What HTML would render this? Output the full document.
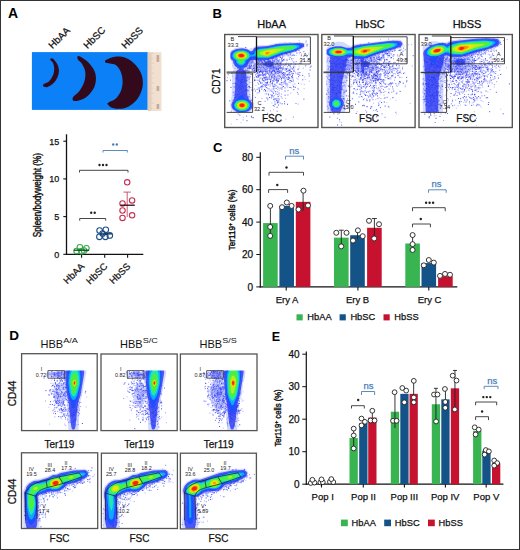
<!DOCTYPE html>
<html><head><meta charset="utf-8"><style>
html,body{margin:0;padding:0;background:#fff;}
svg{display:block;}
text{font-family:"Liberation Sans",sans-serif;}
</style></head><body>
<svg width="520" height="550" viewBox="0 0 520 550">
<defs><clipPath id="c0"><rect x="226" y="36" width="92" height="90"/></clipPath><clipPath id="c1"><rect x="230.3" y="36" width="87.69999999999999" height="76.3"/></clipPath><clipPath id="c2"><rect x="326.3" y="36" width="88.69999999999999" height="90"/></clipPath><clipPath id="c3"><rect x="326.3" y="36" width="88.69999999999999" height="76.3"/></clipPath><clipPath id="c4"><rect x="422.5" y="36" width="89.5" height="90"/></clipPath><clipPath id="c5"><rect x="422.5" y="36" width="89.5" height="76.3"/></clipPath><clipPath id="c6"><rect x="21.6" y="370.4" width="76.0" height="60.200000000000045"/></clipPath><clipPath id="c7"><rect x="101.0" y="370.4" width="76.0" height="60.200000000000045"/></clipPath><clipPath id="c8"><rect x="180.4" y="370.4" width="75.99999999999997" height="60.200000000000045"/></clipPath><filter id="fb" x="-5%" y="-5%" width="110%" height="110%"><feGaussianBlur stdDeviation="0.45"/></filter></defs>
<rect x="0" y="0" width="520" height="550" fill="#fff"/>
<text x="8" y="18" font-size="14" text-anchor="start" fill="#000" font-weight="bold" >A</text>
<text transform="translate(52.6,49.3) rotate(-45) scale(1.0,1)" font-size="9.8" text-anchor="start" fill="#111" stroke="#111" stroke-width="0.25">HbAA</text>
<text transform="translate(87.6,49.3) rotate(-45) scale(1.0,1)" font-size="9.8" text-anchor="start" fill="#111" stroke="#111" stroke-width="0.25">HbSC</text>
<text transform="translate(125.6,49.3) rotate(-45) scale(1.0,1)" font-size="9.8" text-anchor="start" fill="#111" stroke="#111" stroke-width="0.25">HbSS</text>
<rect x="31.9" y="52.1" width="115.9" height="57.8" fill="#0c80f7" />
<rect x="147.8" y="52.2" width="13.6" height="58.8" fill="#f1dfd0" />
<rect x="147.8" y="52.2" width="1.4" height="58.8" fill="#e6c9b6" />
<path d="M149.3,53.2h4.6M149.3,54.2h2.2M149.3,55.2h2.2M149.3,56.2h2.2M149.3,57.2h2.2M149.3,58.2h3.6M149.3,59.2h2.2M149.3,60.2h2.2M149.3,61.2h2.2M149.3,62.2h2.2M149.3,63.2h4.6M149.3,64.2h2.2M149.3,65.2h2.2M149.3,66.2h2.2M149.3,67.2h2.2M149.3,68.2h3.6M149.3,69.2h2.2M149.3,70.2h2.2M149.3,71.2h2.2M149.3,72.2h2.2M149.3,73.2h4.6M149.3,74.2h2.2M149.3,75.2h2.2M149.3,76.2h2.2M149.3,77.2h2.2M149.3,78.2h3.6M149.3,79.2h2.2M149.3,80.2h2.2M149.3,81.2h2.2M149.3,82.2h2.2M149.3,83.2h4.6M149.3,84.2h2.2M149.3,85.2h2.2M149.3,86.2h2.2M149.3,87.2h2.2M149.3,88.2h3.6M149.3,89.2h2.2M149.3,90.2h2.2M149.3,91.2h2.2M149.3,92.2h2.2M149.3,93.2h4.6M149.3,94.2h2.2M149.3,95.2h2.2M149.3,96.2h2.2M149.3,97.2h2.2M149.3,98.2h3.6M149.3,99.2h2.2M149.3,100.2h2.2M149.3,101.2h2.2M149.3,102.2h2.2M149.3,103.2h4.6M149.3,104.2h2.2M149.3,105.2h2.2M149.3,106.2h2.2M149.3,107.2h2.2M149.3,108.2h3.6M149.3,109.2h2.2M149.3,110.2h2.2" stroke="#c9a898" stroke-width="0.35"/>
<rect x="156.6" y="55" width="2.6" height="7" fill="#a08070" opacity="0.55" />
<rect x="156.6" y="86" width="2.6" height="5" fill="#a08070" opacity="0.55" />
<rect x="156.6" y="104" width="2.6" height="5" fill="#a08070" opacity="0.55" />
<path d="M52.2,58.3 C53.3,58.9 55.8,61.5 56.9,63.5 C58.0,65.5 58.8,68.0 58.9,70.2 C59.0,72.4 58.5,74.8 57.6,76.9 C56.7,79.0 55.3,81.3 53.6,83.0 C51.9,84.7 49.2,86.4 47.5,87.0 C45.8,87.6 44.2,87.0 43.5,86.6 C42.8,86.1 42.6,85.1 43.5,84.3 C44.4,83.5 47.2,83.0 48.8,81.6 C50.4,80.1 52.0,77.7 52.9,75.6 C53.8,73.5 54.2,70.9 54.2,68.8 C54.2,66.7 53.6,64.3 52.9,62.8 C52.2,61.3 50.3,60.5 50.2,59.7 C50.1,59.0 51.1,57.7 52.2,58.3Z" fill="#330a1c"/>
<path d="M78.5,56.0 C80.0,56.2 84.0,58.7 86.5,60.8 C89.0,62.9 91.7,66.1 93.3,68.8 C94.9,71.5 95.7,74.0 95.9,76.9 C96.1,79.8 95.7,83.4 94.6,86.3 C93.5,89.2 91.5,92.2 89.2,94.4 C87.0,96.7 83.7,98.7 81.1,99.8 C78.5,100.9 75.0,101.4 73.7,100.9 C72.4,100.5 72.1,98.8 73.1,97.1 C74.1,95.3 77.9,93.1 79.8,90.4 C81.7,87.7 83.6,84.2 84.5,81.0 C85.4,77.8 85.7,74.4 85.2,71.5 C84.8,68.6 83.0,65.5 81.8,63.5 C80.6,61.5 78.3,60.6 77.8,59.4 C77.2,58.1 77.0,55.8 78.5,56.0Z" fill="#330a1c"/>
<path d="M105.8,60.1 C107.4,59.1 111.8,57.0 115.2,56.7 C118.6,56.4 122.6,56.8 126.0,58.1 C129.4,59.5 132.8,62.1 135.4,64.8 C138.0,67.5 140.2,70.8 141.4,74.2 C142.6,77.6 143.1,81.4 142.8,85.0 C142.5,88.6 141.1,92.7 139.4,95.8 C137.7,98.9 135.4,101.7 132.7,103.8 C130.0,105.9 126.7,107.8 123.3,108.5 C119.9,109.2 115.1,108.6 112.5,107.9 C109.9,107.2 108.5,105.4 107.8,104.5 C107.1,103.6 107.3,103.4 108.5,102.5 C109.7,101.6 113.2,100.9 115.2,99.1 C117.2,97.3 119.4,94.5 120.6,91.7 C121.8,88.9 122.5,85.4 122.6,82.3 C122.7,79.2 122.2,75.7 121.2,72.9 C120.2,70.1 118.4,67.1 116.5,65.5 C114.6,63.9 111.6,64.0 109.8,63.5 C108.0,63.0 106.5,63.4 105.8,62.8 C105.1,62.2 104.2,61.1 105.8,60.1Z" fill="#330a1c"/>
<line x1="66.5" y1="134.3" x2="66.5" y2="254.9" stroke="#111" stroke-width="1.3"/>
<line x1="65.9" y1="254.3" x2="143.3" y2="254.3" stroke="#111" stroke-width="1.3"/>
<line x1="63.3" y1="254.3" x2="66.5" y2="254.3" stroke="#111" stroke-width="1.1"/>
<text x="59.2" y="257.6" font-size="9" text-anchor="end" fill="#111" font-weight="normal" stroke="#111" stroke-width="0.25" >0</text>
<line x1="63.3" y1="216.60000000000002" x2="66.5" y2="216.60000000000002" stroke="#111" stroke-width="1.1"/>
<text x="59.2" y="219.90000000000003" font-size="9" text-anchor="end" fill="#111" font-weight="normal" stroke="#111" stroke-width="0.25" >5</text>
<line x1="63.3" y1="178.9" x2="66.5" y2="178.9" stroke="#111" stroke-width="1.1"/>
<text x="59.2" y="182.20000000000002" font-size="9" text-anchor="end" fill="#111" font-weight="normal" stroke="#111" stroke-width="0.25" >10</text>
<line x1="63.3" y1="141.20000000000002" x2="66.5" y2="141.20000000000002" stroke="#111" stroke-width="1.1"/>
<text x="59.2" y="144.50000000000003" font-size="9" text-anchor="end" fill="#111" font-weight="normal" stroke="#111" stroke-width="0.25" >15</text>
<line x1="81.6" y1="254.3" x2="81.6" y2="257.7" stroke="#111" stroke-width="1.1"/>
<line x1="104.7" y1="254.3" x2="104.7" y2="257.7" stroke="#111" stroke-width="1.1"/>
<line x1="127.6" y1="254.3" x2="127.6" y2="257.7" stroke="#111" stroke-width="1.1"/>
<text transform="translate(84.89999999999999,267) rotate(-45) scale(1.0,1)" font-size="9.5" text-anchor="end" fill="#111" stroke="#111" stroke-width="0.25">HbAA</text>
<text transform="translate(108.0,267) rotate(-45) scale(1.0,1)" font-size="9.5" text-anchor="end" fill="#111" stroke="#111" stroke-width="0.25">HbSC</text>
<text transform="translate(130.9,267) rotate(-45) scale(1.0,1)" font-size="9.5" text-anchor="end" fill="#111" stroke="#111" stroke-width="0.25">HbSS</text>
<text transform="translate(41.2,195.1) rotate(-90) scale(0.82,1)" font-size="10" text-anchor="middle" fill="#111" stroke="#111" stroke-width="0.42">Spleen/bodyweight (%)</text>
<circle cx="79.9" cy="247.3" r="2.8" fill="none" stroke="#3aa84e" stroke-width="1.1"/>
<circle cx="86.4" cy="248.3" r="2.8" fill="none" stroke="#3aa84e" stroke-width="1.1"/>
<circle cx="76.6" cy="251" r="2.8" fill="none" stroke="#3aa84e" stroke-width="1.1"/>
<circle cx="81.6" cy="251.2" r="2.8" fill="none" stroke="#3aa84e" stroke-width="1.1"/>
<circle cx="84" cy="250.5" r="2.8" fill="none" stroke="#3aa84e" stroke-width="1.1"/>
<line x1="73.9" y1="250.2" x2="88.9" y2="250.2" stroke="#0a4a1a" stroke-width="1.3"/>
<circle cx="99.6" cy="230.5" r="2.8" fill="none" stroke="#1d4f86" stroke-width="1.1"/>
<circle cx="105.8" cy="229.8" r="2.8" fill="none" stroke="#1d4f86" stroke-width="1.1"/>
<circle cx="99.4" cy="236.8" r="2.8" fill="none" stroke="#1d4f86" stroke-width="1.1"/>
<circle cx="105.4" cy="236.8" r="2.8" fill="none" stroke="#1d4f86" stroke-width="1.1"/>
<circle cx="109.8" cy="235.4" r="2.8" fill="none" stroke="#1d4f86" stroke-width="1.1"/>
<circle cx="102.6" cy="233.5" r="2.8" fill="none" stroke="#1d4f86" stroke-width="1.1"/>
<line x1="100.3" y1="233.9" x2="111.8" y2="233.9" stroke="#0a2a50" stroke-width="1.3"/>
<line x1="127.2" y1="192.1" x2="127.2" y2="217" stroke="#c03050" stroke-width="0.8"/>
<line x1="123.4" y1="192.1" x2="130.8" y2="192.1" stroke="#c03050" stroke-width="0.8"/>
<circle cx="127.2" cy="182.3" r="2.7" fill="none" stroke="#c83050" stroke-width="1.1"/>
<circle cx="132.1" cy="200.4" r="2.7" fill="none" stroke="#c83050" stroke-width="1.1"/>
<circle cx="122.5" cy="203.5" r="2.7" fill="none" stroke="#c83050" stroke-width="1.1"/>
<circle cx="122.5" cy="210.5" r="2.7" fill="none" stroke="#c83050" stroke-width="1.1"/>
<circle cx="122.5" cy="217.9" r="2.7" fill="none" stroke="#c83050" stroke-width="1.1"/>
<circle cx="132.1" cy="215.3" r="2.7" fill="none" stroke="#c83050" stroke-width="1.1"/>
<line x1="120.4" y1="205.2" x2="134.8" y2="205.2" stroke="#2a0a10" stroke-width="1.3"/>
<path d="M79.7,220.7 V218.5 H105.7 V220.7" fill="none" stroke="#333" stroke-width="0.9"/>
<circle cx="91.2" cy="212.8" r="1.2" fill="#222"/>
<circle cx="94.7" cy="212.8" r="1.2" fill="#222"/>
<path d="M79.5,172.5 V170.3 H128 V172.5" fill="none" stroke="#333" stroke-width="0.9"/>
<circle cx="99.5" cy="165" r="1.2" fill="#222"/>
<circle cx="103.0" cy="165" r="1.2" fill="#222"/>
<circle cx="106.5" cy="165" r="1.2" fill="#222"/>
<path d="M103,152.5 V150.5 H127.4 V152.5" fill="none" stroke="#4a7fb8" stroke-width="0.9"/>
<circle cx="113.2" cy="144.5" r="1.2" fill="#4a7fb8"/>
<circle cx="116.8" cy="144.5" r="1.2" fill="#4a7fb8"/>
<text x="212.5" y="18.3" font-size="13" text-anchor="start" fill="#000" font-weight="bold" >B</text>
<text x="271.7" y="28" font-size="11" text-anchor="middle" fill="#111" font-weight="normal" stroke="#111" stroke-width="0.25" >HbAA</text>
<text x="370" y="28" font-size="11" text-anchor="middle" fill="#111" font-weight="normal" stroke="#111" stroke-width="0.25" >HbSC</text>
<text x="467" y="28" font-size="11" text-anchor="middle" fill="#111" font-weight="normal" stroke="#111" stroke-width="0.25" >HbSS</text>
<g clip-path="url(#c0)">
<path d="M246.0 56.7h1M289.8 70.1h1M290.5 68.0h1M244.3 60.5h1M254.7 69.9h1M266.7 73.1h1M260.6 72.1h1M235.0 65.5h1M244.5 103.9h1M242.6 82.7h1M274.8 51.9h1M277.7 73.3h1M291.6 47.4h1M306.5 45.9h1M309.6 70.0h1M265.3 74.0h1M266.2 87.6h1M249.0 86.6h1M238.3 62.7h1M292.4 73.3h1M258.6 80.4h1M249.2 68.1h1M248.4 96.4h1M275.6 80.3h1M242.2 54.1h1M243.5 73.6h1M279.9 63.5h1M240.4 83.8h1M248.3 59.6h1M247.0 55.3h1M249.1 67.1h1M241.0 77.1h1M276.6 107.2h1M264.5 69.1h1M278.4 72.1h1M310.7 66.1h1M248.6 65.8h1M251.8 62.1h1M277.3 70.0h1M270.7 71.4h1M286.8 75.2h1M240.2 88.2h1M265.4 77.6h1M258.1 62.1h1M269.5 68.3h1M269.4 65.7h1M302.4 45.5h1M246.0 85.2h1M253.3 65.6h1M243.3 101.1h1M238.3 91.6h1M246.8 70.2h1M249.3 61.8h1M279.5 76.0h1M246.2 66.0h1M272.3 76.9h1M259.2 69.5h1M282.4 69.4h1M265.7 85.6h1M281.8 73.4h1M272.3 75.5h1M252.2 90.3h1M279.0 76.1h1M243.2 86.9h1M280.8 82.8h1M277.3 78.2h1M285.4 64.3h1M234.7 83.5h1M280.3 71.1h1M265.6 73.8h1M273.8 68.0h1M256.4 64.2h1M244.6 70.3h1M276.5 80.4h1M277.6 72.1h1M268.8 66.5h1M265.4 73.0h1M286.5 83.9h1M278.8 84.2h1M273.1 65.2h1M248.8 64.1h1M239.4 88.7h1M281.2 60.0h1M269.0 97.5h1M261.1 63.2h1M289.6 57.3h1M264.8 71.7h1M282.4 55.0h1M273.6 86.4h1M246.8 99.5h1M283.7 81.4h1M276.8 102.9h1M287.0 104.3h1M261.9 61.8h1M293.3 62.1h1M286.0 68.9h1M278.3 101.0h1M241.0 107.0h1M274.7 73.6h1M268.9 79.0h1M244.7 76.9h1M239.6 64.2h1M251.4 117.4h1M253.4 64.9h1M261.3 89.1h1M260.2 87.1h1M272.2 71.9h1M281.5 58.4h1M233.5 95.4h1M253.4 58.7h1M279.6 88.1h1M263.0 71.8h1M292.0 69.0h1M278.0 69.4h1M289.6 52.7h1M245.8 64.1h1M236.9 76.1h1M273.7 79.6h1M281.3 85.1h1M273.1 89.0h1M281.1 58.9h1M278.1 53.8h1M278.5 71.0h1M274.8 65.2h1M267.6 67.4h1M253.3 59.3h1M235.2 96.3h1M269.8 63.0h1M243.8 61.6h1M246.8 63.1h1M264.1 74.3h1M275.7 70.0h1M307.0 55.7h1M267.0 82.6h1M271.3 58.8h1M273.0 93.2h1M267.1 73.4h1M262.7 65.6h1M264.5 85.5h1M250.6 100.3h1M279.6 63.0h1M259.0 75.0h1M284.6 91.0h1M256.7 62.0h1M248.4 77.4h1M261.7 82.9h1M272.3 86.0h1M277.0 102.0h1M267.2 68.2h1M252.7 68.3h1M255.7 64.8h1M240.3 81.3h1M262.8 54.3h1M251.2 65.1h1M266.7 79.8h1M271.3 91.2h1M269.7 74.4h1M283.6 75.7h1M288.9 59.1h1M272.5 66.4h1M241.1 88.8h1M258.9 89.1h1M244.6 66.6h1M241.0 74.3h1M254.8 69.3h1M253.2 62.9h1M274.4 76.9h1M291.7 55.4h1M297.6 89.0h1M257.9 65.1h1M245.2 55.8h1M247.6 67.7h1M270.5 66.3h1M247.3 65.1h1M268.1 63.6h1M259.5 75.6h1M253.4 66.9h1M238.1 87.3h1M278.0 105.0h1M297.5 73.0h1M288.7 74.5h1M259.2 49.7h1M287.7 49.4h1M271.8 77.5h1M264.8 86.8h1M266.4 97.9h1M239.8 82.8h1M296.5 49.8h1M276.4 67.1h1M294.9 49.6h1M242.9 76.2h1M241.2 81.1h1M272.8 67.9h1M241.0 86.4h1M230.0 80.2h1M258.0 69.9h1M249.7 59.6h1M257.6 68.0h1M251.9 69.6h1M261.0 54.2h1M254.3 63.8h1M274.3 75.2h1M272.7 70.7h1M260.0 58.7h1M280.4 64.0h1M278.0 69.3h1M282.4 60.4h1M279.6 76.7h1M242.7 60.2h1M239.9 98.2h1M256.5 62.0h1M229.3 100.9h1M259.1 62.5h1M258.9 58.5h1M260.8 60.1h1M275.9 80.2h1M280.1 68.8h1M239.9 56.2h1M258.0 62.8h1M306.6 44.4h1M261.5 72.0h1M274.6 98.9h1M240.3 59.0h1M277.2 68.5h1M248.1 72.4h1M270.0 79.8h1M268.0 94.8h1M246.6 87.3h1M272.1 83.8h1M290.8 71.5h1M293.4 71.1h1M286.2 53.1h1M261.0 56.0h1M274.5 99.0h1M262.2 62.3h1M266.1 67.6h1M258.1 63.5h1M239.7 87.3h1M286.7 71.1h1M302.2 75.4h1M278.1 51.6h1M278.2 72.2h1M299.4 72.5h1M271.7 95.1h1M266.4 79.0h1M248.3 55.0h1M283.9 75.4h1M241.2 74.4h1M250.2 63.8h1M250.7 59.0h1M281.4 88.0h1M303.4 99.1h1M268.6 58.3h1M289.7 74.8h1M294.5 49.8h1M286.1 69.5h1M240.7 90.1h1M254.3 80.7h1M273.9 68.1h1M278.4 75.0h1M251.2 58.4h1M251.8 70.8h1M270.1 72.2h1M290.6 63.8h1M278.5 70.9h1M270.8 73.6h1M267.8 61.6h1M242.8 52.9h1M261.8 64.5h1M280.5 62.7h1M251.5 60.1h1M247.0 60.6h1M273.5 68.4h1M259.7 55.0h1M238.6 63.1h1M237.1 88.9h1M257.6 58.2h1M279.7 71.4h1M282.0 55.4h1M286.5 75.2h1M256.4 76.9h1M281.4 61.3h1M263.6 60.7h1M275.8 78.3h1M258.1 71.1h1M244.2 81.0h1M254.2 65.1h1M282.7 72.5h1M284.9 53.1h1M277.6 66.6h1M308.3 59.1h1M297.5 69.6h1M259.2 81.6h1M267.3 66.7h1M243.5 71.7h1M248.3 61.9h1M270.8 97.9h1M244.4 64.0h1M261.8 62.5h1M251.6 59.4h1M293.3 89.7h1M289.6 65.8h1M271.9 64.6h1M282.1 56.6h1M282.1 52.1h1M257.5 67.2h1M245.8 65.0h1M267.3 81.9h1M275.2 57.2h1M256.5 73.8h1M233.7 86.9h1M240.8 64.0h1M270.7 63.8h1M277.7 96.6h1M266.4 56.4h1M266.8 68.8h1M271.5 83.7h1M245.8 66.5h1M264.2 63.9h1M275.7 56.9h1M287.6 55.8h1M278.7 78.7h1M249.5 58.8h1M265.1 67.0h1M276.0 71.4h1M275.5 93.9h1M273.6 67.2h1M270.8 77.9h1M260.1 82.3h1M297.6 74.4h1M269.1 60.7h1M284.6 95.2h1M256.6 89.3h1M274.6 58.7h1M271.9 82.3h1M245.3 47.5h1M241.9 59.4h1M295.2 64.2h1M265.0 75.0h1M234.4 97.5h1M274.7 66.2h1M268.9 77.3h1M284.5 87.9h1M247.0 84.8h1M276.3 72.8h1M250.3 101.0h1M290.4 71.4h1M242.5 79.5h1M276.9 63.1h1M277.1 54.8h1M263.0 70.7h1M248.3 56.9h1" stroke="#3040ff" stroke-width="0.9"/><path d="M277.5 53.6h1M245.4 75.1h1M239.9 80.6h1M242.9 63.8h1M239.4 93.5h1M265.3 69.5h1M295.7 61.6h1M263.6 74.8h1M282.3 68.3h1M246.1 116.1h1M279.4 70.6h1M249.2 61.1h1M258.4 75.8h1M292.5 81.7h1M284.0 77.8h1M271.2 63.1h1M299.4 75.7h1M293.3 55.0h1M261.8 78.5h1M273.2 86.9h1M263.0 60.6h1M292.8 117.1h1M268.1 52.0h1M269.3 70.3h1M258.0 74.0h1M256.9 58.1h1M249.4 61.3h1M268.6 79.3h1M270.2 81.5h1M275.5 85.6h1M274.2 73.7h1M257.4 60.6h1M265.5 73.3h1M282.3 56.8h1M271.6 58.2h1M303.3 51.7h1M271.0 77.4h1M243.7 66.4h1M238.3 83.8h1M259.7 68.0h1M270.6 72.2h1M255.7 69.4h1M257.0 58.4h1M245.7 66.7h1M237.2 77.3h1M281.1 71.9h1M250.6 54.1h1M284.9 76.5h1M263.1 63.9h1M259.6 78.2h1M240.3 99.4h1M274.6 104.6h1M274.4 101.8h1M255.6 65.5h1M254.6 67.2h1M255.6 54.8h1M281.0 72.6h1M252.5 66.5h1M261.2 67.4h1M244.3 95.6h1M270.3 64.4h1M251.1 68.7h1M282.8 66.7h1M275.2 59.8h1M271.9 60.3h1M295.3 51.4h1M243.0 65.2h1M233.7 92.0h1M298.9 63.4h1M264.8 76.0h1M238.6 100.5h1M260.9 65.1h1M247.0 89.7h1M247.5 97.5h1M272.7 62.4h1M265.3 84.5h1M281.0 78.0h1M277.9 66.1h1M253.6 56.8h1M274.4 63.0h1M287.8 46.4h1M243.8 60.4h1M248.2 60.4h1M260.2 64.3h1M267.8 60.2h1M243.1 102.7h1M257.9 69.4h1M262.3 57.4h1M280.7 96.8h1M275.8 67.6h1M279.6 57.2h1M280.7 54.2h1M269.6 65.8h1M267.2 78.6h1M284.7 47.6h1M254.4 69.2h1M271.6 71.5h1M262.1 70.2h1M271.1 78.2h1M266.6 52.0h1M271.4 95.1h1M264.5 48.8h1M248.8 79.2h1M288.5 48.4h1M255.7 59.2h1M277.1 87.1h1M280.0 66.5h1M268.1 62.3h1M297.7 94.1h1M270.8 69.2h1M256.3 65.6h1M261.7 75.4h1M263.3 77.9h1M265.5 53.6h1M248.6 68.1h1M249.6 60.5h1M275.0 66.1h1M258.4 65.4h1M263.8 60.1h1M265.9 51.6h1M250.0 55.0h1M272.0 59.7h1M262.1 63.9h1M268.2 61.3h1M298.0 76.6h1M270.0 63.1h1M280.1 48.3h1M232.4 100.5h1M270.0 61.4h1M271.0 64.1h1M279.4 72.7h1M277.7 73.2h1M283.7 82.9h1M236.4 119.6h1M269.2 115.6h1M270.3 52.4h1M256.7 73.3h1M255.0 91.0h1M257.3 75.5h1M247.5 68.2h1M274.2 54.4h1M243.4 90.9h1M273.1 63.2h1M261.2 58.5h1M262.6 64.4h1M237.6 55.4h1M260.0 67.9h1M232.6 83.4h1M276.7 111.2h1M264.9 71.5h1M239.0 59.6h1M240.4 108.5h1M237.2 85.5h1M242.0 82.6h1M258.0 67.0h1M274.0 84.3h1M245.2 51.1h1M262.4 78.1h1M281.7 69.2h1M270.1 65.0h1M296.9 92.4h1M304.9 65.8h1M265.6 48.0h1M272.8 65.7h1M259.4 75.6h1M277.5 79.3h1M276.9 73.1h1M266.4 71.5h1M251.3 74.5h1M293.6 70.0h1M251.5 108.4h1M237.4 78.5h1M264.2 60.5h1M247.7 90.3h1M273.2 86.6h1M274.7 72.8h1M267.1 79.6h1M237.0 95.2h1M260.2 74.5h1M269.4 69.1h1M284.0 101.7h1M274.6 103.9h1M276.1 56.8h1M235.5 86.4h1M260.0 69.2h1M260.5 71.1h1M257.4 68.8h1M278.6 56.0h1M252.1 62.1h1M298.2 50.3h1M295.5 103.4h1M274.8 91.7h1M242.7 93.4h1M292.4 73.5h1M250.0 58.5h1M281.0 80.1h1M241.8 94.6h1M256.4 63.4h1M267.0 59.8h1M248.6 55.8h1M237.6 61.2h1M281.7 57.6h1M276.4 98.4h1M243.9 86.3h1M245.1 90.2h1M283.0 68.1h1M262.3 73.4h1M265.6 79.5h1M274.7 72.4h1M279.4 68.4h1M227.7 74.7h1M261.9 78.8h1M238.8 80.0h1M254.9 97.4h1M270.5 68.1h1M276.6 82.8h1M263.2 63.0h1M243.4 77.5h1M267.9 94.1h1M252.6 68.2h1M266.2 93.9h1M275.3 91.7h1M264.0 60.5h1M289.4 80.4h1M254.6 58.9h1M269.6 90.0h1M268.2 74.5h1M243.3 95.1h1M276.5 82.5h1M293.7 55.5h1M252.4 62.2h1M244.5 66.1h1M243.1 61.2h1M273.4 77.5h1M268.6 61.4h1M279.7 103.1h1M267.2 99.8h1M308.8 76.0h1M267.1 79.5h1M264.2 64.3h1M298.2 45.1h1M286.5 68.3h1M272.2 64.9h1M279.0 52.7h1M244.0 63.8h1M278.1 61.8h1M242.6 88.8h1M266.5 84.7h1M239.8 85.6h1M273.2 58.1h1M269.2 68.2h1M285.5 64.7h1M275.3 65.1h1M274.9 53.6h1M271.8 74.3h1M263.9 65.4h1M238.9 59.9h1M287.9 70.3h1M245.9 70.5h1M260.7 71.0h1M233.1 108.0h1M244.3 80.1h1M267.2 113.3h1M255.8 61.0h1M282.4 75.7h1M276.4 61.4h1M290.2 53.6h1M270.4 51.8h1M269.8 67.6h1M238.1 80.3h1M261.5 56.9h1M262.0 66.5h1M294.3 45.3h1M288.5 75.1h1M271.8 65.9h1M279.4 56.1h1M270.5 58.5h1M268.9 67.6h1M255.1 74.8h1M266.2 83.3h1M305.7 41.1h1M287.4 95.0h1M243.9 61.8h1M265.7 69.2h1M264.6 101.3h1M271.5 68.1h1M288.3 64.5h1M275.6 73.1h1M289.7 55.0h1M287.5 90.6h1M275.3 67.5h1M239.0 86.2h1M292.6 79.1h1M261.4 71.0h1M256.7 80.2h1M278.5 68.2h1M289.9 54.2h1M288.1 79.0h1M242.2 76.8h1M292.6 73.7h1M277.6 69.1h1M269.0 57.2h1M289.9 52.7h1M266.3 66.7h1M245.0 69.2h1M251.5 63.7h1M285.5 48.1h1M285.2 83.3h1M247.4 65.9h1M246.7 58.2h1M259.6 65.4h1M235.3 61.6h1M267.3 60.2h1M278.2 56.1h1M270.4 67.8h1M272.4 92.1h1M271.7 67.5h1M277.5 76.1h1M242.1 79.7h1M280.8 72.0h1M287.2 85.1h1M262.9 84.5h1M293.7 48.8h1M244.6 64.3h1M277.4 60.5h1M291.4 73.8h1M277.9 65.7h1M230.8 111.1h1M279.8 77.6h1M286.5 60.1h1M246.4 79.2h1M278.3 68.3h1M260.2 57.4h1" stroke="#5a68ff" stroke-width="0.9"/><path d="M247.6 70.9h1M290.4 87.5h1M259.0 58.0h1M297.7 44.6h1M277.2 68.2h1M257.7 87.8h1M273.2 67.9h1M284.3 65.4h1M253.9 66.1h1M249.5 59.2h1M250.8 64.6h1M268.2 73.9h1M284.2 80.0h1M262.6 67.4h1M246.1 53.5h1M258.7 74.5h1M273.2 96.1h1M259.5 64.9h1M246.2 70.7h1M272.6 77.4h1M301.0 54.1h1M246.3 56.6h1M267.6 67.8h1M267.7 66.9h1M289.4 52.6h1M241.9 86.8h1M272.4 67.7h1M275.6 69.5h1M257.3 69.7h1M279.7 84.2h1M239.3 65.0h1M292.6 85.0h1M293.2 71.1h1M267.5 67.0h1M278.6 90.1h1M247.8 72.5h1M240.5 79.9h1M266.0 62.2h1M248.5 72.0h1M254.3 68.9h1M239.8 68.4h1M240.2 63.3h1M279.9 72.7h1M259.0 62.2h1M244.6 75.1h1M258.4 64.8h1M257.1 73.2h1M291.8 60.9h1M245.9 90.6h1M273.0 57.7h1M259.8 59.5h1M269.1 72.7h1M254.1 77.8h1M285.4 48.5h1M275.8 57.9h1M252.6 67.3h1M292.5 58.7h1M242.2 84.1h1M268.3 84.8h1M278.5 52.3h1M237.6 107.3h1M255.9 63.7h1M268.0 67.5h1M266.6 69.1h1M248.9 58.1h1M274.5 86.2h1M271.3 67.8h1M245.0 65.1h1M233.4 99.4h1M243.4 56.9h1M271.4 65.4h1M268.0 60.2h1M250.2 56.8h1M245.5 83.7h1M295.6 48.5h1M280.1 84.6h1M281.9 68.8h1M294.4 66.8h1M294.6 45.8h1M298.3 68.5h1M260.2 56.8h1M287.0 66.6h1M263.9 67.8h1M249.7 66.1h1M274.1 70.8h1M271.8 77.5h1M244.9 101.5h1M265.4 51.1h1M285.7 85.1h1M287.2 52.2h1M264.9 74.3h1M285.5 74.4h1M263.4 75.3h1M281.9 87.1h1M267.4 67.4h1M239.2 89.7h1M281.6 55.0h1M293.5 65.0h1M272.5 50.9h1M264.6 74.0h1M274.2 59.9h1M258.5 92.7h1M253.6 59.0h1M267.3 98.7h1M270.8 62.1h1M284.3 55.2h1M288.6 82.4h1M286.5 60.4h1M278.6 63.7h1M242.8 95.2h1M250.0 59.8h1M239.2 66.5h1M251.6 60.2h1M280.6 64.7h1M281.1 94.1h1M280.6 74.7h1M272.4 84.8h1M255.4 60.8h1M262.6 68.0h1M278.3 54.8h1M261.3 68.0h1M264.4 66.9h1M267.6 85.0h1M264.9 79.5h1M293.0 86.8h1M273.4 67.0h1M241.5 58.6h1M258.2 84.5h1M264.7 65.0h1M284.0 59.2h1M267.3 77.4h1M284.3 75.2h1M279.0 66.0h1M276.2 77.7h1M237.0 95.7h1M250.3 54.3h1M275.6 64.1h1M245.0 73.1h1M250.8 61.4h1M266.1 73.5h1M271.5 89.0h1M262.9 56.1h1M247.5 55.5h1M274.6 76.2h1M276.4 70.6h1M248.9 63.9h1M248.1 61.2h1M275.4 80.4h1M248.3 52.6h1M290.0 66.4h1M244.5 94.0h1M238.7 57.9h1M258.7 61.9h1M244.8 80.3h1M266.7 56.2h1M253.2 71.0h1M257.8 83.3h1M276.0 67.2h1M246.0 94.0h1M292.8 66.4h1M290.0 53.0h1M248.4 62.5h1M265.3 62.9h1M250.8 61.8h1M261.3 59.2h1M242.8 81.4h1M250.4 66.6h1M273.3 80.9h1M297.7 104.1h1M258.4 88.4h1M305.4 42.8h1M240.6 78.5h1M278.4 78.5h1M250.7 66.8h1M274.9 77.6h1M288.0 65.1h1M258.9 71.3h1M249.9 74.6h1M273.0 78.9h1M252.6 70.1h1M256.8 56.3h1M279.2 95.1h1M285.2 82.4h1M273.6 71.2h1M262.2 64.2h1M250.9 103.3h1M232.7 92.8h1M265.8 62.3h1M276.8 72.5h1M282.0 76.3h1M277.2 81.5h1M270.7 67.5h1M242.5 92.7h1M275.0 68.3h1M274.5 67.7h1M240.4 81.0h1M265.3 66.5h1M268.5 73.0h1M256.3 61.7h1M281.1 68.5h1M262.9 56.2h1M276.0 67.2h1M272.5 96.8h1M294.4 83.9h1M272.0 62.6h1M240.4 69.2h1M261.4 98.4h1M256.0 55.8h1M268.0 56.5h1M233.9 57.4h1M237.4 67.0h1M263.6 63.6h1M284.9 84.3h1M265.2 91.5h1M264.2 57.0h1M287.9 71.0h1M243.3 90.0h1M284.8 78.1h1M237.3 106.5h1M242.1 81.0h1M261.9 85.4h1M245.9 94.6h1M280.8 89.2h1M275.9 62.8h1M238.1 81.5h1M282.2 52.7h1M277.6 63.4h1M276.0 59.3h1M248.0 61.1h1M251.3 52.9h1M271.9 77.2h1M261.7 79.8h1M289.6 72.3h1M287.6 63.3h1M270.0 56.6h1M239.5 87.7h1M283.7 76.8h1M255.1 64.2h1M245.0 56.7h1M279.1 59.7h1M266.2 63.5h1M267.7 88.9h1M300.4 62.6h1M258.8 62.2h1M261.0 51.4h1M291.6 47.3h1M248.7 70.2h1M249.3 62.0h1M270.0 73.6h1M251.1 89.8h1M276.2 56.6h1M264.4 55.5h1M245.3 63.7h1M260.9 61.2h1M254.6 56.7h1M280.9 70.7h1M278.4 69.1h1M276.9 55.9h1M266.1 54.2h1M288.2 54.9h1M242.7 119.9h1M239.5 69.9h1M268.8 69.8h1M250.5 48.8h1M244.3 78.4h1M291.8 68.9h1M290.0 49.0h1M253.2 70.1h1M308.3 54.1h1M268.9 75.0h1M275.2 67.9h1M268.0 73.3h1M273.4 60.4h1M283.3 64.5h1M231.8 76.2h1M281.7 98.3h1M249.4 94.6h1M249.2 62.3h1M283.5 74.4h1M298.6 50.1h1M262.1 70.3h1M299.3 42.4h1M298.2 45.4h1M237.0 85.0h1M261.3 61.5h1M271.6 67.0h1M291.3 77.3h1M244.6 109.1h1M244.6 60.6h1M288.1 76.7h1M267.6 73.5h1M246.6 68.0h1M265.3 73.1h1M266.3 67.6h1M267.1 72.6h1M260.3 63.8h1M261.8 74.8h1M297.5 79.1h1M250.2 63.4h1M272.2 70.1h1M265.4 82.9h1M282.5 84.2h1M271.5 75.6h1M273.9 106.3h1M278.5 46.2h1M283.4 82.9h1M302.7 68.2h1M233.1 92.3h1M253.8 53.8h1M276.8 75.7h1M252.7 61.5h1M270.0 110.9h1M266.3 70.9h1" stroke="#8890ff" stroke-width="0.9"/><path d="M248.6 57.7h1M271.4 102.9h1M242.0 103.3h1M289.7 42.8h1M266.7 50.2h1M290.3 53.8h1M264.9 69.2h1M274.5 51.3h1M285.6 54.9h1M240.4 65.8h1M254.4 56.3h1M271.3 113.5h1M245.6 64.8h1M251.4 60.2h1M250.5 87.5h1M259.2 62.2h1M242.3 96.6h1M267.1 88.4h1M295.9 46.8h1M272.6 69.2h1M292.7 49.3h1M260.5 77.5h1M251.1 65.5h1M255.9 60.3h1M274.0 72.0h1M256.2 56.7h1M283.3 48.3h1M256.7 93.7h1M277.4 74.9h1M278.0 71.3h1M254.1 67.4h1M268.3 66.6h1M246.8 78.5h1M266.3 83.4h1M260.9 69.5h1M271.7 70.8h1M272.1 65.0h1M264.6 70.6h1M247.3 76.9h1M255.7 63.0h1M267.4 67.0h1M288.6 74.5h1M233.8 87.6h1M271.0 79.2h1M270.9 73.6h1M251.5 55.6h1M274.8 71.9h1M260.7 86.6h1M255.0 66.8h1M263.1 90.9h1M250.4 68.7h1M236.7 97.7h1M275.7 59.4h1M277.7 76.5h1M273.9 88.2h1M276.8 89.5h1M271.5 95.6h1M243.9 81.8h1M256.0 58.2h1M277.2 91.9h1M281.8 75.6h1M266.8 91.1h1M255.4 63.7h1M253.7 70.4h1M258.0 67.0h1M258.5 69.6h1M263.6 81.6h1M305.5 65.9h1M276.3 99.7h1M285.2 63.7h1M308.8 81.1h1M280.1 68.1h1M303.8 84.4h1M290.3 64.5h1M293.0 80.6h1M262.0 69.8h1M249.8 64.1h1M278.1 55.9h1M278.1 67.7h1M242.1 92.9h1M267.1 67.2h1M294.0 71.5h1M270.4 67.2h1M262.4 75.6h1M285.7 47.5h1M251.1 56.3h1M273.5 100.2h1M274.6 75.3h1M239.0 87.2h1M268.7 70.7h1M290.3 78.8h1M241.6 77.0h1M255.0 66.6h1M300.7 84.1h1M236.0 85.0h1M288.5 70.8h1M266.0 77.2h1M290.0 44.6h1M264.7 73.8h1M297.0 43.1h1M275.9 83.1h1M287.0 68.5h1M241.4 91.4h1M261.0 72.2h1M241.5 74.6h1M240.9 69.6h1M257.8 59.3h1M299.1 74.5h1M295.4 73.6h1M273.0 66.2h1M242.2 87.5h1M234.1 97.8h1M272.4 74.8h1M258.4 64.9h1M255.1 63.7h1M277.5 72.2h1M266.5 77.4h1M237.8 113.7h1M271.8 76.8h1M274.9 84.7h1M272.0 69.3h1M265.3 55.9h1M265.9 76.4h1M278.4 60.9h1M286.7 53.6h1M272.7 58.4h1M265.8 55.1h1M265.6 73.0h1M258.9 67.2h1M276.2 71.1h1M261.6 64.2h1M246.0 85.9h1M286.9 75.0h1M272.4 70.2h1M245.0 93.9h1M253.3 54.9h1M273.0 70.3h1M265.4 66.9h1M246.5 57.7h1M283.9 74.7h1M273.3 71.0h1M260.7 85.9h1M242.0 70.7h1M270.2 71.8h1M261.9 79.1h1M277.9 87.0h1M275.9 76.6h1M274.8 51.9h1M240.9 83.7h1M275.0 65.2h1M281.0 65.5h1M238.6 63.9h1M251.7 57.5h1M262.7 64.9h1M263.0 66.0h1M247.8 102.8h1M243.0 100.5h1M254.3 89.7h1M264.3 68.1h1M277.8 61.7h1M276.4 62.8h1M260.6 59.9h1M287.3 87.2h1M244.6 96.0h1M284.1 56.0h1M277.0 91.7h1M299.5 48.5h1M260.2 87.2h1M278.6 57.9h1M259.0 65.5h1M254.6 72.7h1M292.0 76.5h1M242.6 91.7h1M261.6 71.7h1M247.4 69.4h1M253.8 55.7h1M296.3 78.2h1M269.6 71.0h1M245.6 64.6h1M243.1 69.1h1M265.9 71.4h1M259.0 87.6h1M279.4 56.1h1M240.5 88.0h1M260.7 53.6h1M281.5 70.8h1M236.4 70.6h1M266.6 65.4h1M239.2 70.0h1M270.3 59.1h1M262.3 67.0h1M269.4 62.9h1M266.2 56.2h1M260.8 58.0h1M283.9 49.3h1M263.8 67.3h1M267.8 57.9h1M278.0 71.1h1M257.2 49.4h1M261.1 74.8h1M242.8 87.5h1M275.1 64.7h1M272.4 78.1h1M251.5 63.1h1M281.5 61.1h1M242.8 117.4h1M277.9 101.3h1M263.2 61.2h1M289.3 55.0h1M255.3 76.1h1M247.6 66.6h1M293.2 49.2h1M277.7 55.7h1M265.3 53.3h1M264.6 93.9h1M290.3 67.9h1M274.0 73.4h1M273.8 90.4h1M263.3 76.6h1M257.6 62.0h1M247.0 100.0h1M234.6 68.5h1M281.6 89.5h1M266.8 72.4h1M269.5 62.3h1M280.6 79.3h1M272.9 47.7h1M263.5 53.1h1M250.1 67.5h1M288.6 71.0h1M262.0 73.3h1M280.4 54.0h1M264.5 70.2h1M245.8 61.1h1M246.4 55.1h1M264.6 67.3h1M269.8 64.1h1M273.0 74.7h1M263.4 67.8h1M266.4 63.3h1M272.7 72.0h1M262.2 87.3h1M248.4 79.1h1M251.5 90.2h1M298.5 66.2h1M281.0 78.7h1M242.7 61.5h1M277.3 72.8h1M250.7 62.6h1M240.1 102.2h1M253.0 60.8h1M281.5 59.0h1M262.9 70.6h1M277.6 64.0h1M259.1 73.9h1M303.6 88.6h1M288.7 77.5h1M258.0 71.8h1M277.9 98.3h1M295.0 72.2h1M270.2 73.0h1M259.4 60.9h1M269.3 74.8h1M256.1 62.2h1M277.9 67.3h1M268.8 75.3h1M260.9 87.1h1M270.3 75.8h1M250.3 82.4h1M270.3 75.3h1M274.0 71.6h1M242.8 54.8h1M272.1 74.9h1M255.5 58.4h1M285.4 65.9h1M276.3 72.8h1M263.9 85.1h1M253.2 63.2h1M284.1 53.2h1M265.3 56.5h1M239.0 105.7h1M255.2 70.5h1M250.5 64.7h1M285.1 74.3h1M244.7 58.2h1M245.9 58.8h1M267.9 61.8h1M264.8 65.6h1M295.5 50.7h1M298.8 72.7h1M280.3 72.7h1M243.3 68.2h1M277.7 75.8h1M268.6 61.2h1M274.8 69.0h1M259.4 62.3h1M241.0 90.3h1M240.8 59.6h1M265.5 53.2h1M279.6 64.4h1M289.1 73.2h1M273.1 109.8h1M263.9 84.2h1M253.7 88.9h1M247.8 65.4h1M270.3 90.8h1M247.4 101.9h1M281.9 72.2h1M257.3 92.5h1M264.1 78.4h1M272.2 65.5h1M274.6 57.0h1M274.1 71.4h1M290.1 93.1h1" stroke="#aaa8f8" stroke-width="0.9"/><path d="M269.6 86.3h1M239.8 102.0h1M290.8 72.7h1M254.9 68.4h1M259.9 60.1h1M292.5 81.1h1M288.4 68.5h1M268.1 88.7h1M249.3 64.7h1M237.0 90.5h1M286.6 59.3h1M245.1 69.5h1M258.6 58.7h1M292.9 50.4h1M282.1 56.6h1M285.0 98.5h1M291.7 48.4h1M249.1 82.0h1M242.4 92.3h1M274.5 76.3h1M286.1 62.2h1M269.6 84.0h1M245.4 90.4h1M242.0 71.6h1M303.3 43.9h1M293.6 68.2h1M242.2 61.9h1M248.0 57.4h1M274.3 69.1h1M268.7 71.4h1M261.6 64.9h1M280.5 71.3h1M258.5 63.2h1M236.7 96.1h1M288.2 73.5h1M287.9 52.8h1M270.2 84.9h1M241.3 60.7h1M263.8 63.1h1M254.5 58.8h1M261.6 71.7h1M246.1 84.0h1M270.1 76.0h1M236.7 95.9h1M262.5 67.8h1M274.5 66.5h1M238.5 72.1h1M270.3 72.6h1M259.6 78.7h1M278.5 88.5h1M242.0 91.9h1M258.4 47.2h1M291.5 51.8h1M267.0 60.7h1M273.4 56.0h1M288.3 48.3h1M274.6 85.1h1M270.4 48.0h1M243.5 60.8h1M243.9 105.5h1M287.0 48.9h1M268.8 75.3h1M260.2 67.5h1M286.4 86.7h1M281.4 82.0h1M273.4 97.2h1M293.1 54.4h1M275.9 74.5h1M286.1 60.0h1M266.9 70.4h1M295.7 55.5h1M242.6 96.8h1M274.0 61.4h1M276.1 71.3h1M261.7 69.1h1M269.1 74.6h1M260.9 68.6h1M281.5 76.6h1M268.7 91.1h1M265.2 60.8h1M262.8 69.0h1M273.7 63.8h1M267.7 67.3h1M238.4 57.5h1M250.3 62.2h1M260.7 72.1h1M274.0 95.5h1M294.4 63.4h1M288.7 82.1h1M304.7 79.5h1M265.6 79.4h1M253.1 67.2h1M239.8 67.2h1M265.3 61.8h1M248.9 78.7h1M273.6 76.6h1M273.4 74.6h1M269.7 85.1h1M244.2 61.4h1M260.3 61.8h1M271.5 74.4h1M279.4 73.0h1M291.7 73.8h1M249.9 65.2h1M279.0 60.8h1M238.6 86.8h1M243.4 58.9h1M273.1 75.2h1M264.4 64.2h1M264.7 54.1h1M291.1 88.0h1M240.5 122.6h1M244.3 77.3h1M254.7 69.5h1M243.2 61.9h1M239.0 88.4h1M302.8 45.3h1M253.4 62.3h1M284.8 73.1h1M246.5 97.8h1M282.9 76.8h1M249.9 57.3h1M258.1 68.3h1M251.0 65.1h1M264.5 82.5h1M257.8 64.3h1M282.6 65.2h1M247.6 66.5h1M248.3 90.8h1M279.3 76.3h1M282.5 74.6h1M292.8 68.0h1M287.3 79.7h1M250.9 67.2h1M276.9 68.7h1M269.7 63.0h1M256.8 59.5h1M271.9 51.8h1M281.3 73.7h1M284.8 49.0h1M278.5 78.1h1M285.3 49.3h1M298.7 40.4h1M271.9 56.8h1M259.0 72.7h1M285.4 63.8h1M278.2 102.7h1M254.3 54.1h1M284.6 42.6h1M265.4 57.1h1M290.0 82.8h1M237.7 114.5h1M234.8 77.5h1M281.6 55.4h1M235.2 72.5h1M285.5 119.2h1M280.8 73.8h1M304.2 77.0h1M245.5 64.8h1M256.7 63.7h1M258.5 67.2h1M271.7 54.7h1M276.4 66.7h1M258.0 54.2h1M266.9 72.7h1M276.7 56.7h1M267.2 70.6h1M270.2 94.7h1M249.1 96.8h1M269.4 78.8h1M271.6 56.6h1M246.3 67.1h1M272.5 80.2h1M245.1 56.9h1M278.5 68.9h1M274.5 58.1h1M267.1 67.2h1M262.9 78.2h1M260.1 69.6h1M249.0 68.7h1M266.7 60.5h1M252.2 95.7h1M255.1 69.5h1M258.9 79.5h1M245.0 67.9h1M255.4 85.5h1M270.0 69.8h1M261.4 57.1h1M254.1 58.8h1M282.9 67.9h1M263.3 60.0h1M265.8 73.8h1M245.3 66.8h1M266.4 76.8h1M244.1 53.6h1M269.6 72.0h1M269.2 64.8h1M300.9 45.4h1M264.0 67.8h1M268.9 53.0h1M278.2 51.6h1M265.2 89.8h1M278.7 79.1h1M253.9 62.8h1M251.1 99.4h1M290.3 70.0h1M284.4 64.1h1M255.2 69.2h1M256.4 64.0h1M265.3 79.6h1M254.0 57.2h1M249.9 68.2h1M274.8 61.3h1M235.2 105.8h1M261.1 74.3h1M248.7 53.0h1M255.1 65.6h1M254.2 55.6h1M282.1 58.4h1M272.4 71.8h1M296.7 74.1h1M230.8 124.0h1M262.4 69.9h1M244.4 63.7h1M269.4 78.8h1M285.1 79.7h1M268.1 73.0h1M271.0 66.6h1M276.6 77.1h1M295.1 48.6h1M279.7 70.8h1M261.9 58.3h1M262.3 70.2h1M291.4 55.9h1M281.5 64.9h1M298.8 53.9h1M279.4 65.3h1M249.3 65.5h1M255.7 65.0h1M227.0 77.6h1M266.7 78.3h1M277.7 72.3h1M252.5 73.5h1M269.6 64.5h1M235.5 97.3h1M266.0 97.5h1M256.7 60.5h1M260.6 62.0h1M246.1 102.5h1M242.8 101.5h1M282.2 64.9h1M273.5 50.5h1M276.4 79.6h1M268.8 65.3h1M281.5 70.5h1M263.8 66.3h1M266.7 77.8h1M242.8 70.6h1M282.1 86.9h1M242.1 82.3h1M296.7 46.8h1M292.3 54.6h1M245.4 61.2h1M244.9 62.5h1M268.9 88.8h1M257.0 82.6h1M284.6 44.4h1M284.3 60.6h1M255.2 49.9h1M248.4 65.9h1M248.8 71.0h1M277.1 63.2h1M267.9 78.1h1M281.8 55.9h1M254.2 56.3h1M306.2 46.2h1M303.5 51.2h1M270.1 75.2h1M259.7 104.9h1M250.4 59.5h1M299.0 50.7h1M283.9 65.1h1M241.9 102.5h1M308.6 76.3h1M283.4 76.2h1M264.7 66.5h1M273.8 60.6h1M276.9 60.1h1M251.9 100.0h1M276.1 81.2h1" stroke="#c0b0f0" stroke-width="0.9"/><path d="M269.8 65.5h1M279.2 67.8h1M254.3 79.8h1M265.6 64.8h1M250.7 62.7h1M260.2 51.5h1M265.0 90.6h1M278.6 45.3h1M251.3 56.9h1M276.4 100.3h1M243.1 55.3h1M276.5 58.0h1M262.5 75.7h1M300.5 63.4h1M289.4 87.4h1M291.1 76.6h1M264.8 70.0h1M263.8 77.6h1M273.3 69.8h1M269.2 71.8h1M263.4 80.3h1M281.1 78.6h1M271.6 71.5h1M246.6 110.3h1M247.3 91.0h1M249.2 66.5h1M247.7 59.6h1M302.3 79.8h1M246.4 80.6h1M267.8 64.5h1M273.8 70.6h1M254.2 80.4h1M257.7 69.8h1M259.3 67.6h1M272.8 105.5h1M264.6 71.4h1M270.1 65.4h1M276.5 80.9h1M264.9 55.5h1M263.7 68.9h1M286.7 79.1h1M283.0 86.5h1M250.1 58.9h1M259.2 71.9h1M302.7 59.3h1M248.4 61.0h1M300.8 55.8h1M263.2 64.8h1M270.3 80.1h1M249.6 76.9h1M258.2 76.2h1M272.9 67.3h1M259.2 56.4h1M243.4 73.8h1M241.5 96.1h1M267.6 60.0h1M270.4 65.9h1M243.4 58.2h1M263.1 63.7h1M276.9 63.6h1M258.8 61.7h1M290.3 80.5h1M293.0 67.7h1M274.0 71.3h1M255.8 55.2h1M260.1 70.7h1M274.0 76.2h1M288.8 72.8h1M274.1 55.3h1M277.2 71.5h1M289.0 78.1h1M234.3 94.2h1M272.6 68.9h1M284.1 103.8h1M264.4 57.9h1M235.9 83.9h1M282.3 60.9h1M257.2 67.1h1M286.2 71.7h1M308.5 73.9h1M245.2 55.9h1M273.2 99.3h1M273.3 74.2h1M277.9 61.0h1M258.9 72.2h1M269.8 60.7h1M257.5 77.5h1M246.9 77.1h1M239.4 115.2h1M262.0 80.0h1M248.4 53.2h1M271.2 64.8h1M247.7 58.2h1M261.2 86.4h1M236.7 100.3h1M273.2 66.6h1M272.9 67.5h1M250.9 116.3h1M275.1 72.0h1M253.3 68.4h1M281.6 103.8h1M277.7 69.5h1M247.5 68.5h1M230.5 87.4h1M249.9 58.9h1M277.5 102.3h1M245.2 89.8h1M274.5 120.6h1M271.6 73.9h1M263.3 80.8h1M278.6 99.2h1M239.8 97.1h1M258.2 60.7h1M260.4 83.4h1M286.1 53.4h1M283.3 72.7h1M275.3 44.4h1M246.2 77.7h1M264.5 78.7h1M279.5 65.5h1M258.9 90.5h1M288.9 69.9h1M248.0 86.7h1M240.9 82.2h1M247.3 72.3h1M271.2 66.8h1M264.4 64.5h1M253.9 68.1h1M278.8 48.1h1M294.2 48.4h1M276.4 68.6h1M260.6 60.8h1M238.8 97.7h1M288.9 70.5h1M249.4 87.6h1M279.8 67.8h1M277.3 64.8h1M268.8 76.1h1M248.8 60.6h1M296.4 53.0h1M259.6 57.1h1M283.1 59.6h1M266.6 57.7h1M272.7 61.1h1M256.0 76.8h1M292.0 75.3h1M265.7 71.1h1M235.5 78.6h1M299.6 52.4h1M249.1 60.2h1M265.6 82.7h1M236.5 79.1h1M255.4 51.0h1M268.1 60.2h1M283.2 74.3h1M238.3 103.0h1M287.2 74.4h1M262.1 73.8h1M226.5 80.7h1M239.6 85.2h1M231.4 73.4h1M236.9 68.1h1M278.0 68.7h1M245.0 53.5h1M264.0 61.6h1M276.4 59.8h1M254.0 70.3h1M260.7 61.6h1M293.2 86.8h1M272.3 80.7h1M247.4 63.2h1M256.9 70.9h1M243.1 105.7h1M238.6 94.5h1M259.0 55.7h1M281.3 82.6h1M270.1 81.6h1M275.6 88.4h1M288.2 77.4h1M298.1 83.3h1M264.5 61.6h1M264.0 89.6h1M292.1 77.7h1M245.6 102.2h1M282.3 73.8h1M257.2 72.6h1M279.2 72.7h1M294.8 87.3h1M271.1 76.3h1M241.0 82.3h1M264.1 55.1h1M241.7 65.0h1M247.2 61.8h1M263.8 64.8h1M287.9 79.3h1M273.8 78.6h1M246.3 80.8h1M284.7 68.4h1M277.9 80.8h1M309.7 67.2h1M272.3 70.7h1M242.2 85.8h1M271.3 96.0h1M246.5 120.7h1M244.7 91.0h1M285.0 80.9h1M256.5 67.5h1M260.2 71.3h1M269.8 54.8h1M256.6 64.5h1M283.3 78.1h1M241.5 111.1h1M259.2 71.8h1M246.9 62.8h1M255.1 59.1h1M275.7 79.5h1M272.2 58.4h1M265.2 80.0h1M272.4 62.5h1M286.4 54.6h1M260.6 55.6h1M240.9 92.7h1M249.1 68.2h1M253.9 72.4h1M264.5 60.8h1M243.8 56.1h1M273.4 81.2h1M257.9 76.0h1M263.0 67.2h1M268.8 70.4h1M254.5 57.6h1M272.8 58.2h1M270.1 55.4h1M266.6 59.3h1M245.4 70.8h1M241.4 79.5h1M249.0 65.3h1M269.7 82.7h1M276.5 63.3h1M268.6 57.6h1M275.8 69.4h1M252.8 117.7h1M280.1 57.4h1M251.7 60.9h1M259.1 91.4h1M236.7 103.1h1M272.3 61.3h1M241.5 58.2h1M261.7 72.0h1M264.5 62.9h1M278.5 93.1h1M262.4 86.3h1M236.8 94.4h1M284.7 70.0h1M270.5 68.6h1M277.7 71.3h1M261.6 62.7h1M248.6 57.5h1M260.4 71.4h1M273.5 70.6h1M262.0 48.8h1M275.9 68.6h1M257.2 62.3h1M266.8 71.9h1M239.3 112.3h1M250.8 65.5h1M278.0 80.8h1M284.4 73.1h1M282.3 77.7h1M286.4 77.6h1M250.4 66.9h1M245.3 59.2h1M277.3 94.7h1M262.1 72.2h1M276.3 100.6h1M236.4 108.2h1M281.3 67.6h1M290.9 81.3h1M249.9 68.2h1M256.6 50.4h1M280.5 53.1h1M261.0 66.0h1M245.7 52.2h1M259.3 66.2h1M279.3 49.2h1M270.5 64.0h1M265.5 77.4h1M295.6 50.1h1M234.6 83.3h1M288.5 65.7h1M266.9 83.0h1M298.9 45.8h1M270.0 66.6h1M274.0 61.1h1M291.2 58.9h1M271.0 72.6h1M263.3 74.6h1M256.7 56.4h1" stroke="#2838e8" stroke-width="0.9"/>
<g clip-path="url(#c1)"><g filter="url(#fb)">
<path d="M303.7,42.7 292.7,42.0 278.0,42.7 267.3,45.0 256.7,45.3 254.0,46.7 251.3,49.7 245.3,47.7 240.0,47.3 234.7,48.3 230.3,50.7 228.0,53.7 227.7,56.3 229.7,60.0 231.7,61.3 232.0,66.7 233.7,69.3 232.3,72.3 231.7,95.7 230.7,102.3 230.0,103.7 230.0,107.0 231.7,110.0 235.7,113.7 237.7,114.7 242.0,115.3 245.3,114.7 251.3,111.0 254.0,107.0 254.0,103.7 252.0,100.3 250.3,94.7 249.7,72.3 248.3,69.3 250.0,66.7 250.0,63.3 251.0,61.3 256.3,61.3 257.0,62.0 256.3,63.7 257.0,66.7 259.3,69.3 262.3,71.0 266.0,72.0 272.0,72.0 275.7,71.0 278.7,69.3 280.3,67.7 281.7,64.3 281.0,61.3 277.7,58.0 283.0,55.7 294.0,52.7 303.7,48.3 305.0,46.7 305.0,44.3Z" fill="#7080ff" fill-opacity="0.3" fill-rule="evenodd"/>
<path d="M264.3,63.7 265.0,65.7 268.0,67.0 271.3,66.7 273.0,65.7 273.7,64.3 273.0,62.3 270.0,61.0 266.7,61.3 265.0,62.3ZM304.0,44.3 302.7,43.3 298.7,43.0 278.7,43.7 267.7,46.0 257.0,46.7 254.0,48.3 252.3,51.0 250.7,51.3 247.3,49.3 242.3,48.3 236.3,49.0 232.0,51.0 229.7,54.0 229.7,57.3 231.0,59.3 233.0,61.0 233.3,63.0 235.0,66.0 239.0,69.0 236.3,71.3 235.7,73.3 234.7,95.7 233.3,101.0 232.3,102.0 231.3,104.7 231.7,107.3 232.7,109.0 236.7,112.0 242.7,113.0 248.7,111.3 251.3,109.0 252.3,107.3 252.3,103.3 249.0,99.3 247.3,95.0 246.3,73.3 245.7,71.3 243.0,69.0 247.0,66.0 248.7,63.0 248.7,61.7 250.0,60.3 255.7,59.7 259.7,60.7 269.0,59.7 282.7,54.7 294.0,51.7 299.3,49.3 304.0,46.7Z" fill="#2436f2" fill-opacity="0.78" fill-rule="evenodd"/>
<path d="M241.0,95.0 239.3,95.7 237.7,97.7 237.0,99.7 234.0,102.0 233.0,104.0 233.0,106.7 234.3,109.0 237.3,111.0 239.3,111.7 244.7,111.7 248.0,110.3 249.7,109.0 251.0,106.7 251.0,104.0 249.0,101.0 245.7,99.3 243.0,95.7ZM302.7,45.0 298.3,44.0 289.0,44.0 279.0,44.7 266.3,47.3 259.0,47.7 255.3,49.0 253.0,52.7 250.3,52.7 248.3,51.0 244.7,49.7 238.0,49.7 233.3,51.7 231.7,53.3 231.0,56.3 232.0,58.3 234.7,60.3 235.0,62.7 236.3,65.0 239.0,66.7 241.7,67.0 245.3,65.3 247.0,62.7 247.3,60.7 250.7,58.3 255.7,58.0 257.3,59.0 268.7,58.7 282.3,53.7 294.7,50.3 300.3,47.7 302.7,46.0Z" fill="#1e50ff" fill-rule="evenodd"/>
<path d="M234.0,104.0 234.0,106.3 235.0,108.3 236.7,109.7 240.0,111.0 245.3,110.7 248.3,109.0 250.0,106.3 250.0,104.0 249.3,102.7 247.0,100.7 244.3,99.7 239.7,99.7 236.0,101.3ZM300.0,46.0 298.3,45.0 290.3,44.7 278.0,45.7 267.0,48.0 259.3,48.7 256.3,49.7 255.0,51.0 254.0,54.3 250.3,54.7 248.7,52.3 244.3,50.3 238.3,50.3 234.3,52.0 233.0,53.3 232.3,54.7 232.3,56.7 233.3,58.3 236.0,60.3 236.3,62.7 239.0,65.3 241.7,65.7 243.0,65.3 245.3,63.3 246.0,60.3 248.0,59.3 250.3,56.7 255.3,56.3 257.7,58.0 260.7,58.3 268.3,58.0 281.7,53.0 292.7,50.3 298.3,47.7Z" fill="#10a8ff" fill-rule="evenodd"/>
<path d="M235.0,104.0 234.7,105.3 236.0,108.3 240.0,110.3 244.0,110.3 246.7,109.3 248.0,108.3 249.3,105.3 248.3,102.7 247.3,101.7 244.3,100.3 238.7,100.7 236.7,101.7ZM236.3,51.7 234.0,53.3 233.3,54.7 233.3,56.7 235.3,59.0 237.3,60.0 237.7,62.7 240.0,64.3 242.0,64.3 243.3,63.7 244.7,62.0 244.7,60.3 247.7,58.7 249.3,56.7 249.0,54.0 246.3,51.7 242.3,50.7ZM297.0,46.3 296.0,45.7 293.3,45.3 281.3,46.0 266.7,48.7 262.0,49.0 257.0,50.3 255.7,51.7 255.3,54.3 255.7,55.3 257.7,57.0 268.3,57.3 281.3,52.3 292.7,49.7 296.3,47.7Z" fill="#20e8b0" fill-rule="evenodd"/>
<path d="M235.7,104.0 235.7,106.3 236.3,107.7 238.7,109.3 241.3,110.0 246.0,109.0 247.7,107.7 248.3,106.3 248.3,104.0 246.7,102.0 243.3,100.7 239.3,101.0 237.3,102.0ZM237.0,52.0 234.7,53.7 234.0,56.0 236.0,58.7 238.7,60.0 238.7,61.7 240.0,63.0 242.0,63.0 243.3,61.7 243.3,60.0 246.7,58.7 248.3,56.7 248.3,54.3 245.7,52.0 243.3,51.3 239.3,51.3ZM294.7,47.0 292.0,46.0 282.0,46.7 262.3,49.7 257.7,51.0 256.3,52.7 256.3,54.3 257.7,56.0 267.7,57.0 282.3,51.3 292.0,49.0Z" fill="#48f040" fill-rule="evenodd"/>
<path d="M237.0,104.0 237.0,106.7 238.7,108.3 240.7,109.0 244.7,108.7 247.0,106.7 247.3,105.7 246.3,103.0 243.7,101.7 239.3,102.0ZM235.3,55.3 236.3,57.7 239.3,59.0 243.3,59.0 245.7,58.0 247.0,56.7 246.7,54.0 244.0,52.3 242.3,52.0 238.7,52.3 236.7,53.3ZM284.7,48.7 275.3,48.7 266.3,50.0 260.3,52.0 259.3,53.7 262.0,55.3 268.3,56.0 269.7,55.0 275.3,53.0Z" fill="#b0f020" fill-rule="evenodd"/>
<path d="M238.0,104.0 237.7,105.7 238.3,107.0 241.0,108.3 244.0,108.0 245.3,107.3 246.3,105.7 246.0,104.0 243.3,102.3 240.7,102.3ZM236.7,54.7 237.0,57.0 239.3,58.3 243.0,58.3 244.7,57.7 246.0,56.3 246.0,55.0 245.0,53.7 242.0,52.7 239.0,53.0ZM275.7,50.7 270.3,50.3 266.0,51.0 263.0,52.3 262.7,53.7 266.0,55.3 268.0,55.3 269.0,54.3 274.3,52.0Z" fill="#f8e000" fill-rule="evenodd"/>
<path d="M238.7,104.7 238.7,106.0 241.0,107.7 244.0,107.3 245.3,106.0 245.0,104.0 243.3,103.0 240.7,103.0ZM237.7,54.7 237.7,56.3 239.3,57.7 243.0,57.7 245.0,56.3 245.0,55.0 242.3,53.3 239.0,53.7ZM265.3,53.3 266.3,54.7 267.7,54.7 270.3,52.0 266.7,51.7 265.3,52.7Z" fill="#ff9000" fill-rule="evenodd"/>
<path d="M239.7,104.7 239.7,106.0 241.0,107.0 243.0,107.0 244.3,106.0 244.3,104.7 243.3,103.7 240.7,103.7ZM238.7,55.0 238.7,56.3 240.7,57.3 243.0,57.0 244.0,56.0 244.0,55.0 242.3,54.0 240.0,54.0Z" fill="#f82010" fill-rule="evenodd"/>
</g></g></g>
<path d="M238,36.6 H256.5 M226.6,72 H256.5 M256.5,36.9 H310.4 V64 H256.5" fill="none" stroke="#333" stroke-width="0.9"/>
<path d="M256.5,36.6 V72" fill="none" stroke="#111" stroke-width="1.3"/>
<path d="M226.7,73 H252.6 V112.4 H226.7" fill="none" stroke="#333" stroke-width="0.9"/>
<text x="232.3" y="41.4" font-size="5.6" text-anchor="middle" fill="#222" font-weight="normal" >B</text>
<text x="233" y="47" font-size="5.6" text-anchor="middle" fill="#222" font-weight="normal" >33.3</text>
<text x="305" y="56.6" font-size="5.6" text-anchor="middle" fill="#222" font-weight="normal" >A</text>
<text x="305" y="61.9" font-size="5.6" text-anchor="middle" fill="#222" font-weight="normal" >31.8</text>
<text x="259.4" y="105.3" font-size="5.6" text-anchor="middle" fill="#222" font-weight="normal" >C</text>
<text x="259.4" y="111" font-size="5.6" text-anchor="middle" fill="#222" font-weight="normal" >32.2</text>
<g clip-path="url(#c2)">
<path d="M378.0 53.4h1M344.7 62.1h1M376.9 76.6h1M381.3 69.1h1M379.9 58.2h1M376.2 72.1h1M339.9 56.9h1M377.2 47.2h1M394.9 77.2h1M372.2 77.0h1M327.9 69.0h1M367.3 78.9h1M329.2 75.8h1M352.8 55.6h1M346.9 65.7h1M364.1 66.5h1M339.1 119.8h1M383.2 62.6h1M375.9 69.5h1M368.8 56.6h1M382.6 55.8h1M352.7 76.0h1M383.7 69.6h1M358.0 68.3h1M358.3 102.0h1M371.5 53.0h1M332.9 88.2h1M378.5 49.9h1M333.9 64.5h1M334.4 104.9h1M388.5 61.9h1M370.1 108.5h1M355.1 58.9h1M342.9 98.5h1M379.0 82.7h1M335.5 87.4h1M347.2 69.5h1M339.5 71.9h1M365.3 71.7h1M376.4 67.1h1M358.0 74.2h1M350.1 72.2h1M328.9 86.7h1M349.9 65.9h1M358.8 86.4h1M330.6 83.0h1M368.7 51.7h1M378.0 70.7h1M360.6 73.2h1M341.1 125.1h1M381.9 52.1h1M348.0 60.3h1M387.4 55.4h1M371.3 72.6h1M388.2 78.5h1M325.7 76.5h1M375.4 80.7h1M341.4 88.2h1M358.1 55.5h1M373.7 57.3h1M386.7 47.9h1M375.6 73.1h1M344.4 71.0h1M369.5 69.5h1M366.7 78.2h1M322.6 102.9h1M367.2 73.8h1M352.8 59.5h1M376.2 69.3h1M372.0 67.5h1M338.2 64.6h1M373.7 74.3h1M367.9 49.1h1M365.2 95.0h1M339.8 66.3h1M329.3 117.0h1M367.6 76.3h1M391.7 75.8h1M360.5 54.0h1M376.2 67.4h1M381.3 79.6h1M358.2 76.1h1M332.2 89.0h1M331.1 75.1h1M399.9 46.8h1M388.3 63.8h1M332.1 65.8h1M367.1 66.9h1M351.9 68.2h1M338.9 88.2h1M366.7 58.1h1M356.7 61.0h1M366.7 64.9h1M370.4 58.9h1M349.4 65.4h1M325.9 84.0h1M345.4 64.4h1M397.3 73.5h1M376.0 72.5h1M389.8 50.8h1M337.1 125.0h1M406.2 81.7h1M337.2 67.5h1M377.0 63.8h1M336.8 85.5h1M376.4 58.0h1M328.0 98.2h1M361.1 71.9h1M390.4 84.0h1M375.9 116.8h1M369.5 71.5h1M387.9 106.8h1M393.2 91.0h1M386.2 59.8h1M374.7 69.0h1M356.9 89.3h1M344.5 91.3h1M358.8 61.3h1M337.4 61.3h1M378.3 63.9h1M368.0 66.7h1M382.2 51.6h1M369.5 48.5h1M332.0 103.8h1M362.9 99.7h1M392.3 97.7h1M374.9 76.2h1M369.2 60.8h1M330.8 105.5h1M337.1 76.4h1M350.7 63.2h1M347.9 62.4h1M382.4 54.3h1M374.3 93.6h1M358.8 60.2h1M354.8 61.6h1M356.3 93.8h1M374.2 59.3h1M373.6 80.8h1M339.7 72.3h1M379.3 74.8h1M381.3 48.4h1M338.1 108.2h1M361.3 69.0h1M352.4 59.4h1M357.0 65.6h1M370.9 67.5h1M366.0 92.3h1M349.9 55.6h1M358.2 70.7h1M390.1 66.9h1M347.6 55.0h1M371.6 83.1h1M396.1 65.6h1M364.8 84.7h1M365.2 84.7h1M350.5 60.0h1M402.0 68.8h1M353.4 82.4h1M339.2 64.0h1M346.8 53.0h1M380.0 83.5h1M356.5 71.8h1M365.5 83.9h1M348.6 104.6h1M325.5 93.6h1M343.2 69.1h1M386.4 70.1h1M336.9 67.5h1M378.0 55.3h1M377.4 71.5h1M363.1 69.4h1M331.7 69.2h1M385.6 50.3h1M363.7 57.1h1M394.6 48.5h1M335.9 102.5h1M366.1 62.5h1M340.8 96.1h1M370.6 61.6h1M330.8 66.1h1M368.9 70.1h1M352.1 62.9h1M373.0 61.3h1M365.5 57.9h1M348.5 66.8h1M379.5 77.3h1M365.0 63.8h1M363.6 69.8h1M323.3 73.6h1M372.1 94.1h1M372.2 77.9h1M375.4 68.1h1M372.3 69.7h1M329.6 84.5h1M343.7 85.1h1M334.4 94.9h1M346.4 59.9h1M332.5 98.4h1M380.8 51.6h1M369.5 96.0h1M389.3 61.6h1M374.2 74.1h1M363.8 73.7h1M360.8 76.1h1M367.0 67.0h1M385.2 53.6h1M370.5 65.9h1M337.0 54.1h1M361.8 61.2h1M368.9 67.9h1M333.0 80.3h1M371.4 68.8h1M383.8 45.9h1M344.4 51.9h1M328.4 67.1h1M368.9 64.9h1M340.8 83.3h1M344.2 54.6h1M337.8 80.6h1M333.4 90.6h1M369.9 70.0h1M372.9 77.2h1M338.3 92.6h1M380.7 64.2h1M378.3 79.3h1M370.8 61.7h1M373.2 80.9h1M351.8 58.9h1M356.2 62.3h1M355.0 71.6h1M361.8 60.7h1M341.8 70.9h1M399.4 47.1h1M348.9 69.4h1M399.4 77.3h1M375.2 55.3h1M335.7 98.9h1M338.9 105.5h1M347.2 60.4h1M333.4 113.7h1M373.4 52.9h1M347.4 66.2h1M365.1 63.0h1M370.7 57.8h1M368.9 68.4h1M364.8 78.4h1M355.9 68.4h1M363.0 65.8h1M398.9 50.5h1M392.2 75.4h1M340.1 76.8h1M332.1 87.7h1M336.3 55.1h1M342.6 66.1h1M365.7 69.2h1M357.5 54.9h1M343.4 92.2h1M343.4 82.3h1M359.8 44.9h1M364.6 74.5h1M330.1 74.8h1M351.4 71.2h1M372.1 70.1h1M348.0 58.5h1M336.0 95.0h1M347.1 61.1h1M361.9 70.7h1M370.1 85.5h1M393.2 54.8h1M342.2 68.4h1M362.0 63.1h1M364.7 62.5h1M399.6 72.2h1M384.3 54.1h1M325.1 99.4h1M349.0 57.2h1M371.2 106.7h1M385.3 51.2h1M332.8 90.1h1M355.7 113.5h1M366.4 81.2h1M385.2 66.8h1M368.8 71.2h1M367.1 76.6h1M372.0 65.9h1M337.6 85.5h1M371.9 94.8h1M378.5 74.4h1M388.3 84.8h1M377.1 51.6h1M347.1 74.0h1M383.2 55.0h1M345.6 58.6h1M373.7 90.2h1M342.3 63.6h1M392.0 86.9h1M349.6 100.5h1M357.6 62.1h1M390.4 83.1h1M386.0 65.1h1M370.9 57.1h1M344.6 62.9h1M396.3 64.2h1M379.6 90.1h1M332.3 99.9h1M384.7 49.2h1M368.4 77.4h1M379.2 64.4h1M359.6 79.4h1M343.1 64.1h1M333.7 76.2h1M360.7 58.1h1M344.9 69.1h1M329.4 79.9h1M343.7 98.8h1M356.2 66.1h1M341.5 98.4h1M371.9 61.0h1M350.7 59.9h1M342.4 83.0h1M375.2 94.8h1M345.0 70.7h1M365.3 78.8h1M339.7 64.1h1M365.5 60.3h1M381.2 92.4h1M412.7 55.7h1M353.4 88.8h1M386.0 73.1h1M376.9 93.5h1M380.8 64.8h1M368.1 97.0h1M372.5 67.1h1M352.4 58.4h1M372.5 80.4h1M350.8 63.5h1M386.7 97.3h1M350.3 75.3h1M333.0 89.2h1M335.2 103.4h1M371.6 55.5h1M354.6 80.0h1M346.9 59.5h1M327.7 108.2h1M358.0 60.0h1M334.0 58.7h1M328.2 96.5h1M373.8 74.1h1M345.0 69.0h1M351.9 98.8h1M345.8 59.6h1M334.5 69.2h1M336.1 64.3h1M382.5 80.1h1M366.5 86.4h1M385.4 52.2h1M386.9 50.4h1M384.6 106.1h1M368.9 73.6h1M330.1 70.9h1M403.0 73.3h1M345.2 67.7h1M338.8 69.6h1M357.6 70.5h1M385.0 71.3h1M329.3 60.8h1M340.7 56.7h1M361.1 65.7h1M382.8 63.1h1M381.1 66.4h1M379.2 54.2h1M373.8 85.5h1M372.4 90.6h1M338.0 73.3h1" stroke="#3040ff" stroke-width="0.9"/><path d="M377.3 61.4h1M376.6 68.4h1M326.3 61.8h1M362.5 71.3h1M377.4 80.8h1M337.7 65.6h1M387.8 73.4h1M382.9 79.5h1M395.8 93.9h1M397.3 70.5h1M372.2 50.8h1M399.3 44.3h1M333.5 77.2h1M366.8 59.1h1M369.0 61.4h1M346.2 60.0h1M334.5 90.5h1M372.4 63.5h1M377.6 53.9h1M377.7 67.8h1M391.5 72.6h1M371.4 97.9h1M377.5 59.8h1M384.3 80.0h1M352.3 72.7h1M347.0 65.1h1M386.1 51.2h1M338.4 99.2h1M363.2 71.3h1M387.8 73.6h1M361.1 75.8h1M364.4 70.6h1M332.1 63.2h1M355.9 68.0h1M357.1 74.3h1M366.1 75.2h1M381.6 113.9h1M360.4 67.9h1M339.8 80.8h1M384.0 60.4h1M389.7 69.0h1M356.8 61.8h1M366.2 66.5h1M352.1 61.5h1M352.7 66.8h1M363.0 71.2h1M374.3 66.0h1M374.2 64.6h1M366.7 100.7h1M372.6 78.3h1M357.6 76.6h1M363.3 71.1h1M362.8 68.9h1M355.4 64.4h1M404.7 49.8h1M354.8 67.7h1M327.7 76.8h1M385.2 74.8h1M338.7 56.4h1M333.5 85.8h1M359.6 51.2h1M373.0 70.6h1M369.2 79.0h1M369.4 82.5h1M327.4 60.8h1M371.6 69.3h1M332.1 91.0h1M344.9 69.9h1M366.3 69.7h1M349.7 60.2h1M381.1 58.5h1M332.3 103.1h1M332.4 82.5h1M352.6 62.4h1M361.8 91.3h1M342.9 63.5h1M362.6 62.5h1M371.2 76.2h1M369.0 69.9h1M349.8 70.3h1M347.0 64.0h1M343.9 63.8h1M347.8 72.7h1M372.5 56.1h1M336.0 88.7h1M349.7 63.3h1M341.3 60.3h1M390.5 63.3h1M369.4 91.1h1M354.5 66.1h1M366.2 73.5h1M391.3 92.2h1M338.8 91.3h1M348.3 85.3h1M333.0 107.5h1M391.3 71.5h1M380.1 74.7h1M391.5 72.0h1M360.9 75.7h1M379.6 52.5h1M377.0 79.1h1M406.4 80.4h1M372.7 62.8h1M335.2 100.0h1M356.4 64.8h1M330.2 62.7h1M354.0 88.6h1M384.1 61.4h1M372.4 54.6h1M387.7 51.9h1M366.4 68.7h1M333.9 69.4h1M337.4 114.0h1M345.2 61.7h1M371.6 56.4h1M368.8 76.0h1M371.9 68.1h1M345.0 59.4h1M353.5 63.1h1M358.6 97.0h1M373.0 86.5h1M359.8 72.1h1M357.6 68.0h1M355.1 60.5h1M384.6 117.3h1M353.1 92.1h1M359.5 70.0h1M368.5 65.5h1M396.1 71.9h1M363.5 57.7h1M351.2 68.9h1M384.2 66.4h1M341.7 96.0h1M330.0 60.6h1M366.1 65.1h1M389.6 78.9h1M350.0 64.0h1M382.7 81.0h1M354.2 55.7h1M392.5 65.1h1M370.8 64.3h1M397.1 55.1h1M334.0 87.0h1M343.9 92.7h1M338.6 73.1h1M338.5 76.8h1M335.8 105.4h1M361.7 75.1h1M337.9 90.6h1M377.9 63.4h1M348.3 64.9h1M331.5 69.4h1M360.5 69.6h1M369.1 86.5h1M345.6 55.1h1M373.9 88.1h1M383.0 89.5h1M361.4 66.5h1M349.2 73.5h1M368.2 63.5h1M377.4 79.6h1M361.5 71.0h1M380.0 107.6h1M365.3 64.0h1M351.4 65.5h1M349.5 65.5h1M360.3 78.0h1M347.3 107.1h1M378.3 87.8h1M341.3 61.0h1M374.0 78.8h1M373.1 96.2h1M344.7 60.5h1M336.8 118.2h1M365.3 55.2h1M334.2 96.9h1M367.0 58.1h1M330.1 91.6h1M381.7 71.1h1M378.7 63.4h1M385.7 45.8h1M333.0 61.5h1M337.9 63.4h1M386.2 51.9h1M369.3 63.5h1M338.9 59.1h1M382.0 81.1h1M363.4 69.4h1M380.6 69.1h1M339.9 103.9h1M371.9 76.7h1M361.2 71.0h1M336.4 96.2h1M383.0 82.2h1M362.0 58.3h1M378.9 90.8h1M364.3 63.6h1M341.9 69.0h1M328.9 97.7h1M336.8 92.1h1M331.2 85.7h1M360.8 78.7h1M345.2 76.1h1M384.7 74.3h1M356.1 71.5h1M360.2 93.1h1M384.7 77.6h1M344.8 61.4h1M337.3 58.2h1M403.1 48.1h1M376.0 79.2h1M388.6 89.0h1M361.7 79.6h1M384.3 97.8h1M331.4 68.9h1M361.6 64.0h1M383.9 44.8h1M346.2 95.8h1M355.2 79.7h1M392.0 83.0h1M375.9 78.4h1M379.4 76.8h1M340.3 65.9h1M344.5 109.4h1M363.9 75.4h1M327.6 101.7h1M351.3 69.9h1M391.4 67.0h1M350.5 67.7h1M353.3 58.8h1M363.3 79.4h1M357.3 66.6h1M370.5 106.9h1M333.1 70.7h1M348.8 65.4h1M378.1 103.1h1M373.4 63.2h1M380.7 81.7h1M364.8 67.7h1M372.8 64.8h1M374.3 58.3h1M388.4 69.3h1M382.5 56.6h1M388.2 63.0h1M376.0 58.6h1M360.9 87.6h1M351.4 68.9h1M351.1 65.2h1M345.7 58.9h1M390.6 53.8h1M360.0 55.8h1M385.6 67.9h1M362.8 72.5h1M335.5 62.4h1M347.7 61.8h1M333.7 61.8h1M398.4 83.8h1M350.6 66.6h1M394.9 45.3h1M333.7 102.3h1M373.9 75.7h1M342.0 63.8h1M340.4 64.0h1M380.3 79.9h1M345.2 62.1h1M346.0 77.2h1M380.4 74.1h1M356.1 65.1h1M359.4 89.4h1M346.9 98.9h1M348.3 63.0h1M380.1 49.6h1M379.7 69.9h1M359.7 53.0h1M355.7 66.1h1M336.0 64.9h1M368.7 64.1h1M356.5 63.1h1M354.1 59.0h1M383.0 54.4h1M343.3 90.1h1M362.8 81.4h1M328.5 82.3h1M340.5 53.1h1M339.1 76.8h1M345.1 60.6h1M343.5 62.0h1M367.1 64.8h1M382.6 58.7h1M385.9 45.3h1M371.5 93.7h1M350.7 68.3h1M336.8 64.0h1M364.2 94.2h1M363.9 86.1h1M342.8 67.5h1M374.5 75.4h1M346.1 77.7h1M343.1 96.7h1M330.6 84.5h1M361.2 88.4h1M373.5 70.0h1M370.9 63.8h1M370.1 67.7h1M329.7 67.2h1M339.3 64.2h1M372.8 57.9h1M340.1 83.7h1M336.3 97.9h1M368.4 58.9h1M373.0 95.8h1M367.9 60.5h1M338.9 67.3h1M365.7 65.5h1M327.1 78.1h1M383.5 57.6h1M341.0 55.5h1M373.6 61.4h1M346.8 65.2h1M370.7 81.9h1M380.0 69.0h1M367.5 56.6h1M378.0 57.1h1M395.3 83.7h1M353.3 57.4h1M362.8 56.7h1M363.0 79.9h1M336.3 109.4h1M334.9 80.9h1M372.7 85.7h1M380.8 84.0h1M396.4 93.0h1M383.6 83.3h1M363.3 64.1h1M336.1 104.9h1M342.2 59.8h1M343.8 72.2h1M353.4 62.8h1M373.2 66.9h1M343.0 73.0h1M330.4 69.2h1M392.5 88.9h1M363.1 66.9h1M334.7 81.9h1M330.4 101.1h1M379.9 92.1h1M335.1 92.6h1M337.7 79.0h1M392.5 49.4h1M332.9 63.3h1M343.8 61.1h1M350.5 55.1h1M349.5 68.8h1M359.7 68.5h1M346.3 62.1h1M394.1 49.4h1M332.9 90.0h1M330.9 79.5h1M368.2 42.6h1M325.0 62.0h1M367.6 73.8h1M376.8 111.5h1M363.8 74.6h1M386.0 48.0h1M358.3 70.5h1M378.8 56.5h1M375.4 70.7h1M341.8 82.5h1M380.9 51.9h1M349.0 71.1h1M330.1 54.6h1M348.3 64.9h1M395.3 112.3h1M389.3 45.4h1M364.7 55.6h1M373.7 50.5h1M383.4 56.8h1M362.7 62.1h1M393.3 68.4h1M332.0 104.1h1M384.3 70.6h1M341.6 61.1h1M384.9 46.0h1M355.9 63.3h1M365.5 82.4h1M376.2 93.9h1M368.4 83.8h1M331.1 58.0h1M389.1 68.5h1" stroke="#5a68ff" stroke-width="0.9"/><path d="M364.7 69.9h1M357.9 68.4h1M352.6 59.1h1M376.7 68.1h1M398.4 72.7h1M367.7 74.8h1M395.1 68.3h1M335.2 98.3h1M337.1 57.4h1M360.2 84.8h1M329.1 57.8h1M332.2 69.0h1M366.0 68.5h1M374.9 73.0h1M342.9 93.9h1M392.3 83.3h1M368.9 69.8h1M388.7 70.1h1M340.2 50.8h1M377.0 76.8h1M377.9 57.7h1M366.1 55.9h1M369.7 61.0h1M356.8 67.3h1M353.6 54.8h1M382.6 57.7h1M387.4 57.3h1M340.4 57.4h1M327.0 90.5h1M365.4 82.4h1M363.3 74.6h1M344.9 66.1h1M341.3 63.6h1M335.5 88.1h1M340.8 87.9h1M344.3 53.4h1M364.6 80.7h1M360.3 60.5h1M346.4 73.5h1M388.8 78.0h1M340.6 63.7h1M390.0 82.4h1M371.4 67.8h1M370.0 70.1h1M357.1 56.2h1M397.3 68.1h1M372.0 68.2h1M366.0 71.4h1M363.2 84.6h1M340.9 60.9h1M368.2 66.7h1M344.0 100.1h1M336.4 81.2h1M377.4 62.6h1M371.0 71.2h1M396.9 72.0h1M360.6 70.6h1M329.9 69.1h1M374.3 93.2h1M337.1 102.7h1M393.5 54.9h1M396.7 86.4h1M347.9 70.5h1M333.8 86.9h1M357.8 74.5h1M365.8 63.1h1M364.5 61.9h1M375.2 55.3h1M359.3 80.0h1M375.6 53.0h1M387.6 65.2h1M383.2 92.5h1M384.1 87.4h1M374.3 65.0h1M383.9 47.6h1M357.6 69.1h1M336.2 60.6h1M339.2 85.9h1M383.7 98.4h1M333.4 90.4h1M363.2 78.4h1M353.4 79.9h1M368.5 71.2h1M346.1 95.9h1M352.9 70.1h1M371.1 65.4h1M391.2 69.4h1M352.7 55.9h1M360.0 55.3h1M345.4 60.0h1M328.3 75.2h1M358.9 66.8h1M346.6 61.2h1M358.3 68.5h1M402.1 67.1h1M369.3 62.7h1M349.5 62.4h1M364.1 59.3h1M352.4 64.7h1M370.9 69.4h1M340.9 99.4h1M357.7 66.5h1M335.5 87.4h1M393.4 68.0h1M375.0 78.6h1M353.5 69.0h1M363.7 98.7h1M386.9 76.9h1M372.9 89.9h1M340.5 92.3h1M372.9 74.0h1M339.4 63.0h1M351.5 62.8h1M354.7 70.2h1M379.4 59.0h1M335.3 105.1h1M368.0 91.7h1M360.9 86.2h1M404.7 86.8h1M329.6 62.9h1M388.0 39.1h1M340.3 80.4h1M357.8 62.0h1M392.8 73.9h1M365.8 74.7h1M370.4 96.3h1M372.6 50.3h1M341.5 68.2h1M395.0 50.3h1M391.3 47.1h1M398.2 68.2h1M332.4 92.6h1M361.4 66.4h1M369.8 79.1h1M394.8 62.4h1M404.3 72.9h1M370.6 88.1h1M349.7 61.5h1M368.4 64.1h1M363.5 68.2h1M363.0 53.9h1M336.9 99.2h1M337.3 59.6h1M357.1 68.1h1M336.2 66.4h1M396.1 68.5h1M333.4 102.7h1M356.9 60.4h1M363.8 66.7h1M336.3 95.0h1M383.8 73.8h1M335.8 106.3h1M327.7 88.7h1M390.1 86.1h1M330.3 83.6h1M366.1 112.7h1M384.4 91.6h1M366.9 75.6h1M366.1 71.7h1M331.8 108.4h1M365.0 88.7h1M372.4 61.7h1M349.4 67.1h1M383.4 65.6h1M400.8 49.2h1M357.0 84.6h1M383.5 52.1h1M341.2 88.9h1M355.5 67.9h1M358.8 57.5h1M383.0 73.2h1M335.8 69.4h1M359.8 78.5h1M368.4 57.2h1M396.5 69.0h1M384.1 72.3h1M367.0 59.2h1M369.2 54.8h1M327.6 66.0h1M362.5 93.1h1M381.8 57.2h1M382.7 49.0h1M371.8 72.6h1M398.2 72.6h1M383.4 55.0h1M366.2 99.1h1M380.0 86.7h1M372.5 87.9h1M375.1 83.2h1M333.2 80.7h1M363.2 68.7h1M375.2 83.9h1M368.2 92.1h1M380.7 65.3h1M380.3 75.6h1M375.9 76.1h1M387.0 71.3h1M362.7 65.8h1M367.2 95.6h1M354.3 70.6h1M341.2 78.2h1M331.9 70.4h1M343.1 63.0h1M366.8 91.6h1M341.5 72.4h1M322.7 69.8h1M368.7 73.3h1M370.0 94.9h1M344.2 60.1h1M365.8 64.4h1M349.4 57.7h1M386.3 54.5h1M344.4 75.3h1M344.8 76.1h1M337.1 70.5h1M338.5 64.5h1M379.6 74.2h1M386.9 50.4h1M335.0 72.5h1M348.0 96.1h1M325.9 71.2h1M339.8 62.8h1M374.2 72.9h1M379.4 60.5h1M383.8 48.3h1M366.0 48.0h1M392.6 40.7h1M341.6 61.3h1M357.4 69.0h1M331.7 78.8h1M378.6 69.0h1M359.5 74.9h1M362.8 77.4h1M396.2 85.3h1M353.6 62.1h1M389.2 66.3h1M324.7 80.9h1M339.3 54.7h1M368.9 61.0h1M367.4 52.5h1M361.0 63.3h1M354.3 77.2h1M370.9 55.4h1M375.4 79.2h1M347.4 72.9h1M331.6 84.4h1M343.5 70.4h1M390.6 43.4h1M348.9 64.1h1M341.9 86.7h1M390.2 49.4h1M348.0 86.5h1M387.6 53.1h1M378.6 64.1h1M372.7 57.8h1M343.9 59.9h1M397.7 63.0h1M351.8 63.7h1M365.0 66.1h1M364.1 71.0h1M348.0 67.7h1M384.7 65.8h1M359.7 65.5h1M393.0 58.8h1M405.7 63.0h1M373.2 110.3h1M369.6 95.2h1M384.3 50.3h1M339.8 93.0h1M354.5 59.6h1M360.0 65.8h1M356.2 82.8h1M389.4 48.9h1M364.1 65.3h1M365.2 58.1h1M380.0 91.0h1M341.6 78.0h1M373.6 60.1h1M331.7 86.6h1M358.0 68.7h1M355.0 74.9h1M362.6 57.7h1M336.3 70.8h1M380.7 51.7h1M338.3 59.6h1M360.7 90.4h1M374.9 79.1h1M350.5 79.6h1M343.2 71.1h1M394.6 77.8h1M388.9 53.6h1M411.8 66.0h1M378.5 58.0h1M358.4 79.7h1M351.8 61.8h1M347.2 54.2h1M380.5 60.6h1M386.4 62.6h1M334.9 62.6h1M387.2 71.2h1M360.8 87.7h1M340.3 83.1h1M338.2 61.1h1M376.1 56.9h1M357.5 64.6h1M330.3 110.8h1M382.9 56.9h1M355.5 90.0h1M379.3 57.8h1M370.7 69.8h1M341.2 68.6h1M383.8 76.0h1M394.3 42.6h1M367.2 70.7h1M336.6 103.1h1M364.2 66.3h1M375.9 82.9h1M368.0 77.0h1M333.1 76.9h1M350.7 62.6h1M338.8 100.3h1M332.6 60.8h1M393.6 73.6h1M363.2 91.7h1M365.6 64.7h1M369.1 65.5h1M339.1 92.5h1M370.1 60.9h1M361.2 54.9h1M339.0 75.8h1M354.6 67.1h1M390.6 69.4h1M359.9 65.8h1M375.0 64.6h1M345.6 52.5h1M348.3 49.2h1M368.4 81.4h1M333.2 58.7h1M388.6 54.1h1M336.6 96.9h1M337.6 80.9h1M380.4 98.5h1M363.6 62.6h1M354.2 60.0h1M337.0 86.6h1M358.2 75.0h1M394.1 80.2h1M367.2 62.9h1M359.9 71.8h1M327.5 69.8h1M398.3 50.5h1M367.4 78.4h1M333.3 67.1h1M360.4 66.7h1M364.7 72.7h1M345.4 90.4h1M349.6 71.5h1M346.9 62.1h1M386.6 49.3h1M374.5 56.7h1M378.6 62.5h1M392.7 56.5h1M386.9 75.2h1M381.3 69.6h1M364.0 69.0h1M372.1 87.9h1M380.2 73.6h1M337.1 90.5h1M378.5 77.0h1M373.7 66.9h1M351.0 77.0h1M326.9 106.5h1M382.2 49.9h1M370.7 58.2h1M365.1 74.8h1M379.3 58.5h1M377.7 79.1h1M361.5 65.5h1M351.4 86.3h1M335.7 62.0h1M361.5 51.1h1M366.5 100.3h1M370.2 64.7h1M375.4 73.9h1M336.0 89.4h1M353.2 64.4h1M355.0 62.9h1M360.5 75.1h1M374.9 79.9h1M380.3 86.7h1" stroke="#8890ff" stroke-width="0.9"/><path d="M337.4 67.4h1M364.4 62.3h1M324.1 79.6h1M364.5 72.5h1M369.4 68.6h1M363.6 56.8h1M365.7 72.5h1M364.9 61.7h1M332.0 94.7h1M335.1 93.1h1M344.2 65.9h1M379.5 101.2h1M402.1 43.6h1M346.4 71.1h1M359.3 67.9h1M366.5 71.6h1M354.4 49.0h1M334.9 64.7h1M377.4 48.8h1M377.8 72.2h1M369.5 71.4h1M387.5 44.3h1M331.0 99.1h1M365.3 75.6h1M330.3 80.3h1M333.9 103.3h1M370.8 58.4h1M374.7 83.5h1M371.2 77.6h1M366.5 62.0h1M356.6 66.8h1M330.4 78.7h1M384.5 68.8h1M390.2 66.5h1M378.2 77.9h1M356.2 65.8h1M365.1 63.7h1M397.2 48.1h1M375.9 59.9h1M360.5 72.2h1M334.4 81.8h1M352.3 75.0h1M376.2 64.5h1M371.3 87.2h1M368.4 65.3h1M332.5 63.4h1M371.8 55.2h1M353.1 62.8h1M356.7 83.7h1M393.0 97.4h1M375.3 85.6h1M359.2 75.2h1M333.8 102.8h1M328.1 102.5h1M358.2 67.3h1M375.0 110.4h1M358.2 61.1h1M339.8 79.7h1M349.6 68.7h1M379.5 70.7h1M344.0 63.2h1M405.2 58.7h1M353.8 65.5h1M351.1 72.4h1M387.4 67.6h1M367.0 58.3h1M381.1 88.5h1M341.1 59.1h1M339.7 59.2h1M342.4 86.6h1M393.0 65.9h1M389.7 51.8h1M347.5 64.9h1M334.2 63.7h1M361.4 63.6h1M348.8 68.5h1M369.5 72.5h1M372.7 78.1h1M377.9 53.4h1M365.8 77.7h1M336.0 80.4h1M346.4 57.3h1M339.0 84.6h1M355.3 72.3h1M353.2 63.9h1M373.1 63.1h1M390.1 70.8h1M359.0 52.9h1M349.0 62.3h1M357.1 55.1h1M355.9 56.3h1M369.9 82.3h1M372.2 69.2h1M361.3 64.3h1M350.8 62.2h1M383.5 80.9h1M390.2 77.5h1M354.5 77.4h1M331.5 87.4h1M348.9 61.0h1M350.5 70.1h1M355.5 70.3h1M379.1 49.0h1M387.0 60.1h1M376.0 88.0h1M369.3 61.7h1M328.8 94.5h1M364.7 65.8h1M373.7 75.4h1M388.9 48.1h1M340.1 67.7h1M410.9 44.6h1M374.8 68.6h1M392.0 72.1h1M376.9 75.6h1M376.5 88.4h1M348.9 86.1h1M374.6 71.8h1M378.3 71.3h1M345.2 61.8h1M333.1 78.6h1M375.3 83.2h1M360.2 74.9h1M365.5 62.7h1M333.1 101.7h1M338.7 103.1h1M344.9 82.6h1M358.9 60.9h1M335.3 92.4h1M329.0 60.2h1M377.3 68.9h1M356.3 49.0h1M333.2 66.4h1M344.4 54.7h1M337.9 64.7h1M344.2 60.5h1M332.0 61.1h1M336.8 93.8h1M345.4 77.8h1M363.7 63.0h1M327.0 59.8h1M379.1 50.9h1M353.8 63.3h1M369.9 99.9h1M376.9 98.5h1M346.2 69.9h1M345.1 59.8h1M359.5 84.5h1M360.2 77.6h1M378.5 104.7h1M366.5 50.0h1M341.8 87.4h1M341.9 55.2h1M378.6 55.4h1M333.1 81.8h1M387.8 51.4h1M332.2 67.9h1M340.3 51.7h1M360.8 59.7h1M376.9 62.3h1M365.1 65.9h1M369.1 65.3h1M372.9 99.6h1M340.1 98.4h1M397.6 73.9h1M382.7 86.4h1M346.6 54.7h1M367.8 73.3h1M385.0 74.7h1M333.1 61.0h1M364.4 51.2h1M336.5 86.5h1M369.1 55.2h1M368.5 67.8h1M357.6 58.1h1M332.0 84.1h1M372.2 80.1h1M374.2 65.0h1M365.1 88.4h1M370.5 71.3h1M353.9 65.1h1M339.1 90.4h1M379.4 49.1h1M369.2 53.8h1M364.9 67.6h1M372.2 59.7h1M362.0 96.9h1M378.8 84.8h1M369.4 74.2h1M351.1 62.9h1M349.7 56.1h1M337.9 96.5h1M378.3 51.2h1M385.2 97.9h1M343.1 102.1h1M343.1 78.0h1M380.4 60.0h1M344.4 109.6h1M362.3 76.3h1M390.5 70.8h1M388.9 52.0h1M336.9 65.8h1M370.1 57.6h1M359.8 68.2h1M364.4 65.6h1M340.9 68.3h1M382.9 89.8h1M371.2 59.7h1M326.5 84.3h1M329.9 76.3h1M379.6 94.1h1M389.5 53.7h1M364.4 67.3h1M356.3 82.7h1M355.2 61.2h1M342.8 64.4h1M330.5 55.6h1M366.2 71.6h1M379.4 53.8h1M362.9 70.0h1M399.7 50.4h1M359.9 92.3h1M337.6 84.5h1M376.5 57.2h1M381.5 51.9h1M374.7 59.3h1M359.3 71.7h1M398.8 56.3h1M339.0 82.7h1M380.8 92.4h1M348.8 85.9h1M362.5 66.9h1M339.3 68.5h1M368.6 91.1h1M396.1 69.4h1M378.4 91.0h1M329.0 81.2h1M385.8 53.4h1M364.5 66.0h1M369.4 64.6h1M347.7 57.4h1M359.3 66.1h1M357.0 66.3h1M377.2 77.2h1M386.5 77.4h1M336.7 77.7h1M409.7 103.4h1M379.4 75.6h1M337.4 59.0h1M340.0 68.2h1M366.1 59.8h1M363.5 61.6h1M399.9 70.3h1M385.1 75.0h1M365.8 52.7h1M373.3 59.1h1M330.2 83.9h1M341.6 67.3h1M372.3 59.7h1M385.7 72.0h1M365.6 69.1h1M357.1 68.1h1M380.2 78.2h1M374.1 79.4h1M329.7 91.4h1M345.5 63.9h1M366.9 57.0h1M378.0 75.3h1M339.5 66.7h1M378.1 66.3h1M339.8 106.1h1M380.1 39.7h1M385.7 62.2h1M368.4 51.4h1M329.3 92.7h1M361.4 73.7h1M369.3 101.4h1M354.8 59.4h1M358.4 64.6h1M359.8 72.2h1M352.6 67.8h1M375.1 67.5h1M362.5 63.6h1M376.5 64.0h1M329.0 66.6h1M339.4 82.4h1M375.2 70.2h1M363.6 76.6h1M386.8 66.7h1M327.9 89.4h1M366.6 84.5h1M339.3 122.0h1M373.8 80.1h1M400.8 44.8h1M334.2 96.7h1M336.4 56.3h1M325.3 98.6h1M365.5 80.3h1M373.1 103.2h1M354.0 54.2h1M356.3 64.9h1M345.0 67.5h1M356.3 72.4h1M344.3 64.6h1M362.8 87.0h1M348.8 67.4h1M344.7 71.1h1M392.0 70.2h1M372.4 52.0h1M362.9 72.1h1M384.5 83.5h1M364.8 60.7h1M375.4 81.9h1M363.1 105.0h1M364.9 110.6h1M342.1 100.3h1M372.9 52.2h1M372.1 72.1h1M388.7 52.9h1M355.6 56.5h1M338.2 108.7h1M333.1 57.6h1M347.6 63.4h1M341.1 69.5h1M354.8 62.7h1M332.5 61.5h1M372.5 97.1h1M361.0 76.6h1M377.6 89.9h1M404.8 85.2h1M386.8 73.2h1M331.7 58.1h1M375.0 72.6h1M398.9 81.9h1M363.7 77.0h1M372.7 53.5h1M369.6 80.2h1M353.3 80.4h1M399.2 67.8h1M366.3 73.0h1M366.5 78.3h1M381.2 59.2h1M400.2 50.9h1M351.5 62.5h1M360.0 86.9h1M392.6 65.7h1M375.9 50.9h1M374.9 53.6h1M338.4 60.3h1M357.8 66.7h1M364.1 62.9h1M375.6 56.3h1M340.2 60.1h1M342.2 71.1h1M357.4 56.9h1M389.2 56.0h1M368.0 63.3h1M372.5 65.8h1M341.7 90.1h1M348.0 70.1h1M358.4 66.5h1M344.7 85.8h1M383.6 95.1h1M350.4 64.5h1M373.4 70.8h1M358.4 58.9h1M380.1 76.7h1M347.4 64.2h1M341.1 71.7h1M336.2 68.6h1M375.5 94.4h1M340.3 62.4h1" stroke="#aaa8f8" stroke-width="0.9"/><path d="M393.4 70.5h1M362.4 70.5h1M337.2 93.9h1M368.7 62.6h1M340.4 68.0h1M337.7 79.2h1M361.0 68.7h1M343.4 69.4h1M334.3 60.9h1M387.3 71.9h1M370.8 80.4h1M365.7 59.4h1M328.4 112.0h1M378.4 88.5h1M380.9 55.1h1M338.1 80.6h1M374.8 73.7h1M345.5 63.5h1M361.6 67.8h1M346.1 100.8h1M399.4 57.6h1M378.7 97.7h1M375.9 80.3h1M398.1 85.0h1M389.8 99.1h1M358.0 65.6h1M330.2 79.4h1M397.5 56.5h1M351.1 84.7h1M359.2 84.9h1M339.9 66.5h1M338.3 96.4h1M347.4 65.5h1M345.6 72.3h1M374.7 56.6h1M390.2 67.0h1M361.9 62.5h1M355.3 70.8h1M368.6 69.6h1M344.2 81.4h1M395.9 113.9h1M370.6 57.7h1M331.0 73.3h1M327.4 110.0h1M363.9 105.9h1M363.2 65.7h1M388.9 107.1h1M390.8 49.7h1M375.3 61.3h1M364.9 55.2h1M345.5 78.1h1M374.2 66.1h1M336.5 98.8h1M327.9 99.0h1M339.1 76.0h1M328.1 90.4h1M344.6 86.8h1M375.2 99.6h1M346.3 69.6h1M380.7 74.6h1M371.3 107.3h1M369.8 65.0h1M359.4 57.2h1M375.9 66.0h1M335.2 61.3h1M359.8 70.3h1M358.3 53.6h1M326.9 90.7h1M326.2 81.6h1M355.8 78.7h1M362.2 60.6h1M329.2 70.6h1M374.6 59.9h1M329.8 80.5h1M340.6 58.2h1M370.2 61.0h1M365.2 68.1h1M359.7 67.2h1M344.8 65.4h1M338.1 100.7h1M371.2 65.3h1M367.5 86.0h1M365.5 54.8h1M380.9 57.1h1M380.5 60.8h1M348.1 59.5h1M377.5 76.2h1M372.0 68.0h1M367.0 82.6h1M372.4 76.4h1M349.2 96.3h1M371.7 55.6h1M376.6 55.4h1M331.7 93.0h1M331.0 79.4h1M373.4 88.4h1M346.8 62.3h1M373.5 53.9h1M337.9 66.9h1M328.3 63.1h1M383.0 47.9h1M354.6 62.0h1M387.5 47.8h1M328.9 70.7h1M367.4 64.2h1M379.0 61.1h1M328.3 107.9h1M331.0 75.2h1M376.0 63.3h1M355.9 72.3h1M343.2 65.9h1M367.2 76.4h1M369.5 73.2h1M338.2 55.7h1M330.1 106.0h1M364.2 63.6h1M371.4 52.8h1M381.6 81.0h1M386.6 67.9h1M346.0 61.5h1M389.1 72.5h1M394.2 70.7h1M375.9 92.5h1M349.9 66.7h1M370.8 64.0h1M408.1 44.7h1M360.0 61.8h1M377.6 55.1h1M394.1 62.2h1M371.8 61.1h1M387.7 79.1h1M366.3 73.0h1M368.7 68.5h1M372.5 72.8h1M380.5 82.0h1M348.0 58.3h1M373.0 59.0h1M334.2 53.2h1M343.1 62.0h1M375.6 70.0h1M367.2 76.5h1M325.6 80.8h1M383.6 56.0h1M327.4 105.2h1M337.2 96.9h1M344.7 65.8h1M367.7 69.9h1M362.1 56.2h1M353.4 93.5h1M366.1 74.2h1M372.0 99.6h1M344.9 102.3h1M328.7 100.2h1M338.6 67.6h1M354.9 62.8h1M341.0 77.1h1M357.4 54.8h1M385.1 59.9h1M372.3 50.8h1M366.2 111.5h1M339.1 66.4h1M376.5 77.8h1M346.5 77.6h1M340.1 74.5h1M342.6 67.0h1M351.6 60.5h1M370.1 57.6h1M398.9 82.8h1M347.6 85.6h1M360.0 89.0h1M378.2 80.8h1M332.7 76.7h1M331.0 103.7h1M339.9 100.2h1M366.4 52.9h1M375.4 73.3h1M343.3 59.2h1M353.7 57.0h1M344.2 104.5h1M336.3 101.5h1M352.2 65.7h1M355.6 56.2h1M352.0 65.3h1M397.1 55.4h1M375.1 94.9h1M367.2 74.2h1M349.4 60.5h1M384.2 75.4h1M377.8 74.6h1M336.2 98.1h1M368.7 73.9h1M340.9 93.3h1M340.5 103.8h1M370.0 84.4h1M365.6 75.0h1M338.0 107.8h1M366.6 100.1h1M355.7 81.4h1M377.7 98.7h1M373.1 66.8h1M362.7 70.3h1M345.5 63.0h1M373.0 73.0h1M373.8 70.0h1M372.4 92.4h1M369.7 82.8h1M348.4 75.6h1M395.0 73.9h1M367.9 75.0h1M344.2 56.8h1M327.7 94.0h1M338.5 57.4h1M369.8 63.6h1M387.3 53.9h1M328.4 93.4h1M356.5 75.2h1M338.0 97.3h1M359.8 73.7h1M373.7 60.6h1M344.7 65.6h1M382.9 61.9h1M356.6 111.7h1M339.7 61.0h1M369.1 77.6h1M374.1 67.1h1M343.7 71.9h1M367.9 68.6h1M331.4 89.4h1M391.0 75.7h1M376.9 73.8h1M381.4 49.4h1M349.9 62.8h1M369.0 56.1h1M368.9 93.9h1M346.7 68.0h1M366.0 106.6h1M370.2 80.3h1M343.6 61.1h1M382.9 52.0h1M373.4 61.5h1M370.4 64.1h1M403.6 46.0h1M369.9 57.1h1M391.8 51.2h1M332.1 78.9h1M385.6 52.1h1M384.4 72.8h1M337.1 93.6h1M371.4 61.1h1M359.3 65.4h1M367.9 67.5h1M342.1 66.3h1M392.6 76.1h1M361.2 72.0h1M343.8 63.2h1M354.5 64.7h1M359.3 83.8h1M364.7 87.5h1M350.5 59.4h1M339.9 62.2h1M373.0 59.3h1M395.5 100.2h1M333.8 64.4h1M372.0 120.7h1M361.5 56.7h1M341.1 66.6h1M391.9 55.8h1M371.7 73.7h1M370.5 63.5h1M375.3 67.4h1M371.9 80.1h1M365.1 64.3h1M369.4 72.2h1M370.9 55.7h1M350.0 62.1h1M400.8 73.5h1M358.1 71.3h1M333.4 69.3h1M329.3 102.7h1M380.8 51.6h1M350.4 53.1h1M342.6 66.6h1M386.8 75.5h1M361.4 67.5h1M357.0 65.0h1M377.8 74.6h1M382.4 54.5h1M389.6 73.4h1M339.6 74.1h1M344.3 77.0h1M350.5 62.2h1M341.0 122.5h1M339.6 66.6h1M337.2 59.8h1M370.3 70.3h1M390.2 51.2h1M386.7 72.6h1M376.4 92.5h1M379.7 70.6h1M324.9 72.2h1M342.4 57.5h1M388.0 76.5h1M376.4 114.5h1M368.6 83.5h1M363.8 65.2h1M393.9 50.1h1M342.0 65.7h1M388.5 75.1h1M352.0 68.5h1M340.7 95.9h1M371.5 93.2h1M369.3 76.0h1M391.0 54.8h1M335.3 68.8h1M378.0 74.6h1M344.9 77.7h1M364.3 70.7h1M358.5 68.3h1M372.0 61.3h1M361.2 78.3h1M347.6 65.0h1M372.9 66.6h1M363.1 70.0h1M375.0 75.2h1M358.5 72.0h1M387.1 97.5h1M381.7 81.9h1M372.9 56.2h1M369.2 67.0h1M357.5 78.6h1M368.3 66.1h1M333.6 72.4h1M363.5 92.4h1M374.9 60.6h1M377.6 52.7h1M340.5 81.7h1M383.3 71.0h1M378.1 71.5h1M398.5 73.8h1M357.4 60.4h1M378.0 56.2h1M390.6 78.8h1M343.2 68.1h1M375.7 68.7h1M390.3 51.8h1M371.2 68.2h1M359.7 66.1h1M387.5 48.2h1M386.3 102.7h1M335.2 96.2h1M336.4 65.6h1M346.0 90.0h1M339.8 56.1h1M386.6 83.9h1M327.6 74.7h1M388.5 93.4h1M360.5 58.8h1M365.4 74.4h1M391.4 50.1h1M385.5 49.2h1M376.1 85.8h1M338.2 113.4h1M346.2 64.9h1M373.2 68.5h1M370.2 74.9h1M363.4 68.2h1M341.4 98.1h1M356.4 65.2h1M401.4 77.5h1M348.4 71.3h1M389.1 51.8h1M356.1 60.5h1M382.5 47.5h1M352.3 50.3h1M363.3 67.8h1M360.4 58.3h1" stroke="#c0b0f0" stroke-width="0.9"/><path d="M340.2 66.8h1M376.0 75.7h1M387.6 78.6h1M363.6 62.1h1M353.4 58.6h1M360.9 96.6h1M365.3 68.8h1M340.3 83.1h1M353.7 73.5h1M382.1 65.4h1M330.7 96.4h1M388.5 55.6h1M336.2 93.5h1M345.8 66.0h1M378.2 105.4h1M352.4 72.0h1M380.2 67.2h1M353.4 68.7h1M365.3 74.4h1M346.9 56.8h1M372.8 75.3h1M336.9 74.6h1M348.7 86.4h1M364.4 69.1h1M365.8 87.1h1M364.8 62.6h1M384.8 84.3h1M359.0 82.4h1M336.7 61.1h1M382.2 69.6h1M374.8 75.0h1M361.4 61.1h1M359.2 62.8h1M375.3 49.6h1M383.5 50.6h1M360.9 66.9h1M343.7 66.4h1M361.9 80.6h1M330.7 55.5h1M383.8 102.1h1M334.8 65.8h1M357.7 86.1h1M365.9 72.8h1M352.4 76.6h1M324.5 62.6h1M332.2 80.4h1M390.8 83.8h1M384.1 59.3h1M370.9 60.7h1M337.7 69.9h1M391.0 57.7h1M380.9 57.5h1M357.9 71.1h1M357.6 65.0h1M388.4 51.8h1M367.9 66.5h1M384.4 47.7h1M365.5 58.2h1M357.1 60.6h1M364.7 73.6h1M362.3 72.3h1M371.7 52.5h1M377.7 59.4h1M370.9 59.1h1M368.8 56.7h1M336.7 63.9h1M327.6 58.1h1M366.0 74.4h1M378.1 48.5h1M342.4 70.5h1M346.4 64.4h1M347.7 72.3h1M351.7 60.6h1M386.7 53.5h1M359.2 62.8h1M333.1 101.4h1M340.3 104.1h1M370.8 72.4h1M362.2 72.9h1M357.6 59.4h1M330.9 69.7h1M362.5 79.7h1M377.4 71.0h1M378.7 48.2h1M333.6 93.8h1M343.7 70.8h1M386.1 47.1h1M346.3 80.7h1M388.9 83.8h1M337.8 100.7h1M367.1 68.9h1M355.6 64.4h1M373.6 57.7h1M357.0 75.4h1M369.2 77.4h1M329.6 80.6h1M343.3 65.1h1M342.6 61.1h1M384.2 67.3h1M361.0 70.9h1M342.8 65.7h1M322.6 113.4h1M373.6 76.6h1M361.8 70.3h1M371.8 78.6h1M376.1 109.7h1M354.5 70.4h1M370.6 80.0h1M369.1 100.1h1M336.8 67.3h1M400.0 82.1h1M364.5 64.2h1M374.1 55.2h1M370.9 70.2h1M345.9 58.4h1M340.8 76.2h1M332.3 92.6h1M333.1 99.0h1M399.1 81.5h1M384.2 46.0h1M377.0 64.1h1M375.5 67.3h1M339.1 112.9h1M384.6 72.9h1M382.4 45.2h1M330.5 69.7h1M375.6 78.7h1M332.7 84.4h1M372.2 67.3h1M352.6 93.0h1M390.3 49.8h1M376.1 62.1h1M339.9 92.2h1M393.7 50.9h1M339.5 86.3h1M346.1 71.3h1M379.6 52.1h1M378.9 59.4h1M377.5 80.4h1M361.2 77.9h1M335.1 67.0h1M337.6 71.5h1M338.6 92.7h1M361.9 70.0h1M390.4 57.8h1M370.9 60.1h1M392.0 66.2h1M342.3 64.3h1M373.7 54.0h1M360.9 68.7h1M370.2 57.5h1M363.4 65.0h1M389.0 67.1h1M343.2 60.7h1M377.1 95.9h1M351.3 60.4h1M367.8 66.8h1M367.2 62.4h1M347.6 53.1h1M337.9 102.5h1M388.2 65.5h1M373.5 74.2h1M375.1 75.5h1M356.9 72.9h1M370.4 55.1h1M361.9 82.4h1M341.0 71.2h1M371.2 71.4h1M352.8 67.8h1M366.0 72.2h1M353.5 82.1h1M342.8 99.1h1M336.5 57.8h1M336.2 104.6h1M364.3 78.5h1M399.5 49.9h1M332.2 109.4h1M391.8 51.3h1M332.8 68.9h1M360.7 71.3h1M387.0 53.7h1M369.6 71.5h1M329.1 61.6h1M357.5 67.1h1M357.6 70.2h1M365.4 83.4h1M351.9 76.2h1M375.2 65.7h1M357.4 63.5h1M402.4 59.4h1M369.6 52.2h1M386.6 53.7h1M333.1 87.6h1M350.6 106.1h1M374.2 87.4h1M342.6 62.2h1M333.0 105.3h1M330.7 102.7h1M357.7 71.1h1M336.5 58.2h1M376.6 57.1h1M371.7 67.9h1M369.7 64.6h1M361.0 74.4h1M377.5 72.2h1M383.8 67.5h1M334.1 97.0h1M369.2 72.6h1M363.2 64.9h1M392.5 68.9h1M364.5 65.7h1M337.7 59.3h1M344.8 60.0h1M326.2 94.5h1M394.6 68.9h1M386.4 59.3h1M389.0 72.1h1M402.5 51.1h1M342.4 85.8h1M341.8 89.3h1M371.2 75.6h1M368.7 74.6h1M399.3 72.2h1M355.1 56.1h1M335.5 66.5h1M372.3 68.7h1M347.5 64.8h1M332.9 103.8h1M384.5 75.2h1M360.3 56.8h1M388.2 92.3h1M361.3 63.7h1M338.5 54.7h1M349.4 87.1h1M384.5 63.2h1M382.0 52.7h1M355.5 70.1h1M364.6 76.5h1M339.3 62.8h1M373.0 68.3h1M360.6 61.5h1M362.8 71.3h1M367.1 84.2h1M393.4 48.2h1M334.7 57.9h1M335.6 64.6h1M393.3 62.8h1M379.6 64.3h1M365.2 95.5h1M388.6 55.8h1M363.6 75.3h1M358.2 73.6h1M357.6 73.2h1M365.7 74.3h1M355.9 82.5h1M359.6 54.7h1M331.1 63.3h1M398.6 65.8h1M388.8 64.8h1M358.4 68.5h1M358.6 62.9h1M358.9 81.8h1M334.8 70.5h1M399.6 91.4h1M337.0 98.7h1M362.4 72.2h1M376.3 75.9h1M355.9 72.6h1M352.6 59.0h1M354.4 54.0h1M375.4 64.3h1M357.7 69.8h1M349.6 57.0h1M372.9 81.4h1M344.6 65.3h1M356.2 62.8h1M360.2 55.5h1M360.5 91.3h1M363.6 105.6h1M349.4 72.5h1M377.1 59.2h1M355.6 58.7h1M366.7 106.7h1M346.8 67.8h1M367.1 57.5h1M382.5 55.7h1M348.2 57.0h1M377.2 73.7h1M360.8 71.3h1M330.0 112.4h1M332.2 66.7h1M345.4 69.3h1M346.0 91.1h1M373.2 91.5h1M376.7 74.2h1M384.0 46.5h1M378.6 78.5h1M331.5 89.5h1M378.3 57.2h1M355.0 64.4h1M377.2 67.1h1M383.5 48.3h1M362.2 105.7h1M387.6 63.5h1M344.9 66.5h1M362.8 82.6h1M386.5 86.5h1M406.1 77.4h1M364.6 90.9h1M379.8 79.5h1M356.5 81.0h1M352.9 83.9h1M378.6 68.3h1M336.6 98.5h1M376.7 79.9h1M362.7 86.6h1M375.2 82.3h1M341.1 67.0h1M339.1 81.2h1M346.0 65.7h1M348.5 68.9h1M353.3 70.6h1M381.4 86.1h1M377.0 53.9h1M362.5 71.5h1M378.7 71.1h1M367.2 77.6h1M388.0 64.9h1M391.2 76.0h1M376.0 71.6h1M402.8 83.2h1M337.5 82.9h1M335.9 93.5h1M369.5 58.9h1M365.2 60.7h1M397.6 75.6h1M367.7 75.4h1M339.4 88.9h1M363.2 58.8h1M342.3 70.0h1M375.7 65.4h1M383.0 67.0h1M381.1 102.6h1M341.9 63.8h1M338.4 104.9h1M346.3 68.9h1M353.3 60.9h1M379.5 59.7h1M375.5 60.9h1M336.6 108.2h1M365.0 59.8h1M356.9 68.4h1M367.5 44.4h1M340.3 89.8h1M327.8 92.2h1M385.6 87.0h1M359.7 94.6h1M364.7 72.6h1M370.5 118.0h1M368.7 62.5h1M377.0 77.0h1M330.4 99.7h1M375.1 78.1h1M328.3 54.4h1M368.3 67.8h1M378.4 79.5h1M370.0 58.3h1M384.4 52.6h1M351.4 67.1h1M339.4 58.5h1M390.0 43.7h1M374.1 61.8h1M373.0 51.9h1M361.3 60.5h1M374.8 80.7h1M373.4 78.0h1M375.3 75.3h1M358.4 63.6h1M363.9 62.5h1M339.2 87.2h1M328.4 79.5h1M391.0 46.7h1M379.3 59.8h1M331.4 63.9h1M387.7 73.3h1M342.6 76.3h1M342.5 107.9h1M378.6 59.1h1M340.4 78.2h1M357.0 65.1h1M360.0 77.9h1M334.2 63.5h1M330.6 74.3h1M356.9 63.4h1M359.5 72.0h1M374.4 51.2h1M372.7 93.0h1M355.0 104.3h1" stroke="#2838e8" stroke-width="0.9"/>
<g clip-path="url(#c3)"><g filter="url(#fb)">
<path d="M401.4,40.3 400.1,39.7 393.4,39.7 355.4,44.0 352.8,44.7 350.4,46.3 343.8,42.3 341.1,41.7 337.1,41.7 331.4,43.7 324.1,50.0 323.4,52.7 324.8,54.7 324.8,84.7 325.8,103.0 326.8,110.7 327.8,113.0 329.8,115.3 333.8,117.3 339.4,117.0 341.8,115.7 343.8,113.7 345.1,111.0 345.4,98.0 347.1,81.3 351.8,63.0 352.4,63.0 352.4,65.0 353.4,67.7 356.1,70.3 360.4,72.3 361.1,76.7 362.4,77.7 364.4,77.7 366.1,76.3 366.4,72.7 370.4,72.0 374.8,69.7 377.1,66.7 377.1,61.3 375.8,59.3 372.8,57.0 382.8,53.3 401.4,47.7 402.8,46.3 403.4,44.3 403.1,42.3ZM353.4,59.3 353.8,60.0 352.8,61.7 352.4,60.3Z" fill="#7080ff" fill-opacity="0.3" fill-rule="evenodd"/>
<path d="M400.8,41.3 396.8,40.7 388.8,41.0 358.8,44.7 353.8,45.7 350.8,47.7 346.4,47.7 341.1,46.3 335.8,46.3 329.8,47.7 325.8,50.3 325.8,53.7 330.1,56.7 329.8,100.7 329.1,102.0 329.1,105.3 330.4,107.7 330.4,109.7 332.1,112.3 334.8,113.7 337.4,113.7 339.4,112.7 340.8,111.3 341.8,108.3 343.8,105.0 343.8,102.3 343.1,100.3 341.1,98.0 342.1,82.3 347.8,57.3 351.1,56.7 354.8,58.7 360.1,59.0 360.8,63.0 360.4,64.7 361.1,65.7 362.4,72.7 363.1,74.3 363.8,74.7 364.1,67.3 367.8,66.7 369.4,65.0 369.4,63.0 368.8,62.0 366.8,61.0 364.1,60.7 364.4,58.3 366.8,58.0 378.4,53.7 400.1,47.0 402.1,45.0 402.1,43.0Z" fill="#2436f2" fill-opacity="0.78" fill-rule="evenodd"/>
<path d="M334.1,98.3 332.4,99.3 330.8,101.7 330.4,104.0 331.4,106.7 334.4,109.0 338.1,109.0 339.8,108.3 342.1,105.3 342.1,102.0 341.4,100.7 339.4,98.7 337.4,98.0ZM400.4,43.3 399.8,42.7 397.1,42.0 388.4,42.0 354.4,46.7 351.8,48.7 347.1,49.0 342.4,47.3 334.4,47.3 330.8,48.3 328.4,49.7 327.1,52.3 327.8,53.7 329.4,55.0 334.4,56.7 338.4,57.0 342.4,56.7 345.4,55.7 352.1,55.7 354.4,57.3 365.1,57.3 380.4,52.0 396.1,47.3 400.4,44.7Z" fill="#1e50ff" fill-rule="evenodd"/>
<path d="M334.8,99.3 332.1,101.7 331.8,104.7 332.4,106.0 335.1,108.0 338.4,107.7 340.4,106.0 341.1,102.7 338.8,99.7ZM397.4,44.0 396.8,43.3 393.8,42.7 389.1,42.7 367.4,45.3 354.4,47.7 351.8,50.0 347.4,50.0 342.8,48.0 336.4,47.7 330.4,49.3 329.1,50.3 328.4,52.3 329.1,53.7 330.4,54.7 336.4,56.3 340.4,56.3 344.1,55.7 346.1,54.7 352.1,54.3 354.4,56.3 364.8,56.7 376.8,52.3 394.4,47.0 397.4,45.0Z" fill="#10a8ff" fill-rule="evenodd"/>
<path d="M334.4,100.7 332.8,103.0 333.4,105.7 335.8,107.0 338.1,106.7 339.8,105.0 339.4,101.7 337.4,100.3ZM395.1,44.7 393.4,43.7 389.1,43.3 364.4,46.3 354.1,48.7 352.1,51.3 347.4,51.3 345.8,49.7 341.8,48.3 335.1,48.3 330.8,50.0 329.8,51.0 329.4,52.3 331.8,54.7 335.1,55.7 341.8,55.7 344.4,55.0 347.8,53.0 352.1,53.0 354.1,55.3 355.1,55.7 365.1,56.0 377.8,51.3 391.4,47.3 394.1,46.0Z" fill="#20e8b0" fill-rule="evenodd"/>
<path d="M335.8,101.3 334.4,102.3 334.1,104.3 335.4,105.7 337.4,105.7 338.4,104.7 338.8,103.0 337.8,101.7ZM330.4,51.7 330.8,53.0 331.8,54.0 335.8,55.3 342.8,55.0 345.1,54.0 346.4,52.7 346.4,51.3 345.1,50.0 341.1,48.7 335.8,48.7 331.8,50.0ZM392.4,45.0 389.8,44.0 363.4,47.0 354.1,49.7 353.1,51.3 353.1,52.7 354.1,54.3 355.8,55.0 365.8,55.3 376.8,51.0 391.4,46.3Z" fill="#48f040" fill-rule="evenodd"/>
<path d="M332.1,51.3 332.1,52.7 333.1,53.7 336.1,54.7 342.4,54.3 345.1,52.3 344.8,51.0 341.1,49.3 336.1,49.3 333.8,50.0ZM384.1,46.7 372.1,47.0 363.1,48.0 356.4,50.3 354.8,51.7 354.8,52.3 358.1,54.0 364.8,54.7 381.4,48.3Z" fill="#b0f020" fill-rule="evenodd"/>
<path d="M333.1,52.0 334.1,53.3 337.8,54.3 341.1,54.0 343.4,53.0 343.8,52.3 343.4,51.0 339.4,49.7 334.8,50.3ZM358.1,52.0 360.4,53.3 365.8,53.7 373.8,50.0 374.8,48.7 363.4,48.7 359.8,50.0 358.1,51.3Z" fill="#f8e000" fill-rule="evenodd"/>
<path d="M334.4,51.3 334.4,52.7 336.4,53.7 340.4,53.7 342.8,52.3 342.1,51.0 340.4,50.3 336.4,50.3ZM370.8,49.7 368.8,49.0 363.8,49.3 361.4,50.3 360.4,51.7 361.8,52.7 364.4,53.3 369.8,51.0Z" fill="#ff9000" fill-rule="evenodd"/>
<path d="M335.4,51.7 335.8,52.7 337.4,53.3 340.8,53.0 341.8,52.0 340.8,51.0 337.4,50.7ZM362.8,51.7 363.8,52.3 365.1,52.3 366.4,51.7 367.4,50.3 363.8,50.0Z" fill="#f82010" fill-rule="evenodd"/>
</g></g></g>
<path d="M334,36 H353.3 M323.5,72 H353.3 M353.3,36.8 H407.1 V63.8 H353.3" fill="none" stroke="#333" stroke-width="0.9"/>
<path d="M353.3,36 V72" fill="none" stroke="#111" stroke-width="1.3"/>
<path d="M323.7,72.7 H349.6 V112.4 H323.7" fill="none" stroke="#333" stroke-width="0.9"/>
<text x="329" y="40.4" font-size="5.6" text-anchor="middle" fill="#222" font-weight="normal" >B</text>
<text x="329" y="46" font-size="5.6" text-anchor="middle" fill="#222" font-weight="normal" >32.0</text>
<text x="401.4" y="56.3" font-size="5.6" text-anchor="middle" fill="#222" font-weight="normal" >A</text>
<text x="402" y="62" font-size="5.6" text-anchor="middle" fill="#222" font-weight="normal" >49.8</text>
<text x="348.1" y="104" font-size="5.6" text-anchor="middle" fill="#222" font-weight="normal" >C</text>
<text x="348.1" y="109.4" font-size="5.6" text-anchor="middle" fill="#222" font-weight="normal" >15.0</text>
<g clip-path="url(#c4)">
<path d="M451.2 62.5h1M431.0 64.2h1M456.3 65.5h1M476.1 52.2h1M462.7 61.6h1M429.0 83.8h1M453.4 95.3h1M433.2 70.1h1M454.7 66.0h1M473.6 72.2h1M429.8 98.2h1M464.2 58.4h1M464.3 52.0h1M468.7 70.9h1M440.0 104.1h1M435.4 68.6h1M493.2 71.7h1M453.0 60.5h1M463.6 73.0h1M426.1 104.1h1M467.5 57.6h1M465.9 43.1h1M465.1 59.5h1M458.6 64.3h1M430.2 60.7h1M444.5 55.9h1M428.6 86.6h1M430.5 55.1h1M427.5 79.3h1M484.1 76.3h1M485.6 72.0h1M460.8 74.5h1M479.0 83.0h1M491.9 54.0h1M427.2 94.1h1M455.8 56.6h1M439.1 58.1h1M437.8 75.8h1M476.3 78.2h1M454.3 59.1h1M432.0 87.4h1M500.1 74.5h1M480.6 66.8h1M432.7 93.6h1M462.4 88.6h1M447.4 63.8h1M428.9 80.4h1M448.7 59.1h1M439.2 59.6h1M467.1 55.8h1M441.4 63.4h1M438.9 68.4h1M452.1 100.3h1M469.0 101.9h1M429.6 58.7h1M472.0 94.5h1M460.9 58.8h1M468.5 77.1h1M437.7 66.6h1M475.0 45.7h1M462.2 49.7h1M442.8 54.9h1M488.2 102.6h1M439.9 58.2h1M443.4 72.7h1M439.9 60.6h1M441.7 63.6h1M462.3 63.8h1M439.3 52.1h1M453.9 59.9h1M479.2 47.0h1M455.4 74.2h1M474.2 67.9h1M453.4 68.5h1M429.0 71.8h1M434.6 67.3h1M427.8 89.8h1M451.1 69.3h1M431.3 70.3h1M432.4 77.5h1M429.6 90.0h1M460.8 81.9h1M434.2 96.8h1M500.5 44.4h1M441.9 54.9h1M487.1 97.7h1M428.8 87.4h1M430.1 87.8h1M462.8 67.2h1M485.4 80.1h1M450.0 67.1h1M457.6 72.3h1M451.0 61.8h1M465.1 66.5h1M458.0 60.2h1M473.0 75.2h1M490.4 46.9h1M425.2 96.1h1M442.6 58.8h1M460.8 78.6h1M472.7 44.1h1M456.8 49.9h1M444.5 82.2h1M469.3 51.6h1M457.6 69.0h1M425.5 112.1h1M475.3 66.6h1M472.9 53.0h1M482.9 73.5h1M439.1 104.2h1M486.5 76.1h1M463.1 68.2h1M450.1 71.3h1M425.4 99.1h1M459.7 69.3h1M479.6 69.2h1M477.8 41.9h1M463.3 71.3h1M485.5 91.0h1M435.9 55.4h1M423.6 54.6h1M484.4 75.8h1M486.5 41.4h1M442.9 61.4h1M446.1 60.9h1M461.3 58.7h1M461.1 61.3h1M478.4 58.2h1M439.1 71.5h1M483.7 48.9h1M452.3 70.6h1M431.6 78.7h1M466.8 79.5h1M458.5 49.3h1M466.5 82.5h1M461.7 54.5h1M456.7 69.6h1M455.6 58.2h1M433.3 71.3h1M428.4 89.5h1M423.7 101.0h1M457.9 44.8h1M428.9 96.4h1M472.8 75.4h1M457.1 78.3h1M465.9 48.3h1M440.2 51.1h1M453.7 71.3h1M483.0 47.6h1M439.5 116.4h1M489.1 111.7h1M458.7 54.1h1M439.2 59.0h1M457.7 86.4h1M437.0 95.0h1M486.9 41.3h1M492.8 42.3h1M465.5 58.6h1M502.7 113.8h1M473.4 82.9h1M425.7 79.0h1M448.6 67.4h1M478.1 96.5h1M426.9 102.7h1M455.5 91.7h1M465.6 85.0h1M447.5 49.5h1M464.7 105.1h1M430.1 113.9h1M469.6 48.1h1M433.7 77.7h1M479.7 98.0h1M460.0 72.2h1M455.3 70.8h1M479.7 47.3h1M456.1 80.6h1M425.7 61.5h1M463.1 64.5h1M458.5 66.1h1M461.5 71.9h1M453.9 60.5h1M442.7 67.4h1M442.6 53.7h1M435.7 82.1h1M467.9 74.9h1M475.6 74.0h1M471.6 55.7h1M477.5 58.9h1M431.8 95.6h1M466.9 47.8h1M429.7 95.5h1M437.5 94.1h1M468.4 65.1h1M434.5 65.7h1M458.3 58.3h1M464.8 66.9h1M464.9 68.4h1M431.3 59.4h1M474.7 45.6h1M424.4 60.2h1M451.5 55.2h1M459.3 55.8h1M468.9 55.0h1M433.3 71.6h1M459.0 51.2h1M471.7 51.2h1M434.0 66.6h1M431.3 55.8h1M440.6 70.9h1M461.9 74.3h1M468.1 51.4h1M477.2 68.2h1M445.2 76.2h1M480.3 70.7h1M427.4 77.3h1M484.6 42.5h1M460.1 58.7h1M441.8 86.1h1M434.6 79.3h1M434.8 105.6h1M460.5 62.9h1M458.9 68.1h1M456.9 68.5h1M463.8 66.3h1M471.9 68.2h1M457.4 58.4h1M461.9 68.3h1M460.1 65.1h1M435.5 108.0h1M463.5 52.5h1M481.1 68.0h1M474.7 51.7h1M458.0 55.9h1M441.2 59.3h1M448.0 70.3h1M432.6 76.3h1M491.1 46.4h1M441.6 62.6h1M457.9 98.5h1M452.2 68.8h1M451.4 72.0h1M442.2 59.2h1M451.4 55.2h1M485.8 46.8h1M451.9 77.1h1M435.7 60.6h1M441.2 57.3h1M479.4 63.8h1M472.3 54.3h1M443.8 67.8h1M437.8 62.4h1M460.9 58.6h1M478.8 52.0h1M443.2 62.6h1M445.0 87.6h1M471.9 69.0h1M471.1 50.9h1M433.6 101.2h1M438.6 100.2h1M449.8 55.9h1M466.7 55.2h1M465.4 75.6h1M495.8 92.3h1M472.5 83.1h1M481.6 48.9h1M422.8 83.2h1M458.3 61.1h1M457.2 61.3h1M458.9 103.1h1M438.8 95.9h1M484.9 58.5h1M459.0 101.6h1M450.2 72.0h1M468.6 81.3h1M494.2 43.6h1M428.6 71.3h1M461.1 61.7h1M474.9 56.8h1M478.5 52.4h1M494.6 41.9h1M430.5 85.5h1M442.6 65.7h1M435.8 92.6h1M437.4 92.9h1M476.4 97.8h1M455.0 55.4h1M464.6 63.2h1M473.7 100.2h1M473.0 99.4h1M444.7 51.0h1M462.3 86.5h1M433.0 64.9h1M490.3 48.1h1M467.4 59.4h1M470.8 54.6h1M460.4 69.7h1M479.0 67.2h1M448.6 65.1h1M427.9 54.1h1M428.4 95.3h1M455.2 75.2h1M462.0 65.8h1M426.3 96.3h1M454.4 89.3h1M465.0 47.4h1M448.0 72.9h1M422.5 99.5h1M481.5 85.2h1M464.0 64.3h1M493.9 42.4h1M433.7 84.5h1M429.7 112.9h1M448.6 68.7h1M473.6 43.0h1M468.1 58.9h1M462.4 49.3h1M431.3 62.0h1M437.8 67.5h1M467.5 80.3h1M466.6 70.3h1M468.3 55.5h1M430.5 95.3h1M484.1 79.1h1M490.6 71.1h1M454.2 61.6h1M444.9 112.9h1M436.6 69.9h1M464.2 68.2h1M458.1 66.6h1M503.5 40.6h1M453.0 66.3h1M485.9 42.2h1M477.4 83.5h1M430.7 66.6h1M454.7 67.4h1M428.4 89.2h1M430.8 65.7h1M478.7 51.1h1M452.2 60.6h1M433.5 67.1h1M480.8 54.2h1M429.9 103.6h1M461.6 78.0h1M438.1 110.8h1M474.2 73.6h1M436.9 106.9h1M449.5 55.0h1M432.6 84.5h1M474.4 68.4h1M446.9 65.7h1M424.8 96.1h1M467.5 51.3h1M436.1 67.1h1M444.8 76.7h1M445.5 66.3h1M429.7 53.1h1M455.4 80.3h1M440.2 88.0h1M478.5 104.9h1M481.1 52.0h1M438.4 101.3h1M436.5 49.1h1M437.5 100.1h1M452.3 69.0h1M428.7 76.1h1M439.9 67.3h1M476.2 51.8h1M483.7 53.0h1M479.8 71.7h1M428.8 80.6h1M427.3 79.3h1M485.6 67.6h1M454.5 59.2h1M474.4 100.9h1M462.2 70.7h1M438.9 63.7h1M473.3 61.1h1M445.6 66.2h1M473.7 65.5h1M437.7 74.1h1M469.7 79.0h1M440.5 60.5h1M459.2 64.8h1M440.7 80.7h1M461.0 62.3h1M431.1 99.8h1M468.8 88.5h1M454.1 54.9h1M429.4 66.3h1M460.4 58.9h1M428.8 68.9h1M436.0 108.5h1M453.7 57.0h1M450.6 55.9h1M478.3 52.3h1M425.9 62.2h1M457.3 87.5h1M481.8 83.7h1M425.9 57.9h1M454.0 64.4h1M436.2 95.4h1M493.2 55.6h1M441.8 67.9h1M440.0 97.5h1M488.4 46.2h1M440.5 62.9h1M466.2 66.2h1M434.7 71.0h1M424.8 101.4h1M437.2 87.1h1M441.0 67.4h1M435.3 57.3h1M431.7 102.8h1M487.3 66.1h1M462.8 57.7h1M436.7 73.0h1M446.4 58.4h1M475.4 43.5h1M450.2 87.5h1M479.6 61.8h1M462.6 92.0h1M474.9 73.6h1M501.0 59.6h1M433.6 77.4h1" stroke="#3040ff" stroke-width="0.9"/><path d="M491.6 83.0h1M463.9 49.5h1M434.6 85.1h1M445.5 63.5h1M437.2 62.2h1M473.3 52.8h1M459.6 55.7h1M467.9 58.6h1M450.3 61.7h1M457.5 55.9h1M447.2 80.9h1M433.8 92.8h1M458.1 78.9h1M437.8 64.3h1M432.0 80.4h1M439.1 95.7h1M446.8 65.8h1M448.0 70.3h1M448.4 65.6h1M454.2 94.9h1M460.3 72.0h1M464.6 64.5h1M466.6 87.9h1M483.4 46.3h1M437.6 73.5h1M484.5 52.7h1M444.4 80.6h1M458.2 74.6h1M482.7 50.4h1M462.2 55.6h1M466.5 50.3h1M472.2 69.1h1M454.8 62.9h1M469.7 56.8h1M466.7 83.2h1M452.8 71.8h1M426.6 83.8h1M453.5 59.6h1M454.6 75.7h1M467.9 66.2h1M475.9 118.3h1M495.6 67.9h1M466.3 65.9h1M483.3 75.8h1M489.2 54.9h1M466.8 72.6h1M470.1 68.9h1M430.7 55.2h1M433.6 88.0h1M472.5 53.8h1M457.2 62.0h1M454.2 59.8h1M462.2 61.9h1M435.8 94.2h1M469.7 69.7h1M432.4 54.8h1M434.6 79.5h1M450.9 103.9h1M461.4 78.4h1M438.0 79.2h1M467.8 77.6h1M450.7 55.0h1M468.1 86.2h1M439.4 78.8h1M468.1 64.0h1M449.9 55.2h1M424.6 80.3h1M440.8 106.1h1M469.8 56.3h1M444.7 61.2h1M490.7 68.7h1M424.8 84.2h1M449.6 75.7h1M430.6 65.4h1M458.2 78.4h1M478.6 41.7h1M450.8 66.0h1M474.5 79.6h1M454.1 75.6h1M467.4 81.5h1M457.3 54.1h1M447.5 54.3h1M474.5 47.9h1M481.4 72.5h1M458.5 82.8h1M447.9 87.4h1M428.2 82.1h1M441.6 68.9h1M427.2 91.7h1M466.6 55.8h1M449.1 85.0h1M424.1 86.8h1M455.4 55.9h1M433.5 95.2h1M458.4 68.3h1M450.3 47.0h1M481.6 47.1h1M457.5 58.7h1M431.3 58.6h1M466.2 74.8h1M464.7 70.8h1M465.7 53.9h1M456.6 95.5h1M444.5 73.7h1M495.2 73.5h1M451.8 62.2h1M432.4 94.8h1M444.3 68.0h1M456.1 59.7h1M481.4 45.4h1M453.0 60.6h1M458.6 60.0h1M434.1 76.1h1M452.8 53.1h1M423.3 66.9h1M459.5 73.3h1M447.5 68.0h1M436.5 67.1h1M438.4 49.9h1M467.9 84.5h1M465.7 102.0h1M486.8 69.3h1M436.2 54.8h1M473.1 54.2h1M444.8 65.3h1M461.7 73.9h1M460.6 59.8h1M444.2 74.8h1M474.3 99.0h1M455.5 57.6h1M475.1 74.0h1M455.3 71.8h1M436.5 66.0h1M467.8 94.5h1M431.9 64.7h1M451.8 61.5h1M493.4 38.9h1M476.9 46.5h1M436.7 93.6h1M441.2 70.1h1M423.4 78.7h1M424.6 95.2h1M487.0 76.9h1M426.2 96.4h1M458.9 61.7h1M425.9 93.1h1M444.8 63.9h1M441.1 66.9h1M430.6 80.4h1M459.0 69.5h1M425.3 98.9h1M459.4 58.8h1M422.1 83.7h1M440.2 69.7h1M491.7 71.9h1M468.4 47.2h1M461.3 56.8h1M471.8 81.4h1M450.7 71.0h1M490.0 77.6h1M464.4 66.7h1M480.3 47.2h1M444.9 62.0h1M442.9 73.4h1M426.7 68.6h1M462.5 54.5h1M458.4 55.6h1M462.8 77.4h1M439.6 65.9h1M462.5 51.9h1M463.4 86.2h1M476.8 78.4h1M429.9 100.0h1M455.0 66.6h1M439.9 65.5h1M441.5 84.7h1M442.7 64.7h1M483.8 61.9h1M469.6 60.1h1M454.1 59.0h1M464.6 51.9h1M454.8 64.3h1M475.3 51.1h1M464.3 50.3h1M433.3 98.3h1M466.2 62.2h1M483.8 64.5h1M420.5 98.0h1M472.6 76.7h1M493.7 73.0h1M457.6 73.2h1M470.5 94.9h1M464.1 52.1h1M469.0 97.6h1M461.9 82.9h1M446.2 58.2h1M440.7 86.0h1M437.0 95.8h1M450.6 78.5h1M429.0 116.6h1M446.5 85.7h1M489.8 72.9h1M480.5 64.9h1M445.8 72.1h1M428.2 75.9h1M434.0 95.9h1M475.8 52.1h1M443.7 60.7h1M485.4 46.4h1M475.1 96.5h1M435.6 85.4h1M458.1 70.9h1M483.3 47.7h1M487.7 74.4h1M486.1 67.5h1M474.9 72.2h1M425.7 80.7h1M480.5 92.1h1M442.3 53.3h1M436.0 67.6h1M446.5 55.2h1M432.7 60.5h1M426.8 105.0h1M445.2 54.7h1M481.5 61.3h1M431.0 62.9h1M431.1 61.8h1M445.5 59.1h1M477.2 69.2h1M462.4 73.8h1M458.4 52.5h1M457.2 68.4h1M457.9 51.8h1M432.3 60.5h1M478.3 69.6h1M426.2 52.6h1M433.3 96.6h1M426.9 73.3h1M422.7 96.8h1M476.5 73.6h1M432.7 83.9h1M458.4 66.6h1M468.7 53.1h1M474.3 90.3h1M459.8 60.9h1M429.0 83.0h1M470.4 75.9h1M445.6 77.2h1M444.1 57.6h1M472.0 79.2h1M474.8 65.6h1M453.0 78.1h1M428.9 91.5h1M482.3 53.8h1M433.3 64.4h1M441.8 54.8h1M475.2 85.7h1M459.7 57.3h1M437.6 58.5h1M479.4 68.4h1M464.9 78.0h1M457.1 48.8h1M441.9 43.0h1M434.8 88.2h1M434.7 122.5h1M442.5 81.3h1M455.3 66.6h1M475.5 89.3h1M450.8 68.0h1M484.3 73.6h1M488.4 62.8h1M446.9 61.2h1M457.4 58.7h1M458.8 92.7h1M479.8 84.8h1M440.8 54.7h1M453.7 64.4h1M448.1 66.7h1M438.9 65.7h1M484.2 95.7h1M433.9 71.2h1M492.9 40.8h1M491.2 41.0h1M475.9 126.1h1M472.0 59.4h1M479.4 51.6h1M427.4 84.5h1M451.7 88.7h1M471.4 65.3h1M426.1 61.3h1M454.9 93.3h1M429.8 60.5h1M432.9 84.0h1M452.2 66.7h1M476.1 66.0h1M431.1 84.5h1M445.7 64.8h1M456.3 55.4h1M447.2 66.4h1M479.1 48.5h1M434.9 87.3h1M490.8 61.9h1M452.6 65.8h1M479.0 53.0h1M487.7 68.2h1M456.6 61.7h1M467.6 62.2h1M493.8 84.7h1M443.3 69.4h1M424.0 99.6h1M484.9 72.2h1M489.5 81.0h1M471.2 64.8h1M478.8 68.2h1M459.0 74.5h1M482.4 39.7h1M475.1 53.3h1M458.7 71.9h1M477.6 51.1h1M499.9 42.3h1M460.5 88.8h1M471.1 55.5h1M436.8 73.1h1M436.1 60.2h1M476.3 50.8h1M464.5 59.9h1M459.0 56.1h1M455.7 61.5h1M439.2 65.2h1M490.3 75.6h1M487.2 63.0h1M483.3 62.6h1M450.5 75.5h1M455.4 71.6h1M479.2 66.9h1M461.5 61.5h1M433.3 101.5h1M459.5 76.8h1M450.1 74.1h1M450.3 75.2h1M471.5 116.7h1M484.9 49.9h1M465.9 72.2h1M433.1 78.5h1M447.5 60.4h1M487.7 50.2h1M468.4 63.4h1M450.3 72.7h1M481.8 65.3h1M452.9 65.8h1M457.6 63.7h1M429.8 91.1h1M420.6 85.2h1M449.3 66.0h1M463.6 69.3h1M434.3 91.9h1M455.1 68.7h1M442.0 61.4h1M465.8 63.6h1M455.5 58.1h1M472.2 86.2h1M464.0 84.1h1M477.1 74.8h1M482.1 72.1h1M426.5 62.1h1M488.1 85.6h1M464.0 89.5h1M485.0 53.9h1M451.2 62.4h1M438.4 79.6h1M451.3 64.1h1M445.6 69.1h1M461.7 66.7h1M456.9 67.4h1M490.0 45.0h1M449.1 59.1h1M437.4 87.1h1M435.4 81.7h1M449.3 60.4h1M439.4 65.8h1M470.7 75.2h1M458.5 83.6h1M470.5 71.2h1M466.5 75.0h1M461.6 71.0h1M451.7 69.8h1M424.3 114.3h1M469.3 69.0h1M427.4 85.4h1M465.4 71.9h1M424.5 69.7h1M458.9 59.2h1M454.2 89.4h1M444.0 104.6h1M466.4 73.7h1M454.1 62.5h1M439.8 78.1h1M477.8 79.1h1M435.3 95.7h1M477.9 91.5h1M448.0 60.6h1M473.6 84.8h1M464.8 55.1h1M481.4 95.9h1M473.4 76.3h1M492.2 59.1h1M444.1 60.6h1M456.3 45.9h1M467.0 52.8h1M472.3 74.6h1M441.8 67.3h1M472.6 67.2h1" stroke="#5a68ff" stroke-width="0.9"/><path d="M431.6 73.9h1M430.2 88.5h1M486.8 67.9h1M499.1 70.3h1M475.8 49.8h1M452.7 57.4h1M439.9 51.8h1M432.4 111.2h1M481.2 65.4h1M474.8 74.5h1M461.9 62.2h1M465.3 69.1h1M458.8 72.7h1M465.6 105.4h1M462.1 85.6h1M473.6 101.8h1M444.3 78.1h1M483.6 40.6h1M466.9 61.7h1M427.8 101.2h1M451.3 64.8h1M474.1 87.9h1M450.2 64.6h1M466.6 66.2h1M449.1 58.7h1M445.7 63.8h1M451.1 81.9h1M433.1 61.1h1M454.0 69.5h1M472.2 90.2h1M460.7 66.7h1M490.2 48.2h1M451.8 69.9h1M452.8 54.3h1M439.7 64.3h1M462.4 52.1h1M492.5 79.5h1M475.3 87.1h1M468.6 72.1h1M430.3 63.8h1M447.6 84.5h1M444.3 63.0h1M475.6 71.7h1M425.5 55.9h1M467.6 80.6h1M449.0 89.0h1M430.4 87.8h1M450.0 66.4h1M474.0 62.0h1M444.8 66.2h1M468.0 85.6h1M458.9 66.0h1M465.5 74.8h1M477.2 76.1h1M467.8 76.2h1M427.9 77.2h1M458.5 77.1h1M468.2 64.5h1M449.4 64.3h1M476.6 87.7h1M454.7 84.5h1M441.7 102.7h1M444.4 57.8h1M481.3 46.9h1M453.3 67.2h1M455.1 63.8h1M459.4 63.6h1M425.5 99.1h1M441.3 96.4h1M480.6 100.5h1M484.1 79.5h1M490.6 59.2h1M473.3 74.8h1M438.1 85.7h1M483.5 67.1h1M455.9 82.3h1M476.1 98.6h1M434.1 81.1h1M430.8 54.2h1M474.3 53.6h1M446.5 83.7h1M468.8 50.4h1M439.8 81.3h1M458.4 77.3h1M446.8 64.2h1M460.3 75.6h1M472.9 78.0h1M441.3 59.2h1M488.3 51.4h1M431.9 82.5h1M456.1 73.9h1M473.2 47.4h1M479.2 66.8h1M476.6 91.9h1M419.9 81.8h1M456.2 87.2h1M437.9 88.3h1M496.0 56.9h1M455.0 87.6h1M449.8 53.6h1M447.8 60.0h1M467.1 54.0h1M484.2 42.2h1M475.7 60.6h1M447.2 98.5h1M471.8 98.1h1M490.9 49.3h1M426.3 68.3h1M469.5 60.3h1M455.2 100.1h1M454.3 71.7h1M455.5 80.9h1M440.7 54.1h1M463.1 72.4h1M466.9 59.8h1M499.1 67.2h1M453.1 46.8h1M478.3 58.1h1M479.7 77.4h1M428.4 58.6h1M456.0 56.3h1M485.0 47.3h1M438.2 67.3h1M445.0 63.5h1M434.3 74.8h1M426.6 93.8h1M466.4 99.9h1M467.9 47.8h1M463.1 71.7h1M436.6 62.2h1M482.3 74.8h1M494.7 78.3h1M461.1 92.1h1M473.4 75.0h1M458.8 72.2h1M466.4 63.7h1M464.4 45.6h1M458.1 53.9h1M460.6 59.2h1M465.1 88.7h1M432.4 58.3h1M458.9 87.8h1M441.2 76.5h1M478.3 49.0h1M460.1 54.0h1M451.5 72.1h1M456.4 70.0h1M473.2 52.6h1M447.8 99.9h1M480.1 41.7h1M442.5 74.7h1M456.8 71.3h1M465.8 56.4h1M440.5 69.1h1M444.6 58.6h1M462.8 78.8h1M483.1 60.2h1M425.3 112.4h1M453.1 64.3h1M455.1 71.4h1M480.7 76.9h1M469.0 62.1h1M433.0 81.0h1M484.1 81.8h1M465.1 118.8h1M490.6 50.8h1M427.6 86.9h1M494.2 66.2h1M453.2 87.5h1M450.7 61.0h1M472.9 51.6h1M455.0 59.1h1M438.1 71.2h1M490.3 69.6h1M424.3 70.3h1M442.5 64.3h1M431.0 102.5h1M474.5 46.5h1M432.1 85.4h1M449.3 69.1h1M459.4 78.7h1M453.3 60.8h1M443.7 68.2h1M458.8 69.9h1M476.7 80.9h1M461.7 68.2h1M444.7 64.3h1M439.0 86.5h1M443.1 120.4h1M460.4 50.3h1M456.4 72.7h1M477.1 97.9h1M475.3 69.1h1M422.5 78.6h1M428.4 71.6h1M439.6 62.7h1M431.6 95.9h1M430.1 101.5h1M433.7 79.7h1M446.0 63.2h1M469.2 74.5h1M489.7 89.5h1M477.4 65.7h1M462.6 59.7h1M457.8 53.3h1M436.0 98.2h1M470.8 67.2h1M485.6 65.5h1M467.4 51.6h1M423.2 82.3h1M493.6 48.3h1M425.2 89.8h1M453.9 53.9h1M445.7 109.0h1M467.2 71.9h1M429.2 112.6h1M478.1 77.5h1M475.4 82.2h1M473.4 55.8h1M482.6 70.6h1M489.1 57.9h1M460.4 58.5h1M493.8 51.3h1M469.0 73.4h1M447.0 55.9h1M479.1 76.5h1M449.9 73.6h1M428.6 59.4h1M442.7 62.8h1M485.0 49.3h1M481.8 67.3h1M462.7 77.2h1M488.1 69.7h1M457.2 92.7h1M471.3 47.0h1M466.4 67.9h1M468.1 49.6h1M464.3 48.1h1M422.5 79.4h1M440.3 64.9h1M492.1 55.2h1M424.6 99.2h1M488.5 68.8h1M445.1 82.9h1M455.5 74.7h1M454.2 57.4h1M442.6 62.3h1M464.2 50.1h1M428.9 76.6h1M466.7 87.9h1M465.2 75.7h1M451.1 63.6h1M464.5 64.0h1M460.3 65.8h1M442.9 65.3h1M479.6 82.4h1M429.4 93.8h1M466.6 83.0h1M458.1 88.6h1M437.5 65.4h1M437.2 99.2h1M451.8 101.7h1M433.5 78.6h1M453.3 59.5h1M427.3 102.4h1M427.2 61.9h1M449.3 62.6h1M431.0 80.2h1M453.2 63.1h1M474.5 46.9h1M456.6 62.4h1M496.7 46.2h1M441.9 68.4h1M452.9 78.2h1M454.1 105.2h1M442.4 58.0h1M481.1 73.0h1M427.6 75.1h1M441.6 89.6h1M448.1 63.1h1M458.5 68.9h1M459.2 64.5h1M479.2 57.2h1M450.5 54.5h1M446.7 80.1h1M468.5 52.3h1M434.4 82.6h1M459.1 80.4h1M487.6 63.3h1M434.6 78.3h1M479.0 50.7h1M442.7 64.3h1M452.9 79.6h1M457.0 64.5h1M434.6 83.1h1M463.7 55.3h1M440.5 113.9h1M465.3 65.2h1M455.9 63.5h1M423.9 73.6h1M464.1 65.7h1M475.8 49.0h1M454.4 66.2h1M470.8 53.4h1M471.8 93.3h1M450.5 64.7h1M476.3 80.3h1M445.5 62.9h1M432.3 85.7h1M490.3 64.4h1M453.6 54.4h1M469.1 70.0h1M484.5 66.6h1M460.4 79.1h1M461.9 64.8h1M478.0 65.4h1M453.1 57.1h1M431.1 61.3h1M430.3 59.7h1M466.3 75.1h1M491.6 61.4h1M470.4 52.2h1M457.0 56.2h1M464.3 72.2h1M449.8 80.2h1M469.5 77.4h1M446.5 65.3h1M454.8 71.4h1M471.0 74.6h1M463.6 47.4h1M468.0 82.3h1M445.1 68.2h1M449.3 67.0h1M430.3 85.8h1M474.4 54.4h1M428.0 67.4h1M461.5 78.1h1M437.8 85.4h1M427.3 71.2h1M456.4 72.3h1M458.2 70.1h1M455.0 68.5h1M463.0 73.9h1M434.6 103.9h1M446.3 91.7h1M465.0 49.0h1M456.3 66.4h1M431.1 62.7h1M441.9 57.7h1M432.8 93.3h1M496.1 81.7h1M439.5 70.8h1M433.2 75.2h1M477.7 88.0h1M429.8 67.2h1M488.0 63.9h1M443.3 62.6h1M472.7 74.0h1M467.2 55.7h1M464.1 94.5h1M461.6 58.9h1M454.9 64.7h1M457.6 62.9h1M464.6 60.1h1M492.2 44.6h1M436.8 94.1h1M425.6 84.7h1M471.2 73.7h1M447.6 67.8h1M476.3 80.1h1M426.4 62.1h1M447.0 56.8h1M451.7 63.6h1M434.6 64.1h1M463.4 57.7h1M459.7 73.7h1M433.9 66.2h1M442.4 61.4h1M463.0 76.2h1M457.7 65.2h1M436.1 80.4h1M433.8 59.3h1M430.1 96.9h1M495.3 71.5h1M490.5 64.4h1M476.2 67.6h1M429.0 51.4h1M478.6 71.6h1M475.8 42.5h1M485.7 38.2h1M451.4 84.5h1M454.4 63.1h1M445.2 64.9h1M466.9 100.0h1M431.1 86.8h1M481.1 92.8h1" stroke="#8890ff" stroke-width="0.9"/><path d="M466.5 72.6h1M463.1 86.8h1M423.6 80.6h1M427.0 101.5h1M432.9 67.0h1M460.0 75.1h1M468.3 69.3h1M434.7 89.7h1M484.0 49.1h1M474.0 63.3h1M455.9 64.1h1M441.4 67.5h1M438.9 107.1h1M443.8 69.1h1M495.1 47.3h1M440.8 77.7h1M425.1 112.5h1M437.8 63.4h1M478.2 104.8h1M474.4 67.2h1M443.7 70.5h1M484.7 45.9h1M447.7 51.3h1M441.2 67.0h1M430.6 107.0h1M445.4 59.9h1M432.1 69.8h1M480.7 45.9h1M460.5 49.3h1M436.5 71.5h1M466.8 58.6h1M434.8 88.5h1M484.7 67.8h1M467.6 82.4h1M447.5 69.9h1M446.5 102.1h1M477.6 66.2h1M489.8 79.1h1M480.8 52.9h1M454.1 68.1h1M447.0 65.9h1M441.7 100.1h1M449.3 65.5h1M433.5 64.6h1M422.7 92.4h1M431.6 89.9h1M457.0 56.4h1M465.5 61.1h1M466.1 69.9h1M467.3 76.7h1M440.2 90.3h1M445.7 56.6h1M459.6 72.2h1M440.4 74.6h1M462.3 93.4h1M470.4 67.9h1M435.0 61.7h1M442.1 65.9h1M441.0 97.1h1M472.4 74.2h1M429.6 91.2h1M453.3 52.5h1M464.5 68.3h1M447.6 70.0h1M441.6 92.2h1M442.0 58.9h1M455.8 66.5h1M427.7 85.1h1M479.0 74.2h1M463.7 76.8h1M454.4 86.3h1M423.3 102.8h1M434.9 105.9h1M484.0 80.6h1M432.4 95.1h1M441.7 57.8h1M447.4 59.7h1M477.8 46.7h1M481.0 63.7h1M466.9 71.5h1M441.9 69.1h1M446.8 60.3h1M454.5 63.1h1M435.5 115.7h1M488.6 81.1h1M480.9 48.0h1M455.0 75.8h1M438.2 61.8h1M465.9 91.2h1M459.6 66.5h1M442.7 56.4h1M427.6 82.0h1M475.2 75.4h1M435.3 74.8h1M429.6 93.0h1M434.4 68.3h1M462.8 66.1h1M443.2 60.2h1M468.2 96.4h1M430.8 104.0h1M456.7 81.9h1M437.4 64.9h1M486.2 42.7h1M431.8 64.4h1M431.0 77.5h1M473.2 104.9h1M486.4 81.1h1M462.0 71.1h1M493.4 49.9h1M458.0 61.1h1M490.7 71.8h1M436.7 97.9h1M465.2 72.5h1M429.1 87.5h1M433.9 59.3h1M468.1 79.3h1M466.7 76.3h1M483.0 51.1h1M482.2 87.1h1M457.7 62.8h1M462.8 64.3h1M463.7 62.4h1M442.3 70.2h1M459.4 70.7h1M471.9 89.8h1M472.2 71.2h1M442.0 65.5h1M488.4 46.6h1M436.8 72.4h1M446.1 64.3h1M471.5 50.4h1M439.1 59.7h1M431.5 88.1h1M445.0 58.9h1M436.8 69.6h1M440.9 64.0h1M455.1 70.1h1M472.8 102.6h1M465.1 70.6h1M478.1 68.1h1M483.6 50.8h1M441.8 66.9h1M435.2 98.7h1M476.4 98.7h1M458.1 92.1h1M457.2 65.6h1M428.5 106.7h1M426.8 100.1h1M473.3 74.5h1M433.9 56.6h1M473.8 54.9h1M431.3 101.9h1M421.6 91.2h1M474.1 63.8h1M465.4 97.9h1M440.3 57.8h1M448.0 70.5h1M463.2 67.9h1M469.3 76.2h1M456.5 57.8h1M474.2 93.2h1M476.2 54.0h1M449.2 68.9h1M450.8 58.9h1M461.1 74.4h1M441.3 55.6h1M450.2 66.9h1M489.2 82.3h1M487.2 45.6h1M482.4 67.2h1M436.1 52.0h1M480.2 87.9h1M430.9 104.2h1M448.0 66.6h1M462.6 69.0h1M445.1 54.1h1M453.8 56.8h1M461.8 47.4h1M476.8 45.5h1M441.6 59.6h1M435.3 95.7h1M444.5 62.3h1M452.6 77.4h1M484.7 48.3h1M435.9 112.0h1M455.8 108.2h1M454.1 78.5h1M431.4 92.5h1M451.9 70.7h1M489.3 64.8h1M442.9 57.0h1M457.0 53.0h1M435.5 88.9h1M460.3 69.2h1M481.2 69.7h1M435.1 64.8h1M475.1 54.4h1M476.6 78.9h1M438.6 85.4h1M470.4 66.8h1M468.6 82.3h1M471.9 94.0h1M452.2 70.9h1M458.5 61.1h1M452.6 67.5h1M427.5 72.9h1M492.5 49.8h1M440.3 74.9h1M455.0 75.5h1M462.0 97.4h1M462.3 56.1h1M460.9 76.9h1M447.8 68.3h1M462.6 69.0h1M465.1 68.0h1M432.1 77.2h1M443.7 55.3h1M425.6 77.2h1M476.0 59.9h1M441.9 62.0h1M481.2 47.1h1M457.0 69.9h1M446.1 59.8h1M426.7 99.8h1M448.7 69.5h1M446.9 50.4h1M466.6 66.8h1M430.9 96.8h1M455.8 60.5h1M462.8 87.2h1M448.3 64.1h1M445.8 102.5h1M460.3 71.8h1M470.8 94.5h1M439.5 69.5h1M440.8 56.5h1M455.2 89.8h1M497.6 75.6h1M435.7 76.1h1M506.6 39.5h1M466.2 86.2h1M428.7 65.2h1M447.1 58.4h1M471.3 65.4h1M483.8 71.2h1M474.4 45.8h1M480.3 67.4h1M459.6 58.5h1M476.6 59.8h1M445.0 53.5h1M482.4 75.7h1M467.7 70.7h1M491.3 75.6h1M432.0 93.9h1M473.7 59.0h1M461.3 66.7h1M455.3 50.6h1M429.1 95.2h1M467.7 76.8h1M466.6 52.5h1M444.4 66.8h1M468.7 66.3h1M434.3 67.1h1M476.9 50.6h1M492.2 63.4h1M470.7 69.4h1M435.6 82.9h1M448.1 68.4h1M462.5 75.0h1M433.4 69.2h1M429.4 106.1h1M436.4 90.8h1M453.6 63.5h1M422.9 84.6h1M423.3 65.8h1M455.6 74.0h1M464.4 61.3h1M440.9 53.9h1M446.3 50.7h1M441.4 86.6h1M483.4 70.3h1M424.0 94.0h1M427.7 76.5h1M477.5 45.9h1M472.1 52.4h1M466.2 53.9h1M479.8 105.8h1M475.8 45.5h1M436.5 48.6h1M445.8 66.7h1M464.1 73.2h1M467.0 71.9h1M482.4 48.7h1M461.1 48.7h1M482.0 56.8h1M482.9 70.1h1M434.3 60.6h1M474.1 52.6h1M484.7 43.3h1M493.8 87.0h1M436.1 81.7h1M457.5 105.7h1M451.9 89.4h1M435.1 54.9h1M470.8 79.1h1M461.8 61.4h1M452.9 50.1h1M480.1 45.8h1M455.7 66.9h1M442.6 61.3h1M437.3 102.1h1M497.3 37.0h1M483.7 50.0h1M448.8 64.1h1M430.1 105.0h1M420.3 78.0h1M439.3 93.9h1M465.4 82.0h1M473.7 48.1h1M469.1 50.9h1M433.3 70.2h1M458.6 73.8h1M467.6 57.4h1M439.2 108.8h1M441.4 62.5h1M447.1 57.1h1M450.1 61.6h1M457.7 65.5h1M449.3 67.9h1M481.1 71.1h1M460.6 73.2h1M483.0 54.2h1M464.8 46.9h1M434.5 63.5h1M494.7 66.2h1M450.1 76.6h1M430.5 115.3h1M437.5 83.7h1M427.2 62.4h1M481.2 80.5h1M481.5 56.5h1M433.7 63.2h1M427.8 82.8h1M429.4 85.5h1M428.0 62.2h1M489.2 65.2h1M478.5 85.8h1M429.3 94.5h1M421.3 79.3h1M469.8 75.7h1M475.8 80.7h1M431.9 84.3h1M463.4 77.6h1M441.4 62.8h1M461.4 53.1h1M460.4 65.4h1M459.8 105.1h1M486.7 41.3h1M427.8 116.8h1M448.4 69.3h1M444.0 73.3h1M432.4 94.3h1M471.8 55.9h1M473.8 83.9h1M427.1 100.7h1M465.0 84.5h1M464.8 62.6h1M474.8 41.2h1M459.8 62.5h1M474.2 83.4h1M453.9 76.5h1M428.9 83.2h1M482.0 49.8h1M431.0 59.3h1M444.9 55.3h1M459.9 72.4h1M442.5 64.6h1M447.4 60.5h1M439.6 61.9h1M467.0 52.4h1" stroke="#aaa8f8" stroke-width="0.9"/><path d="M423.3 59.7h1M455.2 87.7h1M476.7 89.3h1M462.4 61.9h1M448.7 66.5h1M440.3 72.8h1M450.1 65.0h1M458.7 63.4h1M456.8 76.7h1M443.1 55.7h1M427.9 113.3h1M454.1 59.2h1M469.6 73.9h1M478.6 55.0h1M458.8 63.2h1M435.3 47.5h1M435.7 58.8h1M451.5 66.5h1M453.6 59.0h1M446.7 66.1h1M450.5 63.7h1M429.2 65.7h1M452.1 58.8h1M440.6 89.3h1M470.3 89.1h1M493.9 78.5h1M500.2 65.9h1M468.0 80.6h1M470.7 84.4h1M460.0 69.2h1M446.4 66.8h1M458.0 64.5h1M458.9 93.2h1M428.7 103.0h1M469.8 69.6h1M462.4 72.8h1M428.9 101.2h1M478.2 52.9h1M442.8 54.1h1M482.6 75.9h1M430.8 80.2h1M441.8 63.1h1M468.9 45.3h1M482.4 101.4h1M490.7 62.9h1M467.9 72.0h1M434.6 68.0h1M436.4 109.0h1M437.5 53.6h1M484.6 62.7h1M433.4 77.5h1M459.6 66.9h1M463.3 102.5h1M433.8 115.9h1M431.8 87.9h1M483.0 45.2h1M449.0 86.8h1M437.4 104.4h1M473.9 111.7h1M445.4 76.2h1M480.2 58.9h1M468.9 85.2h1M488.9 83.1h1M447.1 67.0h1M467.9 65.1h1M450.1 67.2h1M465.2 101.9h1M487.3 91.9h1M485.3 66.0h1M455.3 53.8h1M434.0 55.6h1M459.6 91.7h1M437.8 84.1h1M444.3 51.5h1M463.2 70.9h1M487.1 83.9h1M459.6 65.6h1M436.4 60.6h1M432.9 80.1h1M465.0 79.0h1M447.5 69.6h1M431.7 100.3h1M453.0 58.4h1M430.4 72.7h1M469.5 88.2h1M473.7 98.4h1M444.5 66.2h1M423.3 52.0h1M490.8 63.9h1M441.9 66.3h1M487.4 41.7h1M428.1 102.5h1M428.5 68.5h1M473.3 50.6h1M463.3 55.4h1M477.0 44.5h1M462.1 70.0h1M429.6 53.0h1M425.8 104.2h1M465.9 58.7h1M457.3 64.2h1M424.0 113.2h1M466.7 75.7h1M455.9 61.7h1M436.1 55.0h1M451.9 64.6h1M471.2 56.0h1M469.0 73.2h1M463.4 60.8h1M427.6 77.2h1M440.0 48.6h1M430.2 71.2h1M476.7 100.1h1M485.8 80.6h1M454.1 73.2h1M436.6 71.1h1M458.6 67.8h1M450.0 59.5h1M459.1 62.3h1M479.7 46.6h1M430.3 60.0h1M456.0 73.8h1M439.4 83.6h1M492.2 77.2h1M468.9 103.8h1M435.3 59.1h1M471.1 87.8h1M438.3 64.0h1M486.9 76.5h1M465.7 57.4h1M461.3 66.8h1M449.8 52.6h1M430.2 71.9h1M466.8 75.7h1M442.9 67.0h1M487.1 81.6h1M442.5 67.6h1M460.9 77.8h1M471.1 64.1h1M484.3 78.5h1M463.1 83.8h1M480.8 107.3h1M481.3 68.7h1M460.8 47.6h1M435.9 99.6h1M477.1 56.7h1M473.1 51.7h1M482.5 59.3h1M474.0 66.4h1M463.8 74.8h1M466.9 58.7h1M490.6 72.0h1M425.3 88.8h1M429.0 69.3h1M445.7 55.8h1M434.8 97.8h1M463.0 69.6h1M468.1 51.7h1M491.7 69.3h1M477.6 48.1h1M439.1 68.6h1M461.3 77.2h1M485.4 81.5h1M470.8 86.9h1M442.5 66.8h1M453.3 74.7h1M427.6 81.8h1M459.4 60.6h1M450.0 68.0h1M477.0 75.1h1M480.7 76.2h1M484.6 53.9h1M483.7 47.2h1M468.3 76.1h1M473.3 69.8h1M453.2 94.8h1M455.6 69.0h1M471.6 76.6h1M435.4 81.3h1M440.5 77.2h1M442.5 64.0h1M440.0 93.1h1M492.6 50.6h1M431.4 87.1h1M430.9 87.0h1M468.6 67.0h1M446.3 57.5h1M450.1 58.7h1M426.0 99.9h1M461.2 73.2h1M475.7 51.4h1M442.1 74.5h1M487.8 54.2h1M452.9 55.0h1M463.6 50.3h1M476.6 54.1h1M476.5 81.3h1M466.6 59.2h1M425.5 84.4h1M443.8 61.3h1M441.7 56.5h1M467.1 65.9h1M474.7 82.5h1M500.2 109.2h1M434.8 89.6h1M440.3 56.4h1M454.2 59.5h1M478.1 50.4h1M450.1 66.0h1M479.0 89.1h1M461.1 82.1h1M433.3 88.9h1M472.7 52.4h1M477.8 37.5h1M463.3 54.4h1M440.5 55.9h1M472.0 47.5h1M464.0 54.6h1M449.9 62.6h1M458.4 62.0h1M420.8 97.3h1M481.5 81.9h1M459.3 72.2h1M432.3 67.0h1M459.3 39.7h1M468.6 70.2h1M477.9 52.1h1M471.6 53.1h1M433.5 60.8h1M471.4 98.8h1M427.9 52.0h1M450.2 53.8h1M444.7 95.7h1M453.8 63.8h1M481.2 59.6h1M469.1 57.3h1M449.2 60.7h1M441.2 98.9h1M424.9 90.4h1M463.8 63.4h1M496.0 51.4h1M452.0 75.1h1M425.0 91.5h1M449.5 77.6h1M445.4 94.1h1M472.1 91.4h1M457.3 54.2h1M437.6 57.5h1M479.4 52.4h1M459.6 84.3h1M472.5 43.7h1M471.1 62.1h1M459.7 73.4h1M453.5 66.4h1M493.4 79.3h1M449.6 65.6h1M474.8 74.5h1M456.0 72.3h1M432.8 104.6h1M425.8 69.1h1M452.2 67.3h1M487.3 82.8h1M468.9 55.8h1M452.4 81.2h1M455.3 57.0h1M457.2 66.7h1M470.0 87.9h1M506.0 67.8h1M434.1 87.3h1M451.5 69.7h1M467.3 58.7h1M432.1 80.5h1M470.3 83.9h1M430.3 63.7h1M428.2 53.8h1M422.2 92.2h1M466.3 53.3h1M426.8 112.5h1M438.6 79.4h1M435.5 74.3h1M477.7 68.9h1M451.4 84.1h1M475.9 66.2h1M466.5 62.4h1M457.0 84.9h1M435.0 60.2h1M466.8 55.8h1M480.7 78.2h1M437.5 92.4h1M425.4 95.4h1M471.7 102.8h1M446.7 71.9h1M474.5 66.3h1M429.9 104.5h1M474.2 53.6h1M445.3 85.4h1M467.9 58.6h1M450.0 82.0h1M469.4 60.1h1M474.7 78.2h1M451.9 87.7h1M459.8 78.5h1M500.7 74.0h1M445.9 67.1h1M472.5 81.4h1M442.1 57.5h1M472.1 70.3h1M462.5 63.4h1M445.9 60.4h1M436.2 89.2h1M476.1 50.8h1M484.8 46.6h1M464.6 55.4h1M431.1 81.2h1M452.2 59.8h1M438.3 60.2h1M459.6 71.2h1M466.8 84.9h1M453.7 63.0h1M458.7 63.7h1M454.5 94.6h1M473.6 52.2h1M435.4 86.5h1M452.3 56.9h1M447.6 86.8h1M485.2 47.4h1M445.6 61.4h1M464.3 69.3h1M432.2 70.1h1M452.4 68.1h1M431.4 63.3h1M490.9 56.2h1M468.2 69.2h1M479.3 87.5h1M474.6 60.3h1M478.9 66.0h1M476.3 54.1h1M447.4 59.8h1M470.2 97.6h1M439.9 65.2h1M474.5 42.8h1M460.1 57.6h1M445.9 89.9h1M465.7 57.1h1M426.0 66.0h1M461.4 53.3h1M453.8 63.4h1M440.9 73.4h1M440.5 57.8h1M453.1 58.4h1M451.8 66.9h1M464.0 66.9h1M455.3 91.4h1M437.3 66.1h1M487.6 45.4h1M441.1 96.6h1M473.3 64.6h1M489.1 73.7h1M450.1 96.5h1M430.4 86.5h1M454.6 87.8h1M451.1 66.2h1M473.3 59.2h1" stroke="#c0b0f0" stroke-width="0.9"/><path d="M459.3 54.6h1M457.6 84.4h1M429.9 79.4h1M426.1 88.5h1M426.0 88.8h1M439.5 58.4h1M426.4 84.7h1M473.0 67.7h1M448.5 65.5h1M464.2 100.1h1M465.1 87.1h1M482.9 82.0h1M472.2 71.6h1M448.1 65.8h1M456.4 85.8h1M421.0 82.1h1M471.4 57.4h1M441.6 66.2h1M429.1 59.5h1M456.5 64.9h1M444.8 69.8h1M479.8 54.9h1M431.4 96.8h1M484.0 50.4h1M441.6 60.6h1M481.2 81.7h1M486.7 67.8h1M434.0 98.8h1M460.1 98.7h1M461.7 59.8h1M439.5 67.7h1M444.2 49.4h1M464.9 115.7h1M442.3 54.7h1M434.5 62.1h1M427.6 86.5h1M460.2 68.1h1M467.4 81.9h1M446.8 75.3h1M465.3 61.0h1M446.4 59.1h1M479.8 67.4h1M434.8 105.7h1M446.1 72.4h1M472.0 65.8h1M444.9 63.9h1M467.8 69.5h1M432.9 55.3h1M480.9 50.5h1M475.8 74.0h1M494.2 76.8h1M461.6 63.2h1M492.0 67.0h1M449.9 59.9h1M457.3 62.6h1M474.9 60.5h1M485.8 97.8h1M436.1 91.9h1M435.8 49.7h1M434.7 79.8h1M461.9 69.7h1M425.6 83.7h1M459.2 66.0h1M433.1 56.3h1M445.9 105.9h1M470.3 77.4h1M449.4 75.2h1M496.1 59.4h1M447.2 69.5h1M423.9 90.4h1M472.1 62.4h1M468.7 63.3h1M433.1 78.9h1M477.7 54.2h1M437.7 61.3h1M437.6 83.5h1M477.5 73.1h1M460.4 69.0h1M477.1 43.9h1M445.6 72.4h1M474.7 67.6h1M475.8 71.5h1M428.4 64.5h1M460.3 56.9h1M469.3 66.2h1M457.8 65.8h1M439.7 95.5h1M436.9 73.2h1M459.8 74.4h1M444.2 71.3h1M470.8 55.5h1M475.8 66.5h1M428.3 84.9h1M489.3 63.7h1M490.6 51.5h1M478.9 68.3h1M492.0 62.3h1M432.1 55.6h1M434.1 46.8h1M473.8 58.8h1M466.5 55.4h1M430.2 115.1h1M447.1 113.6h1M468.4 90.1h1M460.8 45.9h1M457.1 68.4h1M479.3 45.7h1M459.7 55.7h1M470.5 98.3h1M486.7 69.9h1M468.7 59.2h1M462.3 81.0h1M495.7 50.3h1M472.0 57.3h1M437.1 65.7h1M463.0 54.6h1M446.9 75.0h1M440.2 59.9h1M441.5 61.1h1M464.7 55.5h1M485.4 51.9h1M464.9 56.2h1M434.8 82.5h1M434.8 67.8h1M429.3 69.0h1M430.8 77.1h1M475.3 65.5h1M468.1 61.7h1M463.0 62.1h1M429.7 59.2h1M436.4 65.1h1M469.5 51.8h1M432.4 65.6h1M447.4 67.1h1M439.7 61.8h1M437.8 60.9h1M457.8 71.7h1M448.7 65.0h1M486.6 48.6h1M483.8 78.2h1M456.7 63.1h1M448.7 61.5h1M474.3 60.9h1M463.8 63.7h1M472.4 60.6h1M465.3 76.1h1M435.5 118.3h1M445.0 61.0h1M452.2 81.0h1M435.4 101.4h1M430.5 60.6h1M426.3 91.9h1M453.4 64.0h1M470.8 61.8h1M424.8 97.8h1M467.7 65.0h1M449.7 59.9h1M451.3 57.6h1M465.3 68.2h1M451.6 71.3h1M464.2 56.1h1M490.8 80.2h1M458.4 57.7h1M436.6 56.1h1M460.8 64.2h1M423.9 99.3h1M446.6 90.1h1M471.1 49.1h1M436.0 60.1h1M441.9 63.0h1M423.8 94.0h1M434.0 57.4h1M458.1 61.6h1M472.0 44.1h1M476.3 77.7h1M432.5 70.3h1M437.7 66.7h1M450.8 70.2h1M461.5 89.6h1M484.1 65.0h1M454.8 76.5h1M486.6 60.6h1M499.5 43.1h1M461.5 77.1h1M456.4 67.7h1M453.8 76.9h1M481.3 46.1h1M426.4 99.0h1M485.0 48.8h1M434.1 64.2h1M460.5 66.0h1M465.9 77.4h1M426.6 62.7h1M453.0 62.5h1M431.3 109.7h1M471.4 49.6h1M426.4 88.5h1M453.6 83.6h1M449.1 68.0h1M479.1 77.9h1M433.8 113.7h1M432.2 64.8h1M454.9 66.5h1M481.2 61.6h1M473.5 50.4h1M461.5 68.9h1M429.6 105.8h1M441.2 63.0h1M457.9 43.9h1M448.8 84.3h1M491.7 65.4h1M450.0 78.5h1M457.3 74.9h1M423.3 89.0h1M487.3 69.7h1M471.2 105.4h1M491.4 70.6h1M430.4 63.7h1M443.4 70.9h1M428.8 112.0h1M474.5 86.2h1M480.6 50.4h1M441.8 73.3h1M432.7 77.6h1M438.4 60.9h1M461.9 60.2h1M430.0 100.9h1M444.3 48.4h1M463.4 84.9h1M476.7 104.3h1M432.2 81.9h1M426.4 58.7h1M463.6 62.9h1M436.3 76.2h1M474.0 79.8h1M468.7 82.1h1M508.9 83.9h1M465.7 81.4h1M464.6 49.1h1M477.5 67.4h1M463.9 89.9h1M480.5 48.7h1M479.3 74.8h1M457.8 62.6h1M463.9 96.5h1M485.2 64.8h1M431.1 62.7h1M452.8 61.2h1M457.5 77.4h1M475.4 69.6h1M455.8 66.6h1M467.2 71.7h1M433.9 77.9h1M459.0 61.5h1M421.6 84.3h1M450.8 71.4h1M478.6 74.2h1M454.4 70.6h1M492.1 69.7h1M469.0 53.8h1M462.1 77.1h1M472.0 91.4h1M457.1 63.6h1M487.9 104.5h1M475.4 46.7h1M486.3 50.2h1M430.2 64.1h1M483.2 79.7h1M442.0 86.6h1M452.6 81.5h1M459.3 94.1h1M424.4 93.3h1M456.2 61.6h1M459.5 71.6h1M455.7 69.2h1M465.7 73.7h1M432.2 85.3h1M436.3 62.9h1M436.8 57.2h1M431.3 105.3h1M477.3 78.7h1M453.4 76.6h1M434.8 63.0h1M428.7 117.8h1M460.6 101.7h1M428.2 82.8h1M439.4 63.7h1M463.8 90.9h1M458.8 76.8h1M460.4 71.0h1M430.4 61.1h1M457.6 77.9h1M458.5 74.1h1M457.2 60.3h1M436.5 91.5h1M428.4 87.8h1M463.2 59.5h1M425.0 105.0h1M477.3 55.0h1M472.2 66.1h1M454.0 58.5h1M476.3 105.7h1M466.3 74.7h1M447.6 66.7h1M469.1 42.4h1M436.6 66.0h1M467.0 59.0h1M436.2 64.8h1M473.1 97.4h1M432.8 101.6h1M457.0 71.4h1M451.8 69.3h1M462.9 97.9h1M431.3 81.5h1M457.3 65.1h1M431.2 76.8h1M454.1 69.8h1M470.1 64.0h1M438.0 112.3h1M475.9 69.4h1M435.2 86.0h1M490.6 75.0h1M451.4 51.6h1M437.5 85.7h1M452.1 77.3h1M488.8 61.7h1M464.1 59.3h1M480.9 56.0h1M432.9 97.6h1M475.3 90.5h1M465.8 97.0h1M472.2 73.6h1M432.1 72.2h1M427.0 72.4h1M487.6 71.2h1M492.1 46.9h1M497.9 78.1h1M462.5 73.1h1M454.0 72.0h1M460.2 88.3h1M483.5 46.9h1M431.1 64.2h1M447.2 57.7h1M426.2 84.7h1M460.9 48.6h1M461.9 62.4h1M446.6 52.2h1M457.0 59.9h1M425.5 90.8h1M498.0 66.1h1M470.0 78.8h1M427.0 65.8h1M474.0 94.8h1M496.1 65.0h1M425.9 69.9h1M474.6 69.8h1M478.9 81.6h1M439.4 91.9h1M448.4 71.5h1M478.7 68.2h1M428.4 68.2h1M470.5 86.3h1M464.6 72.3h1M447.6 64.2h1M467.4 63.3h1M490.3 57.2h1M459.5 66.9h1M460.9 69.7h1M448.6 70.2h1M443.7 53.5h1M450.5 93.5h1M443.5 63.0h1M436.3 109.8h1M431.9 95.0h1M472.4 51.4h1M431.6 95.3h1M423.3 84.8h1M465.3 51.3h1M459.4 63.3h1M441.7 64.8h1M449.5 61.0h1M458.0 85.0h1M484.9 60.0h1M478.2 87.9h1M451.1 76.5h1M465.5 71.6h1M451.3 57.9h1M438.1 92.0h1M477.1 48.4h1M436.9 102.7h1M460.8 78.6h1M474.4 46.9h1M457.5 90.0h1M457.1 56.3h1M450.7 58.8h1M445.5 68.6h1M438.2 104.3h1M471.3 89.5h1M428.2 111.6h1M435.8 86.6h1M445.7 59.4h1M452.2 105.8h1M448.7 66.9h1M425.0 83.6h1M433.3 99.2h1M456.0 68.9h1M474.2 60.4h1M451.0 46.2h1M482.6 67.3h1M461.0 72.3h1M478.1 44.2h1M429.1 59.1h1M441.5 64.1h1M450.6 61.0h1M432.2 90.9h1M487.8 86.5h1M474.4 94.6h1M445.1 59.3h1M447.3 48.4h1M430.3 52.3h1M428.5 107.0h1M452.1 87.5h1M428.8 92.3h1M456.2 74.2h1M469.1 76.6h1" stroke="#2838e8" stroke-width="0.9"/>
<g clip-path="url(#c5)"><g filter="url(#fb)">
<path d="M498.6,38.3 497.3,37.7 491.3,37.3 471.6,37.7 451.3,40.3 448.6,41.0 446.6,42.3 438.6,42.0 437.0,41.3 431.0,41.3 426.6,43.0 422.3,46.7 420.3,50.0 419.3,53.3 420.6,83.7 421.0,111.7 422.6,116.0 425.0,118.7 428.6,120.7 434.0,121.0 438.6,119.0 441.0,116.7 442.3,114.3 443.0,112.0 443.6,80.0 447.0,66.3 450.6,69.0 456.6,70.7 463.3,70.7 466.6,70.0 470.6,68.3 473.3,66.3 475.0,63.7 475.0,60.3 474.3,59.0 470.6,55.7 473.6,54.3 488.3,50.3 498.6,46.7 500.3,45.0 501.0,43.0 500.6,40.7Z" fill="#7080ff" fill-opacity="0.3" fill-rule="evenodd"/>
<path d="M454.3,62.0 456.0,64.3 457.6,65.0 462.3,65.0 464.0,64.3 465.6,62.3 465.3,61.0 464.0,59.7 462.3,59.0 456.6,59.3 454.6,61.0ZM498.0,39.3 494.6,38.7 486.6,38.3 475.6,38.7 453.3,41.3 449.3,42.3 447.0,43.7 444.3,43.0 439.3,43.0 431.6,45.0 427.0,47.7 424.3,50.3 423.3,52.7 425.6,82.7 425.6,110.3 426.0,112.0 427.6,114.7 431.3,116.3 435.0,115.7 437.0,114.0 438.3,111.0 438.6,79.7 444.3,58.0 444.3,55.7 447.0,55.3 450.3,57.0 462.3,56.7 477.3,52.0 488.0,49.3 498.0,45.7 499.6,43.3 499.3,40.7Z" fill="#2436f2" fill-opacity="0.78" fill-rule="evenodd"/>
<path d="M498.0,41.7 496.6,40.3 491.6,39.7 472.0,40.0 453.6,42.7 450.0,43.7 447.3,45.7 443.0,44.0 437.3,44.3 432.6,45.7 428.0,48.3 425.6,51.0 425.3,54.0 426.6,55.7 430.3,57.3 432.3,63.3 434.0,63.7 435.6,62.0 438.3,56.3 442.6,55.0 444.0,54.0 448.0,54.0 451.0,55.7 463.0,55.3 475.3,51.3 491.3,47.0 497.3,44.3 498.0,43.3Z" fill="#1e50ff" fill-rule="evenodd"/>
<path d="M495.6,42.7 495.0,41.7 493.3,41.0 483.6,40.3 471.3,41.0 460.0,42.3 450.3,44.7 447.6,46.7 446.6,46.7 443.6,45.0 437.3,45.0 433.6,46.0 429.3,48.3 427.3,50.3 426.6,51.7 426.6,53.7 427.6,55.0 431.0,56.3 436.0,56.3 439.0,55.7 445.3,52.7 448.0,52.7 450.3,54.3 462.0,54.7 475.6,50.3 487.0,47.7 493.3,45.0Z" fill="#10a8ff" fill-rule="evenodd"/>
<path d="M493.0,43.0 491.0,41.7 486.3,41.0 472.0,41.7 458.6,43.3 450.6,45.7 448.3,48.0 446.3,48.0 445.3,46.7 443.3,45.7 437.0,45.7 433.6,46.7 429.6,49.0 428.0,51.0 427.6,53.0 429.3,55.0 431.3,55.7 438.0,55.3 442.3,53.7 445.0,51.7 448.3,51.3 450.6,53.3 456.0,54.0 462.0,54.0 473.0,50.3 487.3,46.7 491.6,44.7Z" fill="#20e8b0" fill-rule="evenodd"/>
<path d="M445.3,48.3 444.3,47.0 441.6,46.0 436.3,46.3 431.0,48.7 429.3,50.3 428.6,52.7 430.0,54.3 431.3,55.0 434.6,55.3 438.3,54.7 443.3,52.3 444.6,51.0ZM490.3,43.3 489.0,42.3 487.3,42.0 479.3,42.0 460.0,43.7 450.3,47.0 449.0,49.0 449.0,50.0 449.6,51.3 451.0,52.3 457.0,53.3 462.0,53.3 475.0,49.0 487.0,46.0 489.3,44.7Z" fill="#48f040" fill-rule="evenodd"/>
<path d="M443.6,48.3 441.6,47.0 435.6,47.3 431.3,49.7 430.3,51.0 430.3,52.7 433.0,54.3 438.0,54.0 441.6,52.3 443.6,50.3ZM485.0,44.0 470.6,43.7 460.0,44.7 454.6,46.7 452.6,48.3 452.3,49.7 453.0,50.7 455.3,51.7 462.0,52.3 475.0,47.7 483.3,45.3Z" fill="#b0f020" fill-rule="evenodd"/>
<path d="M442.6,49.3 441.6,48.0 440.6,47.7 435.6,48.0 432.0,50.3 431.6,52.3 432.6,53.3 434.0,53.7 438.0,53.3 441.3,51.7ZM474.6,45.7 472.0,45.0 461.0,45.3 457.3,46.7 455.3,48.3 455.0,49.3 456.6,50.7 461.3,51.7 469.6,48.7Z" fill="#f8e000" fill-rule="evenodd"/>
<path d="M441.3,49.0 440.3,48.3 435.6,48.7 433.0,50.3 432.6,52.0 434.3,53.0 439.0,52.3 441.3,50.3ZM457.3,49.0 459.0,50.3 462.0,50.7 468.0,48.0 469.0,46.7 466.6,46.0 460.0,46.3 458.3,47.3Z" fill="#ff9000" fill-rule="evenodd"/>
<path d="M433.6,51.3 434.6,52.3 437.0,52.3 439.0,51.7 440.3,50.3 440.3,49.7 439.6,49.0 436.3,49.0 435.0,49.7ZM459.3,49.7 461.6,50.0 464.0,48.7 464.6,47.7 463.0,47.0 460.6,47.0 459.6,47.7Z" fill="#f82010" fill-rule="evenodd"/>
</g></g></g>
<path d="M431.9,36 H450.8 M420.8,72.3 H450.8 M450.8,37.6 H504.5 V63.8 H450.8" fill="none" stroke="#333" stroke-width="0.9"/>
<path d="M450.8,36 V72.3" fill="none" stroke="#111" stroke-width="1.3"/>
<path d="M420.7,72.7 H446.6 V112.4 H420.7" fill="none" stroke="#333" stroke-width="0.9"/>
<text x="426.3" y="40.6" font-size="5.6" text-anchor="middle" fill="#222" font-weight="normal" >B</text>
<text x="426.3" y="45.7" font-size="5.6" text-anchor="middle" fill="#222" font-weight="normal" >39.0</text>
<text x="498.5" y="56.3" font-size="5.6" text-anchor="middle" fill="#222" font-weight="normal" >A</text>
<text x="498.8" y="62.4" font-size="5.6" text-anchor="middle" fill="#222" font-weight="normal" >50.5</text>
<text x="444.8" y="104" font-size="5.6" text-anchor="middle" fill="#222" font-weight="normal" >C</text>
<text x="444.8" y="109.4" font-size="5.6" text-anchor="middle" fill="#222" font-weight="normal" >7.34</text>
<rect x="224.7" y="34.5" width="93.30000000000001" height="93.0" fill="none" stroke="#555" stroke-width="1.4"/>
<text x="272.0" y="122" font-size="10" text-anchor="middle" fill="#111" font-weight="normal" stroke="#111" stroke-width="0.25" >FSC</text>
<rect x="321.8" y="34.5" width="93.30000000000001" height="93.0" fill="none" stroke="#555" stroke-width="1.4"/>
<text x="369.1" y="122" font-size="10" text-anchor="middle" fill="#111" font-weight="normal" stroke="#111" stroke-width="0.25" >FSC</text>
<rect x="419.0" y="34.5" width="93.29999999999995" height="93.0" fill="none" stroke="#555" stroke-width="1.4"/>
<text x="466.3" y="122" font-size="10" text-anchor="middle" fill="#111" font-weight="normal" stroke="#111" stroke-width="0.25" >FSC</text>
<text transform="translate(219.6,81.3) rotate(-90) scale(1.0,1)" font-size="10" text-anchor="middle" fill="#111" stroke="#111" stroke-width="0.25">CD71</text>
<text x="213" y="152.3" font-size="13" text-anchor="start" fill="#000" font-weight="bold" >C</text>
<line x1="260.3" y1="152.3" x2="260.3" y2="287.4" stroke="#111" stroke-width="1.2"/>
<line x1="259.7" y1="286.9" x2="457.3" y2="286.9" stroke="#111" stroke-width="1.2"/>
<line x1="256.3" y1="286.9" x2="260.3" y2="286.9" stroke="#111" stroke-width="1"/>
<text x="253" y="290.5" font-size="10" text-anchor="end" fill="#111" font-weight="normal" stroke="#111" stroke-width="0.25" >0</text>
<line x1="256.3" y1="254.49999999999997" x2="260.3" y2="254.49999999999997" stroke="#111" stroke-width="1"/>
<text x="253" y="258.09999999999997" font-size="10" text-anchor="end" fill="#111" font-weight="normal" stroke="#111" stroke-width="0.25" >20</text>
<line x1="256.3" y1="222.09999999999997" x2="260.3" y2="222.09999999999997" stroke="#111" stroke-width="1"/>
<text x="253" y="225.69999999999996" font-size="10" text-anchor="end" fill="#111" font-weight="normal" stroke="#111" stroke-width="0.25" >40</text>
<line x1="256.3" y1="189.7" x2="260.3" y2="189.7" stroke="#111" stroke-width="1"/>
<text x="253" y="193.29999999999998" font-size="10" text-anchor="end" fill="#111" font-weight="normal" stroke="#111" stroke-width="0.25" >60</text>
<line x1="256.3" y1="157.29999999999995" x2="260.3" y2="157.29999999999995" stroke="#111" stroke-width="1"/>
<text x="253" y="160.89999999999995" font-size="10" text-anchor="end" fill="#111" font-weight="normal" stroke="#111" stroke-width="0.25" >80</text>
<text transform="translate(234.6,219.9) rotate(-90) scale(0.85,1)" font-size="9.6" text-anchor="middle" fill="#111" stroke="#111" stroke-width="0.42">Ter119<tspan dy="-3" font-size="6">+</tspan><tspan dy="3"> cells (%)</tspan></text>
<rect x="263.1" y="223.07199999999997" width="14.6" height="63.828" fill="#38b451" />
<rect x="279.4" y="205.89999999999998" width="14.6" height="81.0" fill="#145388" />
<rect x="295.8" y="201.84999999999997" width="14.6" height="85.05000000000001" fill="#c6122f" />
<rect x="334.0" y="237.652" width="14.6" height="49.24799999999999" fill="#38b451" />
<rect x="350.2" y="235.22199999999998" width="14.6" height="51.678" fill="#145388" />
<rect x="367.1" y="227.76999999999998" width="14.6" height="59.129999999999995" fill="#c6122f" />
<rect x="405.3" y="243.48399999999998" width="14.6" height="43.416" fill="#38b451" />
<rect x="421.5" y="263.08599999999996" width="14.6" height="23.81400000000002" fill="#145388" />
<rect x="438.1" y="276.20799999999997" width="14.6" height="10.692000000000007" fill="#c6122f" />
<line x1="270.40000000000003" y1="205.89999999999998" x2="270.40000000000003" y2="235.86999999999998" stroke="#222" stroke-width="0.9"/>
<line x1="267.90000000000003" y1="205.89999999999998" x2="272.90000000000003" y2="205.89999999999998" stroke="#222" stroke-width="0.9"/>
<circle cx="270.20000000000005" cy="205.89999999999998" r="2.5" fill="#fff" stroke="#222" stroke-width="0.9"/>
<circle cx="270.20000000000005" cy="226.95999999999998" r="2.5" fill="#fff" stroke="#222" stroke-width="0.9"/>
<circle cx="270.20000000000005" cy="235.86999999999998" r="2.5" fill="#fff" stroke="#222" stroke-width="0.9"/>
<circle cx="282.0" cy="207.19599999999997" r="2.5" fill="#fff" stroke="#222" stroke-width="0.9"/>
<circle cx="286.79999999999995" cy="202.498" r="2.5" fill="#fff" stroke="#222" stroke-width="0.9"/>
<circle cx="291.59999999999997" cy="205.89999999999998" r="2.5" fill="#fff" stroke="#222" stroke-width="0.9"/>
<line x1="303.1" y1="190.67199999999997" x2="303.1" y2="210.76" stroke="#222" stroke-width="0.9"/>
<line x1="300.6" y1="190.67199999999997" x2="305.6" y2="190.67199999999997" stroke="#222" stroke-width="0.9"/>
<circle cx="298.5" cy="209.46399999999997" r="2.5" fill="#fff" stroke="#222" stroke-width="0.9"/>
<circle cx="308.0" cy="205.414" r="2.5" fill="#fff" stroke="#222" stroke-width="0.9"/>
<circle cx="303.5" cy="190.67199999999997" r="2.5" fill="#fff" stroke="#222" stroke-width="0.9"/>
<line x1="341.3" y1="230.2" x2="341.3" y2="246.39999999999998" stroke="#222" stroke-width="0.9"/>
<line x1="338.8" y1="230.2" x2="343.8" y2="230.2" stroke="#222" stroke-width="0.9"/>
<circle cx="336.3" cy="232.79199999999997" r="2.5" fill="#fff" stroke="#222" stroke-width="0.9"/>
<circle cx="346.5" cy="232.79199999999997" r="2.5" fill="#fff" stroke="#222" stroke-width="0.9"/>
<circle cx="341.2" cy="246.39999999999998" r="2.5" fill="#fff" stroke="#222" stroke-width="0.9"/>
<line x1="357.5" y1="230.36199999999997" x2="357.5" y2="239.10999999999996" stroke="#222" stroke-width="0.9"/>
<line x1="355.0" y1="230.36199999999997" x2="360.0" y2="230.36199999999997" stroke="#222" stroke-width="0.9"/>
<circle cx="353.0" cy="240.56799999999998" r="2.5" fill="#fff" stroke="#222" stroke-width="0.9"/>
<circle cx="357.9" cy="230.36199999999997" r="2.5" fill="#fff" stroke="#222" stroke-width="0.9"/>
<circle cx="362.7" cy="236.19399999999996" r="2.5" fill="#fff" stroke="#222" stroke-width="0.9"/>
<line x1="374.40000000000003" y1="218.53599999999997" x2="374.40000000000003" y2="238.462" stroke="#222" stroke-width="0.9"/>
<line x1="371.90000000000003" y1="218.53599999999997" x2="376.90000000000003" y2="218.53599999999997" stroke="#222" stroke-width="0.9"/>
<circle cx="369.0" cy="220.80399999999997" r="2.5" fill="#fff" stroke="#222" stroke-width="0.9"/>
<circle cx="379.0" cy="224.20599999999996" r="2.5" fill="#fff" stroke="#222" stroke-width="0.9"/>
<circle cx="374.20000000000005" cy="238.462" r="2.5" fill="#fff" stroke="#222" stroke-width="0.9"/>
<line x1="412.6" y1="235.05999999999997" x2="412.6" y2="249.96399999999997" stroke="#222" stroke-width="0.9"/>
<line x1="410.1" y1="235.05999999999997" x2="415.1" y2="235.05999999999997" stroke="#222" stroke-width="0.9"/>
<circle cx="412.6" cy="235.05999999999997" r="2.5" fill="#fff" stroke="#222" stroke-width="0.9"/>
<circle cx="412.6" cy="244.13199999999998" r="2.5" fill="#fff" stroke="#222" stroke-width="0.9"/>
<circle cx="412.6" cy="249.96399999999997" r="2.5" fill="#fff" stroke="#222" stroke-width="0.9"/>
<circle cx="423.8" cy="265.354" r="2.5" fill="#fff" stroke="#222" stroke-width="0.9"/>
<circle cx="428.8" cy="260.008" r="2.5" fill="#fff" stroke="#222" stroke-width="0.9"/>
<circle cx="433.8" cy="262.59999999999997" r="2.5" fill="#fff" stroke="#222" stroke-width="0.9"/>
<circle cx="440.0" cy="275.88399999999996" r="2.5" fill="#fff" stroke="#222" stroke-width="0.9"/>
<circle cx="445.0" cy="273.94" r="2.5" fill="#fff" stroke="#222" stroke-width="0.9"/>
<circle cx="450.0" cy="274.75" r="2.5" fill="#fff" stroke="#222" stroke-width="0.9"/>
<line x1="286.2" y1="286.9" x2="286.2" y2="290.4" stroke="#111" stroke-width="1.1"/>
<line x1="357.9" y1="286.9" x2="357.9" y2="290.4" stroke="#111" stroke-width="1.1"/>
<line x1="428.8" y1="286.9" x2="428.8" y2="290.4" stroke="#111" stroke-width="1.1"/>
<text x="287" y="302.5" font-size="9.5" text-anchor="middle" fill="#111" font-weight="normal" stroke="#111" stroke-width="0.25" >Ery A</text>
<text x="357.5" y="302.5" font-size="9.5" text-anchor="middle" fill="#111" font-weight="normal" stroke="#111" stroke-width="0.25" >Ery B</text>
<text x="429.5" y="302.5" font-size="9.5" text-anchor="middle" fill="#111" font-weight="normal" stroke="#111" stroke-width="0.25" >Ery C</text>
<path d="M268.6,192.9 V189.6 H287.6 V192.9" fill="none" stroke="#333" stroke-width="0.9"/>
<circle cx="277.3" cy="185.0" r="1.2" fill="#222"/>
<path d="M269.0,175.60000000000002 V172.3 H303.5 V175.60000000000002" fill="none" stroke="#333" stroke-width="0.9"/>
<circle cx="286.5" cy="167.5" r="1.2" fill="#222"/>
<path d="M285.5,159.5 V156.2 H303.5 V159.5" fill="none" stroke="#4a7fb8" stroke-width="0.9"/>
<text x="294.2" y="153.8" font-size="9.5" text-anchor="middle" fill="#4a7fb8" font-weight="normal" stroke="#4a7fb8" stroke-width="0.25" >ns</text>
<path d="M412.5,227.3 V224 H430.4 V227.3" fill="none" stroke="#333" stroke-width="0.9"/>
<circle cx="420.8" cy="219.0" r="1.2" fill="#222"/>
<path d="M412.5,211.2 V207.7 H445.2 V211.2" fill="none" stroke="#333" stroke-width="0.9"/>
<circle cx="426.1" cy="202.8" r="1.2" fill="#222"/>
<circle cx="429.6" cy="202.8" r="1.2" fill="#222"/>
<circle cx="433.1" cy="202.8" r="1.2" fill="#222"/>
<path d="M428.5,192.8 V189.8 H446.2 V192.8" fill="none" stroke="#4a7fb8" stroke-width="0.9"/>
<text x="436.5" y="187.3" font-size="9.5" text-anchor="middle" fill="#4a7fb8" font-weight="normal" stroke="#4a7fb8" stroke-width="0.25" >ns</text>
<rect x="296.5" y="314.3" width="6.2" height="6.1" fill="#38b451" />
<text x="307.3" y="320.4" font-size="9.3" text-anchor="start" fill="#111" font-weight="normal" stroke="#111" stroke-width="0.25" >HbAA</text>
<rect x="339.6" y="314.3" width="6.2" height="6.1" fill="#145388" />
<text x="350.40000000000003" y="320.4" font-size="9.3" text-anchor="start" fill="#111" font-weight="normal" stroke="#111" stroke-width="0.25" >HbSC</text>
<rect x="383.5" y="314.3" width="6.2" height="6.1" fill="#c6122f" />
<text x="394.3" y="320.4" font-size="9.3" text-anchor="start" fill="#111" font-weight="normal" stroke="#111" stroke-width="0.25" >HbSS</text>
<text x="9.2" y="340.4" font-size="13.5" text-anchor="start" fill="#000" font-weight="bold" >D</text>
<text x="40.5" y="348.2" font-size="11" fill="#111">HBB</text>
<text transform="translate(63.2,343.4) scale(1.3,1)" font-size="7" fill="#111">A/A</text>
<text x="120" y="348.2" font-size="11" fill="#111">HBB</text>
<text transform="translate(142.7,343.4) scale(1.3,1)" font-size="7" fill="#111">S/C</text>
<text x="199.5" y="348.2" font-size="11" fill="#111">HBB</text>
<text transform="translate(222.2,343.4) scale(1.3,1)" font-size="7" fill="#111">S/S</text>
<g clip-path="url(#c6)">
<path d="M59.0 383.0h1M55.5 398.0h1M52.0 385.4h1M74.7 380.9h1M70.3 390.1h1M56.8 394.2h1M75.8 390.3h1M61.5 380.3h1M70.6 382.9h1M51.9 404.5h1M73.9 387.4h1M67.1 413.2h1M55.6 375.9h1M65.5 399.9h1M54.2 375.5h1M65.2 394.7h1M63.2 411.3h1M77.9 405.1h1M49.8 389.7h1M76.5 403.7h1M53.1 391.2h1M53.3 375.0h1M49.5 374.6h1M50.8 373.1h1M69.4 360.9h1M59.6 405.5h1M85.1 391.3h1M73.2 412.2h1M60.4 381.2h1M57.9 396.5h1M75.6 391.4h1M64.3 378.2h1M63.5 394.8h1M66.3 377.5h1M69.5 399.9h1M58.2 376.7h1M70.6 390.0h1M64.0 405.1h1M68.0 402.1h1M55.5 395.8h1M63.8 382.7h1M69.6 420.8h1M65.7 415.7h1M70.2 398.2h1M56.0 393.3h1M77.9 412.7h1M60.9 377.6h1M74.4 392.5h1M63.5 413.7h1M69.3 374.3h1M67.2 419.1h1M53.0 376.7h1M75.4 389.4h1M56.2 374.4h1M71.0 388.1h1M71.8 413.0h1M72.0 407.0h1M75.7 410.6h1M70.1 385.9h1M58.7 373.2h1M49.7 404.5h1M53.8 405.5h1M64.8 384.7h1M74.2 411.6h1M73.1 396.1h1M60.9 391.6h1M77.0 380.6h1M75.6 400.4h1M63.0 374.5h1M75.8 397.4h1M52.8 373.1h1M60.6 408.3h1M63.3 414.4h1M63.6 395.5h1M72.0 407.4h1M55.3 384.3h1M58.2 376.8h1M58.6 375.9h1M57.2 392.9h1M61.4 402.3h1M59.5 389.6h1M77.7 407.0h1M74.3 412.6h1M75.7 407.1h1M54.0 379.0h1M68.9 391.6h1M67.1 371.7h1M60.7 402.2h1M52.6 373.9h1M63.7 377.4h1M64.3 411.1h1M59.1 378.5h1M78.1 381.8h1M63.3 382.9h1M57.0 377.8h1M58.2 371.9h1M62.5 374.6h1M58.3 387.6h1M76.3 388.1h1M71.7 415.9h1M60.2 376.7h1M53.3 373.6h1M67.2 398.1h1M58.8 400.4h1M55.1 383.1h1M63.4 404.9h1M59.0 402.6h1M76.9 398.5h1M65.7 392.5h1M57.6 405.8h1M63.2 376.2h1M68.6 416.1h1M76.1 399.5h1M58.4 396.6h1M55.7 388.3h1M61.3 374.4h1M75.8 399.9h1M76.5 387.1h1M57.4 400.3h1M54.8 375.1h1M62.2 404.3h1M63.1 384.1h1M54.0 372.8h1M74.2 403.9h1M71.3 408.0h1M70.8 403.3h1M73.7 380.2h1" stroke="#3040ff" stroke-width="0.9"/><path d="M57.9 393.2h1M49.2 373.1h1M73.5 385.9h1M56.9 377.0h1M66.9 378.8h1M50.7 375.1h1M59.2 410.2h1M76.5 383.1h1M58.8 401.2h1M68.9 377.1h1M67.9 392.6h1M57.6 395.0h1M56.9 399.9h1M84.8 392.8h1M70.7 412.7h1M76.2 381.2h1M60.6 375.1h1M77.9 415.3h1M59.1 373.8h1M60.1 397.1h1M54.2 396.9h1M54.9 376.2h1M60.9 383.9h1M77.5 412.4h1M62.4 378.0h1M69.8 378.2h1M72.1 390.7h1M68.6 371.2h1M71.5 414.4h1M59.4 409.9h1M58.9 386.9h1M61.0 375.6h1M61.3 412.5h1M64.8 393.4h1M57.1 369.8h1M65.7 387.5h1M59.2 372.9h1M63.3 372.9h1M65.8 410.8h1M60.0 393.7h1M64.9 386.9h1M76.5 381.7h1M61.5 392.4h1M78.0 385.1h1M78.6 397.2h1M75.6 408.9h1M65.9 382.0h1M80.5 384.3h1M52.0 391.5h1M71.6 377.1h1M71.9 404.4h1M60.8 373.5h1M53.2 397.2h1M71.7 409.8h1M70.9 400.8h1M71.6 406.4h1M64.1 373.7h1M60.6 375.8h1M53.1 413.2h1M47.4 373.9h1M68.9 411.7h1M53.7 409.2h1M56.9 403.7h1M71.9 407.3h1M73.2 392.0h1M71.2 381.9h1M78.4 388.4h1M67.6 375.2h1M71.3 410.8h1M55.9 392.5h1M68.4 391.7h1M63.4 400.7h1M60.5 417.1h1M54.3 375.0h1M57.5 372.0h1M60.7 379.3h1M67.6 382.9h1M76.9 404.6h1M57.9 376.3h1M62.5 371.7h1M56.3 392.9h1M54.8 374.8h1M56.0 401.8h1M64.4 408.7h1M51.4 386.3h1M59.7 390.4h1M58.1 374.1h1M69.4 384.4h1M59.1 394.8h1M67.9 402.4h1M79.1 413.7h1M64.0 416.1h1M54.6 374.8h1M75.4 425.0h1M51.3 377.1h1M65.5 363.4h1M54.8 382.6h1M72.3 399.2h1M59.8 373.5h1M60.0 404.0h1M58.9 372.0h1M74.3 420.0h1M55.6 389.6h1M62.8 389.5h1M63.9 393.6h1M78.8 410.2h1M73.6 405.4h1M75.0 405.0h1M51.9 374.2h1M67.6 397.5h1M53.5 397.5h1M60.3 396.5h1M56.4 386.6h1M70.9 393.2h1M77.7 424.3h1M70.5 410.7h1M64.5 386.1h1M73.1 376.4h1M70.6 393.2h1M64.5 378.5h1M67.0 373.7h1M57.1 381.1h1M52.4 389.9h1M60.6 371.6h1M64.3 405.0h1M54.0 391.8h1M68.7 409.8h1M60.8 379.8h1M59.1 400.1h1M54.4 407.6h1M63.4 415.8h1M63.4 375.2h1M62.6 387.2h1M71.1 406.2h1M71.9 407.2h1M54.4 411.5h1" stroke="#5a68ff" stroke-width="0.9"/><path d="M57.0 380.5h1M78.5 402.0h1M72.6 371.4h1M58.1 397.0h1M61.0 410.0h1M74.5 406.8h1M61.7 377.2h1M56.0 385.9h1M50.5 392.9h1M67.1 414.6h1M61.3 412.9h1M66.5 384.1h1M59.1 386.0h1M72.4 393.6h1M73.4 408.8h1M59.7 412.4h1M58.4 375.9h1M57.9 372.2h1M60.0 377.3h1M54.3 405.0h1M52.3 410.6h1M72.4 405.8h1M61.9 374.2h1M64.2 389.5h1M57.8 393.6h1M60.1 395.7h1M62.4 411.5h1M55.4 402.3h1M65.2 392.6h1M62.6 409.5h1M65.5 414.1h1M67.7 394.5h1M74.2 404.0h1M59.3 376.6h1M58.0 388.5h1M62.3 399.9h1M58.1 372.8h1M64.7 377.4h1M60.0 396.8h1M57.9 392.9h1M74.7 412.1h1M68.5 422.2h1M59.6 378.6h1M68.6 415.7h1M78.7 388.7h1M61.2 374.2h1M72.9 410.9h1M62.8 398.1h1M75.1 385.7h1M54.4 416.9h1M58.7 409.6h1M66.5 396.0h1M51.8 391.6h1M68.0 410.2h1M67.9 387.3h1M75.4 418.2h1M63.2 375.5h1M60.7 403.2h1M62.5 373.9h1M63.5 414.9h1M74.4 419.9h1M61.6 373.3h1M71.3 415.4h1M54.1 394.2h1M56.7 394.4h1M62.0 399.2h1M64.7 383.3h1M62.7 378.5h1M63.0 388.4h1M60.7 400.4h1M72.9 403.1h1M69.9 397.0h1M51.2 394.4h1M59.7 395.0h1M58.5 392.8h1M73.9 397.8h1M61.0 385.6h1M68.2 398.9h1M53.1 373.1h1M79.9 406.5h1M67.2 379.4h1M66.3 387.4h1M68.5 397.9h1M68.9 379.3h1M55.8 389.3h1M66.6 409.1h1M60.2 416.7h1M57.1 402.6h1M73.0 412.5h1M59.7 409.0h1M57.2 411.4h1M50.8 376.4h1M76.2 419.9h1M57.4 375.6h1M59.2 398.1h1M63.5 375.5h1M55.3 391.7h1M64.7 411.1h1M80.4 395.3h1M68.1 422.6h1M67.5 392.8h1M61.5 371.9h1M80.3 402.5h1M54.3 373.0h1M67.6 373.7h1M72.5 402.6h1M71.0 414.7h1M79.4 402.4h1M64.2 395.7h1M59.0 374.4h1M65.1 394.1h1M69.2 392.1h1M73.5 407.2h1M76.2 403.2h1M59.7 385.9h1M63.4 407.7h1M62.6 377.1h1M60.2 375.2h1M64.9 396.9h1M61.7 372.8h1M78.5 408.8h1M77.7 401.4h1M60.1 374.7h1M50.5 383.2h1M71.8 421.8h1M62.8 376.9h1M55.7 392.9h1M71.9 407.0h1M45.1 401.0h1M59.4 373.4h1M67.5 389.1h1M75.0 382.4h1M70.9 402.9h1M65.1 425.3h1M59.2 372.5h1" stroke="#8890ff" stroke-width="0.9"/><path d="M57.6 394.4h1M49.1 424.1h1M66.5 367.5h1M65.9 383.0h1M55.6 373.6h1M53.0 401.3h1M69.3 417.7h1M57.9 371.5h1M64.5 373.4h1M61.3 392.9h1M52.9 376.3h1M56.7 391.3h1M61.3 370.4h1M67.1 391.2h1M58.8 388.3h1M74.2 398.5h1M55.9 380.8h1M55.1 411.3h1M72.9 400.1h1M50.7 374.6h1M54.7 403.9h1M55.7 370.2h1M69.1 385.3h1M70.4 379.0h1M58.2 383.6h1M75.3 405.0h1M77.7 401.9h1M53.9 376.8h1M55.2 392.4h1M77.6 390.4h1M63.8 414.3h1M75.1 404.3h1M73.9 375.5h1M64.8 410.5h1M64.6 373.8h1M57.7 373.7h1M60.7 372.7h1M74.5 414.0h1M52.8 374.0h1M58.9 372.1h1M72.9 414.1h1M60.7 418.9h1M75.3 381.4h1M76.1 395.1h1M64.2 392.8h1M59.3 390.4h1M61.8 405.4h1M48.1 394.7h1M73.2 377.6h1M56.3 375.3h1M64.7 371.9h1M77.1 409.5h1M61.4 398.1h1M64.2 371.9h1M51.4 389.8h1M60.0 373.7h1M57.5 370.3h1M60.3 379.9h1M67.4 405.0h1M55.4 375.9h1M62.2 405.0h1M53.7 387.7h1M74.1 415.7h1M56.8 375.3h1M58.6 396.3h1M59.0 379.9h1M57.2 374.7h1M71.1 410.0h1M72.5 382.0h1M62.8 403.1h1M51.9 370.8h1M58.1 375.0h1M74.9 388.0h1M62.6 403.9h1M72.7 429.0h1M65.4 405.6h1M68.2 400.3h1M63.4 400.1h1M56.7 386.4h1M63.4 373.4h1M73.4 406.4h1M64.1 371.4h1M61.5 387.5h1M70.4 402.1h1M55.0 382.9h1M69.3 416.0h1M75.5 419.3h1M56.1 391.9h1M55.6 395.9h1M55.8 408.1h1M74.9 388.3h1M59.2 405.4h1M55.9 401.2h1M76.3 401.8h1M67.6 400.1h1M55.5 396.9h1M63.1 386.0h1M67.0 395.0h1M71.1 405.1h1M74.8 412.0h1M59.9 375.5h1M78.8 402.9h1M85.6 406.9h1M62.0 377.2h1M61.8 401.7h1M73.9 409.8h1M75.5 387.3h1M76.7 389.9h1M60.3 375.6h1M52.5 376.5h1M56.3 376.5h1M61.4 410.5h1M62.0 392.6h1M74.9 394.0h1M63.5 373.8h1M58.3 375.7h1M58.8 370.1h1M57.4 398.3h1M65.1 419.4h1M63.3 373.7h1M62.3 392.5h1M70.2 400.4h1M71.0 402.5h1M54.6 376.0h1M72.6 397.7h1M65.9 388.7h1M61.5 409.5h1M71.1 388.8h1M60.3 373.8h1" stroke="#aaa8f8" stroke-width="0.9"/><path d="M80.7 392.6h1M58.1 387.4h1M80.6 383.8h1M67.5 381.8h1M66.9 420.3h1M67.4 410.9h1M68.2 390.3h1M63.6 400.8h1M62.7 393.3h1M71.7 393.1h1M57.0 375.8h1M52.0 372.8h1M56.0 388.9h1M58.3 377.6h1M76.9 389.9h1M68.6 410.9h1M61.8 389.6h1M76.0 402.7h1M64.2 411.5h1M77.4 375.9h1M46.3 375.8h1M69.4 396.0h1M67.3 411.9h1M72.7 391.4h1M59.0 374.3h1M72.6 388.8h1M78.5 394.0h1M72.0 418.5h1M52.6 383.4h1M75.6 375.4h1M57.4 373.7h1M57.4 373.2h1M56.7 374.9h1M73.7 410.6h1M77.5 381.6h1M77.3 416.1h1M69.3 374.0h1M50.8 380.1h1M69.2 390.3h1M71.7 411.4h1M74.1 405.6h1M68.6 421.8h1M73.2 407.2h1M72.1 390.6h1M57.7 388.1h1M48.4 407.3h1M53.8 400.6h1M71.5 400.0h1M66.4 386.8h1M53.0 394.5h1M52.3 373.6h1M59.2 390.4h1M55.1 376.9h1M75.1 395.9h1M67.7 409.5h1M58.2 385.5h1M77.1 404.7h1M75.4 409.3h1M59.7 400.4h1M75.0 392.4h1M67.2 387.8h1M57.8 374.1h1M62.7 373.4h1M59.1 374.8h1M73.2 391.9h1M64.1 379.8h1M75.0 394.5h1M66.9 405.1h1M63.2 384.7h1M56.7 374.2h1M56.1 375.3h1M67.0 387.0h1M49.5 391.5h1M74.6 404.2h1M69.8 414.1h1M75.0 401.5h1M60.4 382.0h1M61.4 400.4h1M62.9 401.9h1M65.8 393.0h1M62.9 379.8h1M61.8 375.2h1M76.1 399.6h1M61.1 397.0h1M51.9 378.8h1M69.7 395.5h1M64.3 392.8h1M61.6 374.7h1M64.4 383.7h1M57.3 373.7h1M64.6 409.5h1M74.9 377.6h1M61.8 377.8h1M61.8 403.3h1M52.8 410.1h1M54.4 394.1h1M64.0 424.1h1M58.1 395.0h1M67.4 402.0h1M67.5 411.4h1M72.1 405.8h1M64.6 393.7h1M77.1 421.1h1M55.1 389.7h1M59.3 405.1h1M73.1 412.8h1M60.5 406.2h1M58.4 408.9h1M60.7 370.8h1M75.7 399.2h1M86.3 397.1h1M61.6 378.0h1M73.2 424.6h1M76.4 379.4h1M71.1 409.3h1M60.5 411.9h1M64.6 387.8h1M79.0 403.4h1M75.7 389.6h1M65.6 383.0h1M66.0 391.1h1M68.3 408.2h1M67.2 381.9h1M62.9 410.8h1" stroke="#c0b0f0" stroke-width="0.9"/><path d="M64.1 393.0h1M73.7 387.8h1M63.3 394.4h1M56.7 400.8h1M58.3 372.8h1M49.4 390.6h1M54.1 373.9h1M62.0 381.1h1M58.2 416.6h1M56.0 403.4h1M61.0 374.3h1M69.0 387.2h1M67.5 415.8h1M75.1 376.1h1M64.9 391.3h1M73.2 406.2h1M65.7 387.3h1M68.5 374.8h1M65.7 395.9h1M63.2 402.6h1M68.5 408.4h1M43.6 378.0h1M76.8 411.0h1M68.5 394.9h1M55.6 370.2h1M75.5 409.6h1M76.0 395.6h1M62.3 396.1h1M54.0 396.9h1M73.6 414.1h1M56.9 397.1h1M62.8 409.3h1M53.8 373.8h1M65.1 417.8h1M72.8 414.9h1M55.4 372.9h1M59.2 375.9h1M61.7 371.9h1M55.0 413.7h1M73.9 415.1h1M57.5 373.1h1M57.1 384.9h1M81.9 423.5h1M67.3 400.7h1M58.5 386.0h1M69.3 408.0h1M62.7 388.3h1M65.8 385.0h1M56.0 385.8h1M66.1 391.9h1M61.4 392.3h1M64.6 407.3h1M57.4 373.9h1M66.2 387.8h1M68.6 395.3h1M53.8 374.7h1M56.3 390.8h1M73.4 420.9h1M56.5 385.2h1M57.9 388.8h1M57.3 394.7h1M54.9 383.1h1M53.3 385.2h1M65.8 399.6h1M56.5 392.8h1M64.4 380.1h1M61.9 416.3h1M68.3 402.6h1M60.7 372.8h1M55.8 388.9h1M78.3 386.7h1M51.2 376.4h1M72.6 422.1h1M62.9 401.6h1M55.6 402.1h1M64.2 378.5h1M70.4 422.3h1M66.7 380.7h1M53.6 396.2h1M58.2 401.3h1M45.4 390.6h1M54.0 380.6h1M76.4 400.0h1M53.9 386.6h1M56.9 389.5h1M70.7 384.9h1M54.8 400.2h1M64.7 372.3h1M61.1 409.7h1M73.5 387.1h1M76.6 382.8h1M58.1 405.3h1M65.3 409.4h1M51.3 371.3h1M74.6 386.4h1M64.7 396.4h1M57.6 378.0h1M73.1 386.9h1M69.5 388.2h1M62.8 395.0h1M58.2 375.7h1M58.0 385.8h1M62.8 403.6h1M56.2 401.9h1M59.8 380.9h1M61.9 410.6h1M57.4 375.8h1M56.7 372.1h1M51.4 393.6h1M64.6 398.3h1M74.2 399.7h1M69.9 400.4h1M58.0 396.9h1M56.4 407.3h1M72.4 416.7h1M71.0 391.2h1M77.2 401.5h1M57.2 398.5h1M61.6 385.2h1M71.2 398.2h1M60.6 372.8h1M48.7 395.0h1M73.4 391.7h1M60.8 394.0h1M72.8 415.0h1M74.0 399.5h1M61.3 406.3h1M56.5 392.4h1M74.1 407.1h1M69.3 383.7h1M74.0 398.8h1M56.4 373.5h1M60.2 396.5h1M60.8 408.6h1M58.1 403.6h1M70.6 388.4h1M78.8 383.8h1M63.4 387.5h1M65.0 388.0h1M58.4 373.8h1M58.1 395.1h1M73.6 401.2h1M57.2 375.0h1M50.0 401.7h1M62.7 383.8h1M63.5 373.8h1M73.3 382.9h1M55.1 401.8h1M70.6 404.2h1" stroke="#2838e8" stroke-width="0.9"/>
<g><g filter="url(#fb)">
<path d="M76.1,359.4 71.8,359.7 67.8,361.7 65.4,364.1 64.1,366.4 63.1,371.7 47.8,371.7 46.1,373.4 46.1,375.4 47.8,377.1 63.8,377.4 64.8,385.7 64.4,386.1 61.8,383.1 58.8,382.7 57.4,383.4 55.8,385.1 54.1,388.4 53.4,391.4 53.4,396.7 55.4,402.4 57.1,404.4 59.1,405.4 62.1,404.7 64.4,402.1 65.8,398.7 66.4,399.4 67.8,413.7 68.1,427.4 68.8,430.4 77.8,430.4 78.4,429.4 80.1,402.1 82.4,393.4 86.4,371.7 86.1,368.1 84.4,364.4 81.4,361.4Z" fill="#7080ff" fill-opacity="0.3" fill-rule="evenodd"/>
<path d="M76.8,361.7 73.1,361.7 68.8,363.7 66.8,366.1 65.4,369.7 65.4,378.4 66.8,393.7 68.8,401.7 68.8,405.4 71.1,425.7 71.8,428.7 73.1,429.7 74.8,429.1 75.4,427.1 78.1,403.1 80.8,394.1 84.1,374.1 84.1,369.4 82.4,365.4 79.4,362.7Z" fill="#2436f2" fill-opacity="0.78" fill-rule="evenodd"/>
<path d="M76.1,364.1 72.4,364.4 69.4,366.4 68.1,368.7 67.4,373.1 67.4,384.4 68.4,393.7 69.4,398.1 71.1,401.7 71.8,405.7 73.1,408.7 73.8,408.7 74.8,407.1 75.8,402.1 77.1,400.1 78.4,396.4 81.1,384.4 81.8,378.7 81.4,368.7 79.1,365.4Z" fill="#1e50ff" fill-rule="evenodd"/>
<path d="M75.8,366.1 72.8,366.4 70.8,368.1 68.8,375.7 68.4,383.1 69.4,392.4 71.1,397.7 73.1,400.1 74.1,400.1 75.4,399.1 77.1,395.7 80.1,383.7 80.4,377.1 79.8,370.4 79.1,368.4 77.4,366.7Z" fill="#10a8ff" fill-rule="evenodd"/>
<path d="M75.4,368.4 74.1,368.4 72.4,369.7 70.8,373.7 69.4,381.4 70.8,392.7 72.1,395.4 73.4,396.7 75.4,395.4 76.8,392.7 79.1,383.4 79.1,377.4 78.4,373.4 77.1,369.7Z" fill="#20e8b0" fill-rule="evenodd"/>
<path d="M75.1,373.1 73.4,373.4 72.4,374.7 71.1,378.1 70.4,381.7 72.4,392.7 73.4,393.4 74.4,393.4 75.1,392.7 78.1,383.4 77.4,376.4 76.1,373.7Z" fill="#48f040" fill-rule="evenodd"/>
<path d="M74.8,379.7 73.4,380.1 72.4,381.7 72.8,384.7 74.1,386.4 75.1,386.1 76.1,384.4 76.1,381.4Z" fill="#b0f020" fill-rule="evenodd"/>
<path d="M74.1,380.4 73.1,381.7 73.1,384.4 74.1,385.7 74.8,385.7 75.8,384.4 75.8,381.7 74.8,380.4Z" fill="#f8e000" fill-rule="evenodd"/>
<path d="M73.8,381.1 73.4,384.4 74.8,385.1 75.4,384.1 75.4,381.7 74.8,381.1Z" fill="#ff9000" fill-rule="evenodd"/>
<path d="M74.1,381.4 73.8,384.1 74.8,384.4 75.1,382.1Z" fill="#f82010" fill-rule="evenodd"/>
</g></g></g>
<path d="M47.9,370.6 H64.6 V378.2 H47.9 Z" fill="none" stroke="#333" stroke-width="0.8"/>
<g clip-path="url(#c7)">
<path d="M154.0 397.8h1M130.9 382.1h1M129.7 407.6h1M140.6 398.8h1M143.4 398.4h1M129.6 389.5h1M140.1 409.0h1M141.5 391.7h1M159.1 379.5h1M135.0 390.7h1M136.8 375.0h1M149.5 387.2h1M139.6 374.1h1M142.8 394.5h1M131.7 387.2h1M136.8 390.6h1M135.8 389.1h1M144.6 376.4h1M136.2 382.8h1M128.7 376.5h1M139.5 402.6h1M142.9 387.7h1M152.1 403.5h1M143.0 376.0h1M140.0 380.7h1M140.3 394.1h1M140.6 406.9h1M154.6 415.6h1M143.2 371.9h1M135.1 407.2h1M137.3 388.8h1M157.2 367.2h1M155.8 399.4h1M145.1 410.6h1M148.8 379.2h1M143.6 375.3h1M139.6 381.8h1M145.3 392.3h1M152.5 400.4h1M138.4 376.6h1M142.9 414.1h1M142.5 394.8h1M138.2 401.7h1M131.4 390.5h1M140.2 399.2h1M131.5 388.9h1M137.9 375.8h1M134.7 377.2h1M135.4 374.6h1M155.4 413.2h1M146.0 413.6h1M138.2 419.0h1M137.5 394.4h1M144.7 377.5h1M142.5 396.0h1M138.4 391.1h1M138.9 398.6h1M147.4 417.4h1M136.6 385.1h1M150.8 387.8h1M148.0 419.2h1M154.9 381.6h1M134.3 428.6h1M140.9 375.7h1M137.4 389.6h1M137.2 384.6h1M150.2 403.0h1M128.4 391.9h1M129.7 374.6h1M131.0 376.0h1M139.4 402.3h1M144.2 406.0h1M137.9 394.8h1M134.3 374.7h1M149.3 369.6h1M151.9 402.0h1M136.8 373.5h1M129.0 373.4h1M138.9 373.1h1M142.9 385.2h1M152.6 363.5h1M146.0 374.0h1M152.6 389.0h1M144.1 386.5h1M136.5 377.1h1M142.4 376.3h1M138.9 402.1h1M142.9 396.2h1M137.6 405.6h1M132.1 376.1h1M130.2 373.8h1M142.5 374.2h1M158.1 370.5h1M142.1 395.5h1M155.6 399.5h1M146.4 385.5h1M151.6 404.1h1M140.7 370.0h1M152.5 413.3h1M143.3 392.3h1M145.9 391.8h1M139.7 401.9h1M158.5 387.6h1M130.0 373.7h1M143.7 410.3h1M136.7 388.8h1M147.1 373.9h1M156.3 407.7h1M141.5 395.2h1M144.8 390.2h1M142.5 396.1h1M150.6 412.6h1M151.4 370.5h1M142.9 386.6h1M138.5 371.7h1M133.5 403.2h1M146.0 396.6h1M146.1 383.1h1M158.1 407.4h1M142.8 387.3h1M135.2 403.4h1M136.5 376.7h1M158.3 411.6h1M136.6 389.3h1M144.8 390.6h1M141.0 383.4h1M125.9 372.1h1M147.4 388.3h1M137.3 387.0h1M142.3 419.6h1M153.2 400.9h1M136.8 373.2h1M151.4 419.3h1M143.2 390.4h1" stroke="#3040ff" stroke-width="0.9"/><path d="M150.9 401.5h1M149.5 423.8h1M154.4 404.6h1M136.2 410.8h1M148.9 416.5h1M150.4 396.7h1M132.2 378.4h1M154.4 407.6h1M153.4 421.2h1M132.0 373.6h1M139.6 377.5h1M142.5 411.6h1M129.3 387.4h1M129.0 371.7h1M132.9 374.7h1M138.2 376.2h1M155.7 386.0h1M156.1 412.8h1M131.1 372.5h1M149.3 392.4h1M150.2 374.8h1M157.9 417.5h1M140.1 397.6h1M138.9 373.3h1M161.1 394.1h1M153.2 411.2h1M164.0 388.1h1M135.6 376.6h1M153.7 417.0h1M157.0 382.2h1M145.2 414.4h1M140.0 389.3h1M142.2 374.7h1M143.2 390.4h1M140.0 397.4h1M136.6 376.1h1M139.7 383.6h1M129.3 405.3h1M141.3 411.6h1M129.8 389.4h1M159.0 416.5h1M155.1 405.2h1M144.1 378.3h1M142.9 377.2h1M133.8 383.4h1M141.2 393.0h1M152.1 425.1h1M149.1 405.7h1M145.9 385.2h1M132.9 390.5h1M139.2 382.2h1M146.5 372.5h1M139.2 380.6h1M137.1 396.4h1M142.9 375.6h1M146.1 419.7h1M143.9 375.0h1M156.3 392.1h1M148.1 416.9h1M145.6 397.2h1M145.2 406.0h1M147.0 386.8h1M144.1 377.2h1M143.9 376.3h1M155.8 415.2h1M134.2 407.0h1M148.9 399.6h1M157.0 421.5h1M146.2 403.4h1M127.2 391.0h1M147.7 390.7h1M145.9 418.9h1M129.2 392.5h1M155.5 415.5h1M139.4 375.2h1M154.8 401.4h1M133.8 375.2h1M136.9 383.6h1M157.2 408.4h1M140.5 405.4h1M139.7 403.6h1M157.8 393.7h1M130.8 387.5h1M136.6 416.1h1M151.6 374.6h1M124.5 382.7h1M154.8 394.3h1M145.3 411.4h1M161.2 405.8h1M151.0 419.9h1M140.1 397.4h1M153.1 400.4h1M132.7 402.4h1M154.4 404.3h1M138.9 396.2h1M139.2 386.1h1M148.1 391.3h1M134.6 395.6h1M135.6 391.8h1M139.5 406.3h1M142.1 390.8h1M156.3 384.1h1M139.1 376.9h1M148.1 386.1h1M156.0 379.2h1M154.7 415.4h1M124.1 383.9h1M140.2 389.8h1M130.9 410.2h1M151.2 407.6h1M142.1 399.0h1M142.0 370.9h1M153.6 386.6h1M134.1 392.9h1M153.7 396.3h1M154.2 385.3h1M145.6 408.3h1M133.4 371.4h1M151.5 382.0h1M132.5 396.1h1M139.1 399.0h1M140.2 401.9h1M146.1 411.2h1M140.3 396.5h1M142.3 377.5h1M155.5 419.8h1M140.5 392.3h1M147.1 403.0h1M135.7 377.5h1M142.4 375.9h1M135.5 373.0h1M137.4 375.4h1M150.2 406.9h1M146.8 375.7h1M157.1 424.3h1M155.2 398.0h1M147.7 397.2h1M144.8 398.3h1M142.3 383.3h1M136.7 403.2h1M129.6 374.7h1M155.4 421.8h1M157.0 406.2h1M146.4 394.5h1M135.9 373.8h1M143.7 375.9h1" stroke="#5a68ff" stroke-width="0.9"/><path d="M140.1 402.5h1M153.0 403.4h1M142.9 418.0h1M145.9 397.0h1M123.2 398.5h1M139.1 378.2h1M154.7 391.5h1M132.8 383.3h1M137.3 375.2h1M139.7 375.1h1M153.5 405.0h1M138.6 376.9h1M133.3 399.9h1M155.7 394.9h1M146.0 390.8h1M141.6 372.7h1M140.1 398.0h1M153.1 384.0h1M138.7 385.5h1M145.1 396.8h1M147.2 417.0h1M154.2 396.6h1M152.8 413.9h1M154.6 425.1h1M159.4 383.8h1M141.5 379.5h1M156.1 365.5h1M136.8 397.9h1M136.2 372.1h1M136.6 389.0h1M142.8 387.2h1M139.0 389.8h1M153.9 411.3h1M158.4 427.3h1M156.1 388.3h1M142.3 396.6h1M139.5 377.4h1M136.3 374.0h1M142.1 377.3h1M156.6 389.1h1M153.2 378.2h1M152.6 399.1h1M138.6 375.5h1M152.6 412.2h1M151.9 413.7h1M136.1 371.9h1M135.5 401.6h1M136.6 378.4h1M145.1 402.0h1M151.4 405.9h1M132.7 405.8h1M138.0 372.7h1M148.3 405.6h1M155.8 395.5h1M151.9 401.9h1M134.4 379.9h1M142.1 393.3h1M155.5 403.5h1M136.7 407.0h1M158.6 400.2h1M155.5 388.6h1M134.4 385.4h1M148.0 398.3h1M141.2 373.5h1M139.3 372.6h1M147.4 396.7h1M139.8 373.6h1M147.4 396.1h1M137.0 376.5h1M141.7 414.6h1M157.1 382.4h1M141.2 388.5h1M133.8 372.1h1M153.6 412.2h1M140.3 399.2h1M141.4 406.0h1M142.8 396.5h1M157.4 420.3h1M143.7 393.5h1M139.2 375.0h1M136.8 386.8h1M161.5 385.4h1M138.2 406.0h1M149.5 398.2h1M151.3 419.2h1M152.5 412.0h1M139.3 403.1h1M146.2 398.6h1M147.7 395.8h1M129.3 420.2h1M149.0 410.4h1M135.8 405.3h1M136.0 387.5h1M137.1 372.1h1M142.3 417.2h1M139.1 374.3h1M131.5 390.2h1M144.9 412.6h1M144.8 421.7h1M131.9 379.7h1M132.9 385.0h1M131.7 377.6h1M165.0 412.8h1M139.6 395.1h1M135.8 382.8h1M134.8 372.8h1M134.1 372.4h1M151.6 394.4h1M137.5 371.2h1M138.2 393.3h1M153.2 412.2h1M137.5 386.1h1M142.0 371.2h1M151.3 406.1h1M141.3 404.0h1M134.9 372.2h1M149.4 383.1h1M152.7 395.5h1M155.6 374.2h1M137.8 412.6h1M150.2 403.3h1M137.6 389.9h1M139.5 392.4h1M150.1 401.8h1M137.8 398.4h1M154.8 405.2h1M142.0 375.5h1M154.5 426.0h1M146.2 408.7h1M145.9 381.8h1M150.9 397.5h1M145.3 390.7h1M142.0 410.9h1M149.6 401.2h1M151.7 393.5h1M153.2 388.5h1M151.5 394.7h1M151.9 407.3h1M142.2 394.8h1M140.0 401.3h1M155.7 401.1h1M132.1 373.5h1M153.3 427.4h1" stroke="#8890ff" stroke-width="0.9"/><path d="M141.8 405.9h1M145.9 382.2h1M146.6 396.9h1M151.2 393.2h1M138.3 373.0h1M138.5 399.0h1M155.8 408.6h1M137.3 404.8h1M140.0 394.6h1M132.6 371.8h1M153.4 378.8h1M139.4 409.9h1M137.2 372.9h1M140.9 380.1h1M134.5 374.7h1M155.0 399.2h1M133.4 381.3h1M143.7 395.7h1M157.0 412.3h1M131.7 401.2h1M145.7 403.4h1M157.1 392.9h1M128.1 378.2h1M131.0 373.9h1M138.3 416.0h1M136.2 391.3h1M131.0 375.4h1M157.6 399.8h1M160.7 394.1h1M150.2 383.5h1M136.7 371.6h1M143.1 378.7h1M134.6 372.0h1M147.4 386.5h1M139.1 395.6h1M145.6 411.8h1M141.5 397.7h1M146.9 413.4h1M152.8 415.3h1M138.9 374.7h1M135.2 375.6h1M148.2 411.1h1M140.9 389.9h1M133.0 397.6h1M138.8 379.1h1M144.4 382.0h1M160.9 391.9h1M154.7 399.3h1M141.6 393.5h1M139.9 376.6h1M138.6 394.9h1M147.7 392.6h1M152.2 392.1h1M150.8 400.7h1M137.2 371.6h1M136.3 377.1h1M150.8 398.8h1M135.5 374.6h1M147.4 387.7h1M145.3 418.2h1M165.9 422.7h1M142.9 403.5h1M142.5 387.7h1M148.2 407.4h1M135.0 401.5h1M159.7 399.9h1M144.4 401.1h1M138.6 369.5h1M143.5 393.3h1M140.4 373.8h1M138.9 373.7h1M153.6 384.4h1M144.7 393.6h1M147.1 401.4h1M127.4 388.2h1M154.3 380.3h1M140.3 376.7h1M155.0 382.6h1M140.9 386.9h1M130.0 374.1h1M144.8 376.7h1M153.1 403.2h1M152.7 398.8h1M159.7 403.1h1M127.5 377.5h1M138.0 375.9h1M149.4 402.6h1M140.9 393.9h1M161.2 417.1h1M142.6 400.8h1M136.7 376.9h1M136.3 376.4h1M154.8 408.5h1M149.4 414.5h1M135.8 405.5h1M134.4 402.5h1M143.7 370.8h1M156.5 409.5h1M148.0 404.1h1M143.1 376.6h1M140.6 396.5h1M141.4 396.3h1M156.8 394.3h1M146.3 383.0h1M140.7 390.3h1M150.0 396.8h1M143.5 415.2h1M142.6 393.9h1M143.8 376.8h1M134.8 405.4h1M156.7 396.9h1M155.1 401.9h1M145.7 408.4h1M130.0 386.4h1M139.2 407.6h1M155.2 388.0h1M156.8 384.6h1M138.2 375.0h1M145.0 392.0h1M132.3 374.6h1M135.5 371.7h1M137.7 373.4h1M156.6 417.1h1M154.7 414.3h1M140.9 385.9h1" stroke="#aaa8f8" stroke-width="0.9"/><path d="M138.2 391.4h1M126.7 396.9h1M148.4 409.6h1M133.8 401.6h1M158.3 426.7h1M149.1 381.3h1M142.8 391.8h1M144.7 398.8h1M136.6 390.2h1M151.9 395.4h1M149.3 406.3h1M131.7 374.6h1M133.6 381.1h1M145.8 391.5h1M141.9 413.7h1M140.9 393.0h1M136.9 405.9h1M140.3 395.9h1M132.1 370.6h1M140.5 410.5h1M141.5 401.3h1M157.7 407.4h1M155.7 382.9h1M140.0 384.9h1M140.7 384.4h1M141.0 374.9h1M155.7 398.8h1M155.2 394.1h1M147.8 402.5h1M145.5 397.1h1M144.8 386.8h1M145.6 373.7h1M151.3 381.1h1M134.5 372.3h1M161.4 402.6h1M140.6 407.8h1M134.0 392.2h1M147.7 397.3h1M140.6 394.4h1M138.6 403.5h1M136.2 393.0h1M138.3 379.5h1M139.4 377.0h1M138.9 410.1h1M155.8 408.2h1M138.4 397.3h1M155.2 403.4h1M139.3 381.9h1M135.8 407.6h1M131.2 384.3h1M153.8 407.5h1M148.3 397.2h1M154.8 390.2h1M139.1 374.6h1M151.0 395.8h1M141.2 414.3h1M146.0 388.2h1M139.5 375.5h1M131.9 393.7h1M135.5 378.3h1M144.1 393.6h1M136.5 376.4h1M154.4 394.4h1M154.6 408.1h1M140.3 373.5h1M139.4 403.5h1M140.9 394.8h1M138.8 374.1h1M137.9 398.0h1M132.3 373.8h1M138.9 373.6h1M148.8 408.0h1M138.6 376.4h1M152.4 408.9h1M129.3 400.9h1M152.2 422.1h1M151.2 386.4h1M138.1 381.2h1M156.6 399.6h1M143.9 392.1h1M132.5 377.7h1M144.4 389.1h1M151.1 405.8h1M138.7 389.6h1M156.5 394.8h1M136.4 380.3h1M145.6 417.8h1M136.1 396.1h1M138.8 407.4h1M140.0 397.1h1M156.5 399.9h1M150.1 418.0h1M144.7 400.8h1M152.7 382.4h1M154.7 396.0h1M131.7 408.6h1M141.6 374.1h1M134.6 373.8h1M160.4 403.2h1M143.3 373.6h1M151.2 419.0h1M146.1 392.8h1M138.8 392.6h1M150.8 407.8h1M136.1 397.0h1M147.4 402.0h1M139.3 389.2h1M140.5 379.5h1M136.0 417.7h1M147.5 408.5h1M152.0 417.7h1M139.0 383.3h1M157.7 423.6h1M154.9 373.9h1M123.0 384.2h1M131.9 405.5h1M156.6 380.8h1M155.4 421.4h1M154.6 424.6h1M145.9 409.7h1M136.3 377.5h1M135.3 389.9h1M138.7 414.4h1" stroke="#c0b0f0" stroke-width="0.9"/><path d="M138.0 399.2h1M139.5 398.9h1M148.1 406.0h1M147.0 412.8h1M136.8 373.2h1M148.9 407.1h1M142.9 407.8h1M140.3 389.7h1M136.8 396.5h1M142.5 407.6h1M134.3 373.5h1M150.1 392.0h1M157.4 393.8h1M151.3 378.7h1M152.4 395.4h1M159.3 418.8h1M147.3 408.9h1M138.5 374.7h1M142.6 390.9h1M140.7 383.1h1M145.9 390.3h1M151.2 399.6h1M140.5 385.2h1M139.9 374.6h1M137.1 398.9h1M139.2 386.5h1M138.7 375.3h1M155.0 414.8h1M141.1 389.0h1M137.7 391.9h1M132.0 390.7h1M153.1 425.5h1M149.0 408.2h1M149.9 390.0h1M153.5 392.8h1M138.8 395.7h1M148.2 404.7h1M155.0 410.5h1M149.7 395.3h1M153.7 398.8h1M144.6 406.2h1M158.1 401.8h1M154.5 426.0h1M150.2 402.5h1M131.7 383.4h1M133.3 372.6h1M151.7 420.7h1M161.0 408.9h1M134.5 389.7h1M154.9 394.6h1M152.4 412.4h1M160.5 401.2h1M134.0 373.4h1M137.3 377.6h1M144.4 391.1h1M136.8 373.6h1M137.0 375.3h1M147.4 409.4h1M133.3 393.4h1M148.4 414.3h1M157.2 401.7h1M142.5 374.8h1M151.4 406.7h1M131.1 375.9h1M160.9 402.8h1M154.9 397.0h1M133.5 373.1h1M141.5 400.8h1M140.2 374.7h1M153.6 399.2h1M150.7 404.3h1M141.8 374.7h1M156.7 375.7h1M152.7 379.7h1M130.1 401.3h1M137.0 394.6h1M156.8 414.3h1M156.6 381.1h1M132.9 373.3h1M150.4 389.1h1M138.0 375.6h1M136.2 414.3h1M159.4 393.5h1M149.5 393.6h1M138.0 372.9h1M147.6 384.0h1M142.8 373.7h1M147.3 413.9h1M145.3 401.5h1M142.5 385.6h1M139.7 412.7h1M142.5 420.1h1M156.0 384.8h1M149.5 397.2h1M140.0 422.3h1M138.2 412.4h1M142.2 385.1h1M127.3 378.1h1M143.5 379.5h1M154.2 400.6h1M156.5 398.3h1M148.6 409.4h1M154.4 409.0h1M131.7 394.0h1M145.0 386.3h1M152.2 409.4h1M157.1 389.7h1M137.1 397.5h1M153.1 416.5h1M141.2 374.4h1M137.9 374.4h1M137.1 380.2h1M135.5 375.3h1M144.9 414.2h1M128.2 384.2h1M152.4 421.7h1M151.2 399.1h1M154.0 404.2h1M160.4 402.5h1M143.0 394.7h1M136.4 401.6h1M139.4 397.8h1M138.5 374.7h1M145.2 373.1h1M151.9 404.1h1M136.7 411.1h1M137.4 374.0h1M146.4 375.1h1M154.7 399.9h1" stroke="#2838e8" stroke-width="0.9"/>
<g><g filter="url(#fb)">
<path d="M156.2,359.4 151.8,359.7 148.2,361.4 145.2,364.4 143.8,367.1 143.2,371.7 127.8,371.7 126.2,373.4 126.2,375.4 127.8,377.1 143.8,377.4 144.8,385.7 144.5,386.1 142.2,383.4 140.8,382.7 137.8,383.1 135.5,385.4 133.8,389.4 133.5,397.1 134.5,400.7 135.8,403.1 137.5,404.7 139.2,405.4 140.5,405.4 142.5,404.4 144.2,402.4 145.5,398.7 146.2,398.7 146.8,401.4 147.8,415.1 148.2,428.4 148.8,430.4 157.8,430.4 158.5,429.1 160.2,402.1 166.2,373.4 166.2,368.4 164.2,364.1 160.8,361.1Z" fill="#7080ff" fill-opacity="0.3" fill-rule="evenodd"/>
<path d="M156.5,361.7 152.8,361.7 149.2,363.4 147.2,365.4 145.5,369.4 145.5,378.4 146.8,393.4 148.8,402.7 150.8,424.1 151.8,428.7 152.8,429.7 154.8,429.1 155.5,426.7 158.2,402.7 160.8,393.1 164.2,372.7 163.8,368.4 162.2,365.1 159.8,363.1Z" fill="#2436f2" fill-opacity="0.78" fill-rule="evenodd"/>
<path d="M156.2,364.1 153.5,364.1 150.5,365.4 148.2,368.7 147.5,372.7 147.5,384.1 148.5,393.1 149.8,399.1 151.2,401.7 151.8,406.1 153.2,408.7 154.5,407.7 155.8,402.1 157.2,399.7 161.2,383.7 161.8,376.7 161.5,368.7 159.5,365.7Z" fill="#1e50ff" fill-rule="evenodd"/>
<path d="M155.8,366.1 152.8,366.4 150.5,368.4 148.8,376.1 148.5,382.7 149.8,393.1 150.8,396.4 152.8,399.7 154.2,399.7 156.5,396.4 157.8,392.7 160.2,381.7 160.2,373.7 159.5,369.4 157.5,366.7Z" fill="#10a8ff" fill-rule="evenodd"/>
<path d="M155.5,368.4 154.2,368.4 152.5,369.7 150.8,373.7 149.8,378.7 149.8,384.7 151.5,393.4 153.2,395.7 154.2,395.7 156.5,392.4 158.8,383.7 158.5,374.1 157.2,369.7Z" fill="#20e8b0" fill-rule="evenodd"/>
<path d="M155.5,373.4 153.8,373.4 152.8,374.4 150.8,380.4 150.8,384.4 152.5,390.7 153.5,391.7 154.5,391.7 155.5,390.4 157.8,383.7 157.5,377.4Z" fill="#48f040" fill-rule="evenodd"/>
<path d="M153.8,379.7 152.8,381.1 152.5,383.4 153.2,385.4 154.5,386.4 156.2,384.4 156.2,381.7 154.8,379.7Z" fill="#b0f020" fill-rule="evenodd"/>
<path d="M153.8,380.4 152.8,383.1 153.2,384.7 154.5,385.7 155.8,384.1 155.8,382.1 154.8,380.4Z" fill="#f8e000" fill-rule="evenodd"/>
<path d="M153.8,381.1 153.2,383.4 153.5,384.4 154.8,385.1 155.5,384.1 155.5,382.1 154.8,381.1Z" fill="#ff9000" fill-rule="evenodd"/>
<path d="M154.2,381.4 153.5,383.4 154.2,384.4 154.8,384.4 155.2,382.1Z" fill="#f82010" fill-rule="evenodd"/>
</g></g></g>
<path d="M127.30000000000001,370.6 H144.0 V378.2 H127.30000000000001 Z" fill="none" stroke="#333" stroke-width="0.8"/>
<g clip-path="url(#c8)">
<path d="M229.4 392.5h1M218.4 397.3h1M208.3 375.3h1M240.1 410.2h1M230.2 396.7h1M226.5 397.6h1M214.1 389.0h1M218.5 418.8h1M223.0 398.5h1M215.2 376.4h1M228.2 398.3h1M224.6 406.5h1M215.5 406.0h1M220.8 394.5h1M220.5 372.1h1M230.8 414.8h1M217.5 399.0h1M218.0 388.9h1M219.0 403.4h1M228.9 403.9h1M211.0 377.2h1M218.3 422.6h1M216.5 371.4h1M217.6 399.8h1M211.0 371.2h1M233.9 396.3h1M213.0 375.9h1M214.8 389.2h1M222.0 401.1h1M215.6 407.5h1M207.8 375.6h1M217.8 407.7h1M220.8 395.0h1M211.5 376.3h1M236.8 399.6h1M222.4 374.0h1M218.1 373.5h1M226.9 384.1h1M215.0 371.4h1M221.9 415.4h1M230.3 412.2h1M238.0 398.9h1M227.6 392.6h1M218.5 370.5h1M219.5 395.5h1M225.7 398.6h1M228.1 384.0h1M225.3 405.1h1M235.9 407.2h1M212.5 375.9h1M219.8 400.1h1M216.0 376.4h1M224.7 403.5h1M221.0 393.0h1M230.4 405.1h1M233.0 376.3h1M224.6 411.0h1M234.6 391.7h1M233.0 416.1h1M214.0 378.3h1M230.0 416.5h1M215.4 371.2h1M229.4 396.4h1M220.7 405.9h1M233.6 402.8h1M226.6 396.3h1M216.9 371.8h1M217.3 393.2h1M221.9 373.0h1M217.0 371.2h1M222.9 388.5h1M219.0 373.7h1M212.0 396.7h1M216.1 389.1h1M217.8 392.0h1M234.4 426.2h1M217.5 372.4h1M216.2 373.6h1M203.4 372.7h1M216.9 374.8h1M216.5 411.5h1M213.6 387.0h1M228.8 400.9h1M233.9 398.9h1M219.3 410.2h1M230.8 412.6h1M221.1 406.3h1M219.0 420.7h1M217.8 386.5h1M234.3 386.1h1M219.5 394.3h1M233.6 380.1h1M209.6 399.2h1M235.1 412.9h1M213.4 373.5h1M213.4 388.8h1M214.4 388.4h1M219.6 387.3h1M231.3 412.2h1M214.5 372.3h1M222.1 386.7h1M220.1 414.1h1M232.9 396.1h1M227.5 407.1h1M218.6 374.8h1M230.2 403.6h1M218.8 401.9h1M215.9 401.7h1M219.7 376.2h1M223.6 411.7h1M233.5 401.4h1M212.6 389.7h1M232.3 398.6h1M224.3 381.0h1M237.1 407.2h1M220.0 391.3h1M207.1 388.4h1M219.7 389.1h1M234.3 391.9h1M222.3 400.6h1M214.7 377.2h1M215.0 396.3h1M225.2 403.5h1M232.2 414.8h1M213.8 399.0h1M214.6 386.3h1M211.3 375.1h1M216.5 384.0h1M224.5 377.2h1M239.2 424.7h1M230.9 395.9h1M222.1 388.7h1M216.2 418.2h1M216.0 376.8h1M213.9 377.9h1M225.5 406.6h1M213.9 377.0h1M228.0 394.4h1M223.2 398.1h1M231.9 413.7h1M221.5 371.8h1M234.9 408.7h1M230.9 398.2h1M235.4 377.5h1M217.0 391.9h1M231.3 402.2h1M216.2 389.1h1M215.9 379.2h1M230.0 405.2h1M230.9 400.7h1M235.8 409.6h1M236.1 388.1h1M239.4 393.3h1M220.9 376.6h1M217.0 375.4h1M223.2 402.6h1M239.2 413.1h1M215.7 377.9h1M230.0 414.3h1M220.3 372.3h1M216.0 386.5h1M221.0 391.9h1M225.8 374.6h1M223.1 376.5h1M221.6 401.4h1M233.5 412.5h1M226.2 407.4h1M229.0 378.7h1M209.8 374.0h1M222.9 401.0h1M220.1 373.6h1M220.8 374.9h1M224.3 400.8h1M212.6 415.1h1M237.6 398.4h1M219.3 400.8h1M217.2 388.7h1M215.0 377.1h1M215.1 377.1h1M212.5 376.1h1M222.2 379.4h1M234.1 383.1h1M233.8 390.1h1M228.5 411.3h1M237.2 413.9h1M219.4 381.6h1M218.3 389.9h1M216.5 397.5h1M237.1 386.0h1M233.9 397.8h1M216.4 393.2h1M236.1 405.5h1M213.3 377.5h1M214.0 386.8h1M233.3 387.5h1M234.2 388.9h1M232.7 410.3h1M216.3 392.1h1M221.3 394.6h1M234.7 386.3h1M227.1 390.0h1M226.6 386.6h1M220.8 369.5h1M219.1 426.5h1M214.0 396.3h1M234.5 416.4h1M212.3 405.5h1M220.3 388.4h1M203.6 401.1h1M223.8 401.1h1M222.5 398.2h1M237.3 412.3h1M217.3 398.9h1M222.7 406.8h1M214.4 390.4h1M215.6 392.1h1M228.2 413.9h1M220.3 406.0h1M207.5 391.6h1M232.0 385.4h1M220.2 375.4h1M230.7 419.0h1M211.5 386.9h1M221.6 374.8h1M210.1 384.3h1M217.5 382.1h1M217.7 390.6h1M227.6 409.0h1" stroke="#3040ff" stroke-width="0.9"/><path d="M209.5 386.9h1M216.5 374.2h1M218.6 400.0h1M222.1 396.2h1M234.8 406.3h1M232.8 390.6h1M236.1 379.0h1M212.6 377.1h1M229.2 394.8h1M215.5 386.2h1M214.2 377.0h1M221.1 374.3h1M217.0 382.3h1M237.9 396.2h1M216.4 404.8h1M224.8 399.0h1M214.2 391.5h1M231.7 407.9h1M214.0 391.3h1M236.3 394.3h1M214.9 390.3h1M229.2 413.9h1M229.2 372.1h1M236.9 394.8h1M215.9 409.3h1M229.3 408.4h1M238.0 405.3h1M210.9 388.2h1M229.4 371.3h1M230.5 417.6h1M226.0 409.9h1M232.6 404.8h1M210.9 387.5h1M215.5 388.1h1M223.2 395.0h1M232.0 374.3h1M233.7 396.3h1M217.2 381.2h1M218.3 394.9h1M226.2 401.7h1M226.9 385.0h1M225.5 394.3h1M217.7 387.0h1M220.8 391.3h1M228.5 402.3h1M211.3 388.2h1M216.6 381.0h1M216.1 406.3h1M234.0 410.9h1M231.1 399.4h1M223.1 411.8h1M224.0 402.4h1M225.3 399.2h1M230.2 417.6h1M227.2 400.6h1M231.9 409.4h1M219.2 404.2h1M217.4 394.1h1M218.3 416.5h1M212.6 392.4h1M227.3 398.0h1M212.3 391.9h1M216.8 393.1h1M221.1 383.0h1M227.4 385.2h1M217.0 410.4h1M226.9 381.4h1M232.5 410.5h1M235.1 419.0h1M227.4 390.4h1M226.7 422.7h1M230.4 387.1h1M230.8 384.7h1M235.7 408.1h1M227.3 423.6h1M232.4 410.1h1M233.0 399.7h1M232.5 392.4h1M213.9 378.1h1M231.1 383.9h1M218.4 379.4h1M217.8 370.2h1M216.4 378.7h1M212.0 373.5h1M218.5 371.9h1M233.2 381.4h1M212.1 394.8h1M219.8 387.2h1M220.4 374.8h1M212.1 389.8h1M223.6 384.2h1M234.2 410.1h1M227.2 424.9h1M216.2 409.9h1M219.5 399.6h1M228.3 400.2h1M215.2 371.3h1M217.9 392.9h1M220.3 372.1h1M205.3 401.3h1M228.0 395.3h1M230.4 394.1h1M233.1 400.5h1M228.7 394.8h1M221.1 420.3h1M210.8 377.2h1M220.1 375.0h1M213.7 375.6h1M219.1 372.9h1M229.3 402.3h1M228.2 374.3h1M210.8 375.3h1M220.5 400.3h1M221.7 373.7h1M220.1 393.9h1M215.5 379.8h1M222.5 393.5h1M211.8 373.1h1M218.6 400.2h1M216.5 381.6h1M225.0 375.0h1M231.2 415.2h1M214.2 400.4h1M233.9 409.2h1M213.9 371.0h1M231.2 393.1h1M216.9 375.6h1M233.3 408.8h1M230.8 390.7h1M230.6 401.0h1M215.2 410.0h1M233.1 392.6h1M216.7 374.0h1M224.1 378.2h1M214.5 388.5h1M207.2 377.1h1M227.2 396.5h1M213.2 373.4h1M230.3 418.3h1M204.8 388.6h1M224.7 411.7h1M215.8 387.7h1M228.3 401.1h1M219.8 404.8h1M218.4 396.2h1M212.1 376.8h1M221.1 392.3h1M228.7 393.7h1M222.0 384.0h1M219.1 382.1h1M219.8 387.8h1M227.8 386.6h1M221.6 391.9h1M215.0 420.3h1M222.8 379.6h1M217.0 373.0h1M228.3 405.2h1M217.7 394.9h1M237.4 400.5h1M225.4 395.5h1M229.9 396.5h1M232.7 407.0h1M226.3 410.1h1M231.2 419.7h1M219.1 398.5h1M231.2 407.1h1M230.3 399.3h1M225.6 409.9h1M213.7 386.4h1M216.4 405.3h1M229.8 373.7h1M216.1 376.2h1M233.5 401.4h1M230.8 409.2h1M217.1 373.9h1M215.9 397.1h1M215.2 397.2h1M211.0 390.9h1M224.0 380.4h1M210.2 395.1h1M223.7 374.3h1M218.9 392.8h1M214.2 389.8h1M230.1 421.2h1M216.8 401.6h1M217.6 386.5h1M220.9 369.7h1M221.4 392.2h1M219.6 414.6h1M210.5 392.0h1M225.7 374.5h1M220.8 409.6h1M222.6 378.1h1M232.4 400.2h1M237.2 405.4h1M219.3 418.3h1M238.2 380.7h1M224.6 407.9h1M234.1 386.9h1M223.0 387.2h1M214.5 373.6h1M229.2 387.6h1M224.9 412.0h1M221.5 404.3h1M231.4 421.3h1M235.0 400.2h1M215.4 401.4h1M233.9 411.5h1M210.9 377.2h1M234.9 410.9h1M228.8 407.7h1M235.6 403.7h1M219.7 371.6h1M212.6 378.8h1M222.4 395.5h1M221.2 379.3h1M218.1 374.0h1M232.8 402.5h1M219.0 373.5h1M222.4 391.0h1M217.6 371.9h1M219.7 390.9h1M221.0 383.7h1M226.1 393.0h1M235.6 375.2h1M221.7 387.4h1M233.3 390.8h1M216.3 410.3h1M213.1 372.7h1M218.2 374.2h1M219.0 383.5h1M229.0 391.5h1" stroke="#5a68ff" stroke-width="0.9"/><path d="M219.6 380.9h1M210.1 374.6h1M215.1 396.4h1M235.4 400.1h1M218.9 382.4h1M228.4 400.5h1M214.2 392.4h1M211.4 373.2h1M217.1 394.9h1M215.9 396.3h1M209.5 413.1h1M228.6 397.3h1M213.5 382.6h1M229.1 410.3h1M224.3 412.8h1M238.1 405.8h1M215.7 372.6h1M232.0 415.5h1M232.6 387.8h1M235.8 404.9h1M227.4 405.4h1M215.1 390.1h1M219.0 399.4h1M232.7 385.9h1M219.7 381.8h1M219.1 374.7h1M230.5 410.4h1M235.3 406.1h1M229.8 416.9h1M231.0 410.7h1M228.9 407.8h1M221.8 373.7h1M213.8 373.8h1M217.9 366.1h1M208.5 404.0h1M212.8 387.0h1M223.0 387.6h1M217.4 385.3h1M213.1 410.7h1M215.6 385.6h1M222.3 404.8h1M218.1 372.1h1M232.6 426.3h1M237.3 399.0h1M210.6 376.1h1M214.9 380.0h1M220.6 374.0h1M223.6 417.1h1M226.3 410.1h1M213.2 402.7h1M211.2 396.7h1M228.3 406.0h1M213.5 376.8h1M216.5 396.7h1M224.9 385.4h1M236.2 409.4h1M211.2 392.6h1M232.7 392.2h1M217.9 386.5h1M215.1 380.8h1M210.4 389.0h1M230.5 393.4h1M236.6 390.9h1M232.1 374.9h1M216.7 412.6h1M223.2 407.1h1M223.7 408.6h1M221.3 376.2h1M221.1 391.8h1M235.2 417.9h1M234.2 392.9h1M223.4 378.8h1M212.4 387.4h1M220.7 390.9h1M238.3 420.5h1M229.8 396.2h1M211.9 375.7h1M216.4 395.0h1M237.6 400.7h1M212.8 391.0h1M234.4 419.5h1M218.7 374.6h1M204.9 386.4h1M229.6 396.9h1M229.6 416.1h1M238.9 387.8h1M223.6 387.9h1M235.4 385.7h1M213.3 377.0h1M218.9 388.6h1M222.1 376.4h1M226.3 391.8h1M222.0 412.5h1M219.6 411.9h1M209.7 389.7h1M211.8 371.4h1M225.5 390.0h1M228.7 411.0h1M214.6 375.0h1M213.3 377.4h1M223.5 383.3h1M220.4 372.5h1M223.4 408.9h1M223.7 377.0h1M221.7 381.0h1M221.1 392.2h1M228.8 398.8h1M219.7 373.8h1M235.0 380.5h1M212.8 397.3h1M224.4 372.6h1M230.3 413.5h1M216.0 396.3h1M229.8 398.0h1M219.9 418.7h1M231.1 404.2h1M219.7 400.3h1M221.0 414.1h1M199.8 376.7h1M222.9 397.0h1M204.9 379.4h1M223.0 390.3h1M232.0 419.9h1M217.3 373.1h1M229.3 423.1h1M212.2 377.7h1M223.9 384.5h1M211.6 402.8h1M230.1 407.3h1M230.1 380.5h1M212.2 375.7h1M222.6 387.9h1M229.6 403.4h1M215.2 372.6h1M212.4 373.8h1M215.3 388.3h1M235.7 401.2h1M214.0 394.7h1M225.5 393.9h1M225.1 410.7h1M219.1 408.2h1M234.1 405.6h1M232.2 393.9h1M219.9 381.1h1M236.9 406.0h1M221.6 419.1h1M226.1 377.4h1M230.3 393.2h1M221.2 413.8h1M230.4 389.5h1M224.1 413.7h1M217.8 393.5h1M229.0 392.9h1M233.4 407.6h1M230.3 386.7h1M220.4 388.9h1M229.9 405.7h1M215.1 393.4h1M220.7 405.4h1M228.3 404.2h1M227.2 411.0h1M207.6 389.7h1M230.3 372.1h1M220.8 389.8h1M216.3 371.8h1M220.8 372.8h1M204.4 386.8h1M226.7 374.8h1M212.2 397.6h1M214.6 375.3h1M228.9 390.9h1M219.0 400.3h1M232.1 418.9h1M222.5 391.4h1M212.3 395.4h1M216.1 375.7h1M218.7 407.1h1M232.4 409.6h1M224.6 381.7h1M227.2 417.6h1M219.7 373.0h1M223.9 388.4h1M219.6 376.8h1M227.4 402.2h1M235.7 388.1h1M232.9 391.9h1M220.6 398.1h1M234.6 393.9h1M236.9 383.6h1M217.5 377.3h1M226.9 423.0h1M240.1 393.4h1M205.7 376.4h1M207.5 390.7h1M216.3 376.9h1M232.4 401.2h1M219.9 384.8h1M220.4 371.3h1M212.2 372.8h1M215.9 394.6h1M217.5 377.8h1M209.9 370.9h1M212.8 385.2h1M229.9 421.5h1M238.5 413.2h1M218.5 400.9h1M236.2 407.5h1M221.8 395.4h1M237.1 391.9h1M238.0 411.0h1M233.3 420.1h1M220.2 394.9h1M208.8 397.6h1M208.7 391.1h1M228.5 416.5h1M216.1 374.4h1M224.5 409.7h1M234.3 392.5h1M228.3 381.3h1M241.3 408.8h1M234.4 387.4h1M237.6 410.2h1M212.8 376.1h1M211.7 400.9h1M236.3 406.9h1M226.4 419.1h1M218.1 397.9h1M227.7 386.9h1M213.0 398.1h1M216.4 374.1h1M228.7 387.1h1M208.1 372.2h1M211.4 375.6h1M226.9 421.0h1M217.7 394.8h1M231.1 395.6h1M213.7 395.5h1M212.7 385.7h1" stroke="#8890ff" stroke-width="0.9"/><path d="M240.4 410.7h1M219.0 401.6h1M237.9 418.2h1M233.6 399.2h1M234.3 401.2h1M219.7 376.5h1M223.3 395.0h1M219.5 372.4h1M242.5 411.3h1M231.1 395.6h1M226.9 402.9h1M213.0 377.1h1M230.8 411.0h1M220.2 408.2h1M235.8 388.8h1M237.7 426.0h1M224.6 396.6h1M227.3 404.7h1M216.4 376.7h1M217.3 392.2h1M218.0 378.2h1M216.0 376.8h1M210.8 403.2h1M232.4 385.9h1M211.4 410.4h1M214.0 394.6h1M235.6 367.1h1M242.7 400.3h1M206.2 377.2h1M220.9 375.0h1M216.8 377.0h1M236.4 409.8h1M213.3 371.4h1M211.9 390.3h1M233.8 384.2h1M221.5 422.9h1M222.0 397.9h1M213.2 402.2h1M230.1 401.6h1M223.2 405.1h1M211.2 382.9h1M217.5 403.8h1M212.3 376.3h1M237.0 411.4h1M215.7 375.6h1M238.5 409.7h1M210.9 395.1h1M221.3 392.1h1M219.9 374.2h1M225.7 405.2h1M216.7 391.3h1M208.1 393.9h1M231.3 377.9h1M217.0 409.9h1M217.5 384.7h1M222.2 403.4h1M235.5 389.9h1M214.9 393.9h1M218.4 393.9h1M217.3 378.4h1M234.7 386.0h1M223.1 417.0h1M215.2 376.1h1M236.4 383.2h1M231.3 393.2h1M227.6 397.2h1M220.9 384.2h1M215.0 395.2h1M214.9 375.7h1M220.6 375.6h1M216.8 376.5h1M209.2 379.1h1M213.8 409.1h1M231.9 408.1h1M228.3 393.6h1M226.2 400.2h1M230.4 404.5h1M232.8 404.5h1M210.2 375.1h1M224.2 408.0h1M213.8 394.0h1M227.2 399.2h1M213.0 377.2h1M228.5 368.0h1M218.2 374.1h1M212.0 406.8h1M215.0 386.0h1M232.0 410.0h1M227.5 403.0h1M214.6 374.6h1M208.3 375.2h1M235.1 394.3h1M226.0 384.7h1M237.3 419.2h1M223.3 375.8h1M228.7 402.5h1M223.3 410.9h1M225.7 389.5h1M228.7 397.9h1M239.7 389.0h1M233.6 396.8h1M219.5 386.3h1M230.8 406.7h1M223.5 396.6h1M213.6 374.0h1M231.9 396.2h1M221.2 373.6h1M209.9 366.1h1M215.9 394.4h1M207.4 374.7h1M235.3 392.6h1M213.4 381.3h1M220.1 376.4h1M222.4 394.8h1M233.9 389.7h1M215.4 373.1h1M233.2 400.3h1M218.6 377.6h1M227.5 411.1h1M214.8 372.6h1M220.5 377.2h1M211.0 376.2h1M222.5 377.0h1M227.2 390.5h1M233.3 410.4h1M224.8 404.0h1M213.9 387.3h1M212.3 414.1h1M236.3 379.1h1M235.5 388.5h1M223.0 407.2h1M221.2 391.1h1M218.8 407.9h1M235.8 407.6h1M234.3 389.9h1M219.7 377.9h1M240.4 394.9h1M235.6 411.7h1M219.2 403.0h1M216.7 395.8h1M223.1 396.7h1M221.8 383.2h1M228.1 403.2h1M234.5 414.5h1M226.8 404.3h1M207.4 398.3h1M217.9 397.3h1M217.0 403.3h1M224.4 374.8h1M231.8 389.1h1M219.3 384.5h1M213.0 371.8h1M208.0 394.3h1M232.3 396.2h1M214.9 372.4h1M218.2 396.9h1M228.1 407.4h1M224.0 374.3h1M221.5 389.4h1M229.6 411.7h1M223.6 371.9h1M217.7 405.1h1M211.3 389.2h1M230.8 385.9h1M209.8 373.2h1M219.9 380.5h1M232.3 400.6h1M219.5 393.3h1M217.3 404.9h1M219.2 373.0h1M216.7 377.8h1M221.3 381.3h1M214.5 366.5h1M220.8 374.4h1M207.1 373.5h1M217.9 398.2h1M220.1 407.9h1M214.8 375.0h1M222.2 396.7h1M219.6 392.8h1M230.4 425.7h1M224.2 402.4h1M210.0 373.1h1M212.7 410.8h1M219.0 384.0h1M213.4 374.3h1M220.6 377.4h1M215.2 372.8h1M226.4 383.9h1M229.0 394.8h1M219.7 393.1h1M232.4 392.7h1M227.9 404.0h1M228.3 391.6h1M234.4 419.4h1M221.8 372.1h1M220.0 393.9h1M214.9 410.6h1M221.1 406.7h1M219.1 406.9h1M216.4 379.1h1M221.9 373.1h1M229.1 391.3h1M218.9 392.5h1M226.9 390.1h1M216.7 399.1h1M219.9 419.4h1M234.9 415.7h1M217.6 399.1h1M228.6 416.0h1M228.2 402.1h1M236.3 421.3h1M219.9 413.1h1M236.5 395.4h1M218.2 406.3h1M236.9 414.8h1M221.9 409.2h1M214.4 389.5h1M212.5 371.3h1M219.0 407.1h1M217.7 391.0h1M216.4 373.0h1M214.3 405.3h1M223.1 406.7h1M238.7 410.6h1M217.9 373.6h1M219.4 390.6h1M219.4 375.7h1M236.3 370.9h1M218.4 399.5h1M223.9 382.5h1M218.5 398.1h1M219.3 404.2h1M214.5 385.9h1M229.0 399.4h1M222.1 418.5h1M228.8 388.2h1M230.3 392.5h1M229.6 390.2h1M227.8 395.5h1M218.9 372.8h1M231.4 389.8h1M222.7 404.2h1M235.9 417.6h1M214.2 394.0h1M216.7 390.9h1M220.8 369.7h1M212.0 374.8h1M216.9 377.5h1M207.1 374.2h1M227.0 399.8h1M211.2 390.5h1M213.6 376.0h1M238.9 395.0h1M216.5 392.7h1" stroke="#aaa8f8" stroke-width="0.9"/><path d="M218.7 389.9h1M223.4 407.9h1M222.9 378.8h1M213.2 393.8h1M232.3 394.5h1M224.2 389.4h1M214.6 403.4h1M222.7 375.1h1M216.8 402.6h1M216.1 373.4h1M221.1 375.2h1M211.0 372.4h1M212.3 373.1h1M236.3 413.2h1M218.0 374.7h1M220.5 403.7h1M219.5 398.8h1M207.4 386.3h1M226.4 398.5h1M218.8 385.5h1M216.7 388.0h1M224.0 414.7h1M227.4 400.2h1M220.5 388.9h1M231.3 413.3h1M217.7 375.6h1M233.9 396.1h1M225.0 373.8h1M233.8 405.8h1M220.6 402.9h1M219.1 388.4h1M227.5 409.9h1M232.2 361.8h1M216.2 374.8h1M239.9 393.1h1M226.3 390.0h1M219.0 391.9h1M209.4 399.7h1M225.0 372.8h1M242.4 391.9h1M214.8 384.4h1M227.0 397.6h1M216.2 384.6h1M214.2 373.7h1M231.3 395.8h1M207.6 392.6h1M218.8 399.1h1M236.4 376.7h1M232.6 409.3h1M217.5 373.8h1M214.6 373.0h1M205.7 383.6h1M228.7 406.8h1M223.9 393.3h1M218.2 412.8h1M204.6 375.8h1M222.8 428.1h1M220.2 406.7h1M222.5 402.0h1M234.4 410.7h1M214.0 376.2h1M220.5 401.5h1M224.0 379.0h1M216.3 392.9h1M211.9 393.2h1M220.3 396.0h1M217.8 410.4h1M235.3 418.9h1M217.9 374.0h1M236.7 391.4h1M215.8 392.3h1M233.3 416.2h1M214.7 376.2h1M211.5 371.6h1M216.8 373.4h1M221.3 389.1h1M229.4 390.6h1M232.5 417.7h1M223.2 374.9h1M222.3 396.0h1M229.1 409.1h1M221.4 396.4h1M229.2 421.8h1M235.8 396.8h1M224.3 403.3h1M235.6 394.3h1M236.1 393.4h1M211.2 400.9h1M224.3 372.2h1M220.1 379.1h1M213.8 404.8h1M213.7 376.0h1M223.8 397.4h1M227.3 408.0h1M230.0 380.2h1M225.1 388.3h1M219.0 387.6h1M208.1 382.3h1M217.8 375.5h1M231.0 392.4h1M216.1 385.5h1M230.4 410.8h1M221.6 399.2h1M227.0 399.5h1M218.7 382.6h1M224.2 394.1h1M215.8 389.6h1M209.8 380.8h1M217.5 388.9h1M213.9 388.1h1M220.9 393.9h1M221.3 380.0h1M207.8 406.0h1M214.4 401.1h1M218.4 377.3h1M220.2 371.6h1M220.5 375.3h1M216.8 381.9h1M219.1 377.5h1M221.8 396.2h1M212.9 376.0h1M218.4 401.7h1M214.1 390.4h1M233.1 366.8h1M221.8 375.7h1M228.7 409.7h1M220.2 380.2h1M215.8 369.0h1M217.7 376.1h1M217.7 372.2h1M221.1 373.5h1M236.4 404.6h1M210.3 386.9h1M219.8 412.6h1M217.4 394.4h1M230.2 400.6h1M222.4 376.0h1M213.9 410.9h1M219.1 373.5h1M219.3 400.1h1M225.9 407.1h1M217.0 374.6h1M217.4 394.7h1M228.0 401.2h1M234.1 393.5h1M235.2 403.5h1M213.8 376.8h1M214.0 381.6h1M218.6 376.1h1M241.3 398.9h1M226.3 375.6h1M219.1 383.9h1M220.9 389.3h1M235.1 401.1h1M222.5 393.7h1M224.9 376.4h1M237.8 386.6h1M214.1 370.6h1M209.8 372.2h1M212.7 368.5h1M234.2 397.4h1M227.6 403.3h1M231.5 393.5h1M221.1 374.4h1M232.7 417.1h1M219.5 375.4h1M215.4 379.0h1M220.8 395.4h1M232.8 393.6h1M237.4 420.8h1M223.6 412.6h1M234.9 405.3h1M218.9 375.9h1M218.5 403.1h1M237.6 407.2h1M218.6 392.1h1M216.4 408.6h1M219.1 381.0h1M215.6 401.9h1M218.1 408.7h1M230.1 411.1h1M229.6 396.3h1M233.0 424.3h1M209.0 373.8h1M241.6 401.4h1M223.3 393.2h1M219.1 397.0h1M232.2 376.4h1M217.0 372.5h1M224.7 404.4h1M227.0 424.9h1M209.4 374.6h1M214.3 392.0h1M217.7 372.8h1M227.5 426.5h1M221.1 396.8h1M221.6 377.2h1M218.2 391.3h1M228.9 400.7h1M222.5 374.3h1M222.0 413.9h1M218.9 410.0h1M223.3 392.9h1M217.3 384.4h1M217.0 380.1h1M213.7 373.3h1M210.5 407.4h1M227.7 418.0h1M214.7 392.7h1M215.4 382.8h1M234.5 412.9h1M230.8 403.5h1M214.6 393.1h1M220.4 374.1h1" stroke="#c0b0f0" stroke-width="0.9"/><path d="M211.9 375.2h1M223.2 374.4h1M218.2 395.0h1M215.0 395.4h1M220.9 389.4h1M236.7 406.0h1M220.2 392.5h1M220.8 393.0h1M228.0 374.4h1M219.7 389.2h1M221.5 387.2h1M217.7 374.8h1M212.5 370.5h1M229.4 400.3h1M224.5 372.8h1M221.0 405.7h1M220.2 407.0h1M232.5 402.8h1M231.4 401.8h1M204.5 377.4h1M224.6 394.4h1M211.4 394.2h1M231.5 396.3h1M233.3 377.6h1M229.5 372.7h1M220.0 388.4h1M214.6 372.7h1M219.9 394.5h1M213.0 371.5h1M216.1 400.2h1M219.3 388.2h1M213.0 387.6h1M221.1 392.3h1M207.3 396.7h1M217.0 394.9h1M231.8 407.6h1M238.5 410.5h1M235.4 394.5h1M219.5 371.9h1M219.6 392.9h1M213.8 369.4h1M223.2 416.1h1M235.5 391.0h1M220.5 390.1h1M212.5 375.4h1M227.4 401.3h1M219.8 376.9h1M213.2 384.6h1M222.1 407.6h1M226.9 370.4h1M217.2 385.6h1M218.5 413.0h1M210.1 374.1h1M222.5 400.4h1M222.7 389.4h1M219.6 373.7h1M230.4 411.4h1M221.9 399.5h1M236.7 406.6h1M212.0 389.9h1M220.7 408.0h1M217.6 401.4h1M228.1 373.9h1M223.7 386.2h1M212.6 385.3h1M224.6 412.4h1M214.9 412.7h1M214.3 395.5h1M232.6 392.2h1M218.5 397.4h1M233.9 409.8h1M229.9 403.1h1M223.2 400.0h1M218.3 387.0h1M214.0 394.9h1M234.3 400.7h1M217.8 385.0h1M223.3 402.7h1M226.8 391.2h1M231.4 402.9h1M241.5 380.7h1M228.6 376.4h1M215.8 375.2h1M236.4 406.9h1M215.9 378.1h1M236.3 411.2h1M234.4 413.6h1M218.0 377.1h1M221.0 371.1h1M215.1 380.9h1M213.8 371.8h1M207.4 404.3h1M230.2 413.2h1M226.4 374.8h1M217.1 392.3h1M224.6 374.0h1M207.5 395.7h1M223.3 412.8h1M216.5 372.4h1M213.3 374.1h1M218.3 375.4h1M219.8 396.7h1M236.6 410.3h1M219.7 388.4h1M231.6 394.0h1M225.8 397.8h1M213.1 372.8h1M220.8 393.3h1M223.4 415.1h1M227.2 405.1h1M213.6 372.0h1M218.5 416.0h1M212.1 398.6h1M230.4 405.1h1M208.4 395.2h1M224.8 397.0h1M227.1 384.0h1M215.9 399.7h1M231.5 418.6h1M228.7 413.6h1M216.8 373.8h1M213.6 409.5h1M211.4 393.3h1M219.3 372.6h1M219.7 416.1h1M238.1 411.2h1M226.8 391.3h1M226.3 404.5h1M214.0 375.9h1M217.2 403.5h1M211.0 372.5h1M219.5 374.2h1M219.8 376.8h1M219.0 399.8h1M223.1 400.1h1M209.9 373.9h1M221.5 378.5h1M233.9 395.9h1M218.4 374.2h1M233.4 413.3h1M222.8 383.1h1M216.7 396.1h1M213.3 397.3h1M237.7 405.3h1M229.4 411.2h1M216.4 393.6h1M217.4 392.3h1M212.5 376.7h1M215.6 404.2h1M235.7 409.9h1M232.7 391.6h1M234.9 389.8h1M232.9 402.7h1M212.6 380.6h1M216.9 376.3h1M235.3 373.1h1M213.7 384.0h1M212.3 373.1h1M225.8 381.3h1M236.9 406.1h1M223.0 396.1h1M220.8 388.4h1M218.9 394.1h1M217.5 394.2h1M238.8 401.1h1M222.5 401.7h1M235.3 421.3h1M221.5 403.1h1M220.0 389.9h1M233.1 399.7h1M226.9 398.5h1M209.2 375.5h1M219.0 380.9h1M217.2 394.8h1M228.2 395.6h1M232.2 390.9h1M218.5 392.0h1M234.8 407.3h1M211.7 397.0h1M221.0 383.3h1M217.5 393.6h1M233.8 407.4h1M211.5 371.5h1M217.3 413.5h1M234.5 394.9h1M233.0 392.9h1M224.2 387.6h1M224.9 408.7h1M216.8 373.0h1M225.5 399.3h1M203.9 374.0h1M224.0 413.4h1M232.7 386.8h1M238.0 403.7h1M238.5 398.5h1M207.8 386.9h1M238.8 403.5h1M218.9 372.9h1M228.5 405.8h1M223.2 387.1h1M217.9 411.0h1M217.9 410.5h1M216.8 390.5h1M238.5 411.5h1M217.5 376.7h1M215.5 405.9h1M222.2 379.5h1M213.3 409.8h1M214.3 373.7h1M224.0 396.8h1M217.8 378.2h1M216.7 373.3h1M230.1 401.1h1M240.7 371.8h1M220.4 406.2h1M218.1 401.4h1M213.1 389.2h1M230.7 371.8h1M212.7 409.8h1M223.2 398.5h1M232.1 379.0h1M205.0 383.3h1M233.2 425.1h1M233.0 392.5h1M219.4 375.2h1M232.5 403.2h1M233.7 408.8h1M234.7 374.8h1M235.6 402.7h1M231.3 403.2h1M236.5 405.6h1M235.9 402.3h1M225.9 384.5h1" stroke="#2838e8" stroke-width="0.9"/>
<g><g filter="url(#fb)">
<path d="M231.6,359.1 227.2,360.7 223.9,363.7 222.2,366.7 221.2,371.7 206.6,371.7 204.9,373.4 204.9,375.4 206.6,377.1 222.2,377.4 221.9,379.4 220.2,378.4 217.2,378.4 215.6,379.1 212.2,382.7 209.9,389.7 209.6,395.1 210.2,400.1 213.2,406.7 216.6,409.4 220.6,409.4 221.9,408.7 224.9,405.4 225.2,405.7 227.2,429.7 227.6,430.4 236.6,430.4 237.2,429.4 238.2,413.4 239.2,408.4 239.6,402.4 241.9,393.1 243.2,383.1 244.9,376.7 245.6,369.1 243.6,364.1 240.6,361.1 235.9,359.1Z" fill="#7080ff" fill-opacity="0.3" fill-rule="evenodd"/>
<path d="M234.9,361.1 232.2,361.1 227.9,362.7 224.9,366.1 223.6,370.4 224.9,393.7 226.6,401.4 229.2,423.4 230.6,428.7 231.9,429.7 233.6,429.1 234.9,424.7 237.9,402.4 240.2,394.1 243.6,372.7 243.6,369.7 241.9,365.4 239.2,362.7Z" fill="#2436f2" fill-opacity="0.78" fill-rule="evenodd"/>
<path d="M235.6,363.4 231.9,363.4 228.9,364.7 226.2,368.4 225.6,372.4 225.6,383.4 226.2,393.1 228.6,402.1 229.6,408.7 230.9,412.1 232.2,413.1 233.6,412.1 234.2,410.7 236.2,401.7 237.9,397.4 241.2,378.1 241.2,369.4 240.6,367.4 238.2,364.7Z" fill="#1e50ff" fill-rule="evenodd"/>
<path d="M234.9,365.1 231.6,365.4 228.6,367.7 226.9,374.4 226.6,382.7 227.2,392.7 229.2,400.1 231.9,405.4 233.6,404.4 237.2,395.4 239.9,379.4 239.9,373.4 239.2,368.7 237.6,366.4Z" fill="#10a8ff" fill-rule="evenodd"/>
<path d="M234.2,366.7 231.9,367.1 229.9,368.7 228.2,374.4 227.6,379.7 228.2,392.7 229.6,397.4 231.6,400.4 233.2,400.4 235.2,397.7 236.9,393.1 238.6,383.7 238.6,374.1 237.2,368.7 235.9,367.4Z" fill="#20e8b0" fill-rule="evenodd"/>
<path d="M234.2,369.1 232.9,369.1 231.9,369.7 229.9,373.7 228.6,379.4 229.2,393.1 230.9,396.7 231.9,397.7 233.2,397.7 235.2,394.7 237.9,383.1 237.6,376.1 236.9,373.4 235.2,369.7Z" fill="#48f040" fill-rule="evenodd"/>
<path d="M233.9,375.4 231.9,376.1 229.9,381.1 230.6,389.4 231.2,392.7 232.2,393.4 233.2,393.4 233.9,392.7 236.2,384.1 235.9,378.7Z" fill="#b0f020" fill-rule="evenodd"/>
<path d="M233.6,379.4 232.2,379.7 231.2,381.7 231.2,384.1 232.6,386.7 234.6,385.7 235.2,383.7 234.9,381.1Z" fill="#f8e000" fill-rule="evenodd"/>
<path d="M233.2,380.1 232.2,380.7 231.6,382.4 231.6,383.7 232.6,385.7 233.6,385.7 234.6,384.7 234.6,381.4Z" fill="#ff9000" fill-rule="evenodd"/>
<path d="M232.9,381.1 232.2,381.7 232.2,384.4 233.6,385.1 234.2,384.1 234.2,381.7Z" fill="#f82010" fill-rule="evenodd"/>
</g></g></g>
<path d="M206.70000000000002,370.6 H223.4 V378.2 H206.70000000000002 Z" fill="none" stroke="#333" stroke-width="0.8"/>
<text x="41.4" y="371.2" font-size="5.4" text-anchor="middle" fill="#222" font-weight="normal" >I</text>
<text x="46.2" y="377.3" font-size="5.4" text-anchor="end" fill="#222" font-weight="normal" >0.72</text>
<text x="120.80000000000001" y="371.2" font-size="5.4" text-anchor="middle" fill="#222" font-weight="normal" >I</text>
<text x="125.60000000000001" y="377.3" font-size="5.4" text-anchor="end" fill="#222" font-weight="normal" >0.82</text>
<text x="200.20000000000002" y="371.2" font-size="5.4" text-anchor="middle" fill="#222" font-weight="normal" >I</text>
<text x="205.0" y="377.3" font-size="5.4" text-anchor="end" fill="#222" font-weight="normal" >0.87</text>
<g>
<path d="M68.7 480.7h1M81.2 474.9h1M76.7 480.9h1M82.3 477.9h1M77.1 474.2h1M34.2 504.6h1M80.8 481.2h1M32.0 509.8h1M45.7 496.0h1M38.8 518.6h1M52.6 483.5h1M85.1 476.6h1M70.2 482.1h1M83.5 477.9h1M58.8 490.8h1M83.8 473.4h1M24.0 515.3h1M53.2 488.7h1M29.3 513.2h1M55.9 485.4h1M39.2 514.5h1M69.2 480.6h1M74.9 487.3h1M80.3 479.6h1M62.1 486.4h1M43.7 501.9h1M76.4 479.2h1M54.9 487.0h1M72.5 481.1h1M63.3 481.1h1M72.6 484.0h1M33.3 512.1h1M42.8 512.7h1M85.5 477.9h1M36.6 518.1h1M33.7 499.4h1M61.3 489.0h1M35.1 514.9h1M66.4 478.1h1M65.3 484.0h1M38.3 502.6h1M29.0 514.3h1M45.7 485.5h1M52.1 479.4h1M48.5 486.5h1M42.6 492.8h1M37.7 505.7h1M32.9 504.1h1M37.5 495.2h1M87.2 479.5h1M36.1 501.7h1M41.5 488.2h1M44.7 514.9h1M43.4 498.3h1M32.7 517.4h1M56.3 484.2h1M57.2 486.3h1M57.3 485.9h1M80.8 479.6h1M71.2 480.3h1M53.3 490.2h1M41.9 494.5h1M79.9 473.1h1M55.0 488.5h1M64.0 486.5h1M58.1 484.9h1M37.6 516.4h1M52.9 491.4h1M37.2 499.5h1M60.4 482.8h1M61.1 485.4h1M50.9 491.0h1M48.7 491.2h1M52.5 485.1h1M27.6 509.8h1M31.4 515.5h1M40.4 526.8h1M67.9 481.7h1M52.3 483.8h1M71.5 484.7h1M89.3 479.1h1M40.3 491.2h1M48.5 490.8h1M67.2 481.5h1M77.6 476.2h1M49.5 487.8h1M63.0 478.9h1M35.1 490.4h1M51.7 486.0h1M65.2 483.5h1M45.5 483.2h1M30.7 520.6h1M68.2 482.0h1M82.5 478.4h1M52.5 496.5h1M45.9 487.2h1M40.6 492.6h1M58.9 483.2h1M38.3 520.0h1M55.3 488.2h1M27.5 489.5h1M42.2 494.7h1M74.1 479.3h1" stroke="#3040ff" stroke-width="0.9"/><path d="M28.4 505.0h1M59.3 489.3h1M43.2 499.1h1M56.9 497.8h1M65.5 482.4h1M74.5 482.5h1M84.0 482.1h1M63.7 479.8h1M24.8 516.1h1M30.5 522.2h1M50.7 487.7h1M61.6 482.1h1M69.6 489.3h1M92.6 476.3h1M43.4 488.7h1M37.6 492.0h1M55.8 489.6h1M42.3 514.2h1M60.1 487.9h1M57.6 492.1h1M57.8 487.8h1M30.7 502.8h1M78.0 479.7h1M44.6 509.3h1M64.6 480.4h1M25.5 502.5h1M76.3 477.3h1M30.3 516.5h1M37.0 501.4h1M60.8 482.2h1M30.7 504.7h1M64.2 485.7h1M55.3 489.4h1M57.3 486.3h1M45.1 517.1h1M60.1 492.5h1M88.2 470.4h1M45.0 513.8h1M56.9 491.9h1M43.2 507.5h1M77.8 476.6h1M32.0 495.3h1M82.1 474.1h1M68.4 489.6h1M88.4 472.4h1M59.6 492.6h1M82.5 478.8h1M36.4 510.8h1M52.8 493.1h1M46.8 490.2h1M73.5 477.9h1M31.2 515.0h1M58.6 487.6h1M54.7 483.4h1M58.3 485.8h1M51.6 486.8h1M74.8 468.4h1M67.1 483.6h1M37.9 520.9h1M87.2 481.3h1M31.2 513.2h1M39.5 521.0h1M55.0 489.5h1M45.2 493.6h1M85.1 476.2h1M57.3 484.4h1M34.8 494.1h1M64.6 480.7h1M32.5 510.2h1M37.9 510.9h1M76.4 478.7h1M34.0 504.6h1M56.4 485.1h1M62.7 483.2h1M88.5 479.7h1M52.6 489.1h1M35.1 499.4h1M24.3 511.3h1M40.1 512.8h1M59.7 480.9h1M68.0 482.2h1M47.6 490.8h1M40.7 504.7h1M25.8 515.5h1M66.4 485.9h1M68.8 478.6h1M26.2 511.7h1M53.0 490.4h1M30.0 514.9h1M42.7 498.5h1M28.3 522.5h1M52.1 486.6h1M54.1 495.2h1M64.5 482.8h1M33.8 526.2h1M73.4 484.5h1M45.6 492.4h1M37.4 497.1h1M43.8 500.3h1M60.4 484.9h1M70.2 482.6h1M49.4 485.6h1M58.7 487.6h1M42.5 517.2h1M79.7 472.4h1M45.5 486.9h1M65.9 484.8h1M60.3 478.9h1M48.6 492.5h1M27.5 510.6h1M49.6 483.5h1M57.0 490.3h1M70.0 483.0h1M82.8 474.0h1" stroke="#5a68ff" stroke-width="0.9"/><path d="M42.8 494.5h1M75.5 478.9h1M51.8 494.7h1M35.0 489.7h1M52.7 486.0h1M51.2 494.5h1M75.5 482.3h1M45.9 489.0h1M65.7 490.7h1M69.3 485.6h1M37.4 514.2h1M59.1 484.9h1M72.9 483.4h1M69.0 484.2h1M76.7 482.9h1M74.0 477.3h1M71.5 481.6h1M49.1 489.6h1M32.5 496.9h1M75.7 473.8h1M74.2 479.1h1M41.9 484.1h1M37.9 494.4h1M74.4 478.6h1M46.9 485.8h1M69.9 483.4h1M62.1 486.5h1M75.4 479.6h1M31.8 510.1h1M57.4 484.9h1M68.3 483.9h1M50.0 489.5h1M65.7 478.5h1M52.5 489.8h1M30.5 508.7h1M57.9 482.7h1M41.8 497.0h1M60.0 489.5h1M59.9 488.0h1M33.4 508.1h1M78.2 478.9h1M53.2 488.0h1M31.9 518.9h1M45.0 486.6h1M51.2 493.0h1M40.0 505.9h1M73.9 473.0h1M24.8 520.6h1M76.8 476.5h1M50.0 489.8h1M41.1 493.3h1M49.7 486.6h1M70.1 479.2h1M33.8 509.9h1M57.2 486.2h1M79.1 478.0h1M73.9 479.2h1M46.8 489.3h1M51.1 488.5h1M86.9 474.2h1M82.8 482.4h1M44.8 492.1h1M50.6 483.8h1M66.7 485.4h1M57.2 492.4h1M81.8 480.5h1M75.2 478.2h1M84.2 475.6h1M74.1 481.6h1M31.8 526.0h1M34.9 519.1h1M37.0 515.6h1M58.0 487.1h1M67.7 478.9h1M54.5 483.9h1M59.2 490.7h1M24.1 508.9h1M69.3 480.5h1M79.7 477.2h1M52.3 490.1h1M36.6 517.0h1M56.4 487.9h1M65.9 485.1h1M47.9 492.8h1M32.4 494.4h1M35.6 499.1h1M64.3 489.9h1M42.8 487.1h1M62.8 487.4h1M36.2 525.8h1M67.0 476.0h1M49.0 496.7h1M31.0 493.9h1M61.5 489.3h1M74.5 477.9h1M24.6 504.7h1M72.7 472.8h1M53.5 491.2h1M80.4 482.8h1M41.1 514.4h1M76.8 473.1h1M62.9 488.9h1M24.9 509.8h1M42.3 485.7h1M44.0 489.8h1M43.1 488.3h1M40.5 499.7h1M63.9 484.9h1M53.6 490.1h1M47.7 483.5h1M61.6 475.4h1M67.7 480.5h1M29.1 508.2h1M48.9 493.3h1M46.7 487.0h1M24.0 506.6h1" stroke="#8890ff" stroke-width="0.9"/><path d="M25.6 501.1h1M39.3 499.1h1M43.5 493.1h1M57.5 484.4h1M59.6 484.2h1M57.6 487.7h1M61.4 492.5h1M75.3 480.1h1M37.9 514.0h1M69.0 481.6h1M71.2 485.5h1M65.2 482.3h1M59.4 491.2h1M48.7 488.6h1M36.5 520.8h1M49.6 488.2h1M35.3 498.6h1M77.4 483.7h1M57.3 488.3h1M80.5 481.7h1M39.4 491.3h1M57.1 481.9h1M41.2 502.2h1M68.9 485.9h1M67.1 480.6h1M50.7 490.8h1M61.5 481.1h1M72.6 484.2h1M67.8 483.3h1M57.6 490.4h1M89.8 478.1h1M52.8 490.0h1M57.1 493.9h1M54.0 487.6h1M40.0 489.8h1M59.0 485.9h1M33.0 497.9h1M82.7 483.2h1M29.3 502.5h1M55.8 484.3h1M38.8 515.2h1M33.5 497.8h1M53.2 494.4h1M29.0 516.2h1M75.4 480.2h1M66.8 481.8h1M35.7 518.3h1M74.4 481.4h1M58.6 489.1h1M69.8 478.7h1M53.6 484.6h1M42.5 491.5h1M74.0 484.7h1M47.4 498.9h1M64.6 477.2h1M47.8 489.8h1M66.8 483.2h1M29.6 502.6h1M61.7 480.9h1M53.4 489.8h1M76.1 482.6h1M62.0 486.2h1M82.6 481.4h1M67.4 486.0h1M58.2 493.0h1M78.0 476.0h1M38.2 497.8h1M42.5 494.1h1M67.3 481.8h1M55.6 481.8h1M80.1 475.5h1M62.3 482.0h1M47.3 489.0h1M45.4 484.9h1M69.4 479.5h1M65.0 482.4h1M54.3 483.6h1M65.7 479.8h1M31.9 515.0h1M29.8 513.8h1M61.5 486.5h1M44.8 497.0h1M38.6 514.6h1M31.1 510.2h1M75.8 471.0h1M52.6 491.2h1M52.8 485.2h1M77.9 478.8h1M65.2 490.7h1M80.8 479.3h1M81.7 473.7h1M77.6 482.9h1M84.3 477.5h1M50.5 489.7h1M44.9 493.8h1M59.7 492.4h1M81.1 476.6h1M42.9 490.9h1M32.0 510.8h1M38.3 506.2h1" stroke="#aaa8f8" stroke-width="0.9"/><path d="M32.7 507.4h1M52.6 490.1h1M70.7 475.0h1M45.3 491.1h1M32.1 519.3h1M57.5 482.9h1M36.2 506.8h1M55.7 484.4h1M65.8 483.0h1M59.2 489.4h1M44.5 492.2h1M45.6 487.7h1M60.5 480.6h1M80.4 480.2h1M47.8 487.2h1M76.0 485.0h1M75.8 484.2h1M34.1 520.5h1M34.1 512.6h1M47.7 487.4h1M39.1 519.8h1M47.6 489.5h1M63.6 483.4h1M35.1 487.4h1M75.3 477.9h1M65.0 488.2h1M82.6 479.6h1M27.6 506.5h1M45.3 492.0h1M48.8 483.5h1M72.0 483.4h1M79.0 482.4h1M72.1 490.9h1M36.2 511.4h1M74.3 477.5h1M43.3 487.8h1M74.3 487.6h1M36.6 507.2h1M82.3 473.5h1M56.6 486.1h1M69.6 479.1h1M94.0 474.6h1M52.8 497.5h1M84.8 475.9h1M56.2 495.9h1M56.5 481.0h1M28.0 518.2h1M63.6 483.3h1M55.6 493.4h1M78.1 482.8h1M52.4 490.3h1M66.1 487.8h1M50.3 491.9h1M71.5 479.1h1M81.1 472.4h1M79.0 482.5h1M73.3 480.3h1M50.2 487.5h1M66.1 482.2h1M42.4 488.2h1M74.1 478.7h1M34.6 521.0h1M54.6 489.7h1M45.4 484.5h1M55.2 493.2h1M81.8 478.9h1M55.7 487.7h1M37.6 511.0h1M70.8 483.1h1M56.4 489.7h1M51.4 487.1h1M60.8 487.5h1M65.6 482.8h1M32.5 512.5h1M77.5 474.6h1M41.4 489.0h1M76.1 477.6h1M61.7 485.6h1M74.4 478.2h1M27.2 515.8h1M89.7 475.7h1M44.4 495.7h1M67.4 479.5h1M82.7 480.4h1M52.3 489.3h1M84.2 481.6h1M34.9 502.2h1M82.9 478.3h1M56.7 487.3h1M36.3 496.0h1M56.0 484.1h1M83.6 479.4h1M33.6 509.2h1M81.7 477.8h1M64.4 481.4h1M84.7 477.2h1M40.4 495.7h1M32.5 491.5h1M74.2 477.9h1M46.2 491.6h1M67.4 491.0h1M29.7 525.9h1M58.9 486.8h1M75.0 480.5h1M39.7 496.6h1M64.4 479.2h1M58.6 484.3h1M67.5 483.8h1M75.5 483.6h1M46.0 509.5h1" stroke="#c0b0f0" stroke-width="0.9"/><path d="M80.7 472.7h1M73.6 482.6h1M71.9 477.9h1M69.5 477.4h1M82.0 483.2h1M84.8 475.6h1M37.2 515.2h1M75.2 478.4h1M32.5 505.9h1M38.2 486.9h1M38.4 510.6h1M58.0 480.9h1M67.3 478.0h1M32.4 509.7h1M72.7 476.6h1M67.1 488.7h1M61.6 476.1h1M55.4 479.6h1M81.1 475.8h1M66.3 480.2h1M44.1 493.8h1M73.1 477.9h1M51.1 492.9h1M64.9 487.8h1M80.8 480.0h1M48.5 481.2h1M49.3 495.7h1M64.3 483.3h1M74.4 485.9h1M27.2 527.2h1M79.7 481.2h1M45.2 490.7h1M44.1 489.9h1M63.7 482.9h1M58.5 486.2h1M56.5 488.2h1M75.3 481.0h1M55.6 485.2h1M34.5 498.0h1M55.7 486.4h1M27.0 510.4h1M63.5 483.3h1M29.1 514.4h1M59.9 480.9h1M55.3 490.0h1M73.9 487.7h1M37.4 488.4h1M60.8 487.6h1M25.4 522.5h1M53.1 483.5h1M79.5 480.1h1M76.9 483.2h1M35.6 511.4h1M80.5 483.0h1M89.4 482.2h1M64.5 486.0h1M39.5 518.7h1M69.2 481.6h1M79.7 480.6h1M46.8 499.8h1M30.4 518.1h1M70.3 480.4h1M72.8 486.5h1M39.2 493.0h1M37.6 507.5h1M62.6 487.7h1M37.0 513.9h1M90.6 470.7h1M47.5 490.6h1M42.8 510.8h1M91.5 467.9h1M45.3 492.4h1M29.6 508.0h1M67.1 481.6h1M67.3 488.7h1M85.2 474.1h1M75.5 481.7h1M77.4 479.1h1M34.4 515.9h1M77.1 478.0h1M79.2 479.4h1M55.3 488.0h1M79.8 475.4h1M88.3 475.6h1M56.4 478.8h1M73.9 479.5h1M48.9 488.9h1M87.8 475.9h1M78.6 482.5h1M46.2 493.4h1M61.5 485.5h1M64.3 493.6h1M53.6 489.8h1M64.9 495.2h1M58.7 488.8h1M35.1 502.1h1M63.9 491.0h1M69.6 475.6h1M27.4 506.3h1M46.0 487.1h1M83.6 478.2h1M63.6 480.8h1M51.4 484.8h1M61.9 485.5h1M83.5 471.6h1M59.7 485.5h1M72.0 479.0h1" stroke="#2838e8" stroke-width="0.9"/>
<g><g filter="url(#fb)">
<path d="M88.3,470.7 87.3,469.7 84.3,468.7 74.0,469.0 59.7,472.0 56.7,473.4 52.3,474.0 48.3,476.0 40.0,478.7 34.7,479.4 30.0,481.4 27.7,483.0 25.0,486.4 22.7,491.7 22.3,493.7 23.0,500.4 23.3,528.4 39.3,528.4 39.7,500.7 39.0,497.0 40.0,496.0 50.0,492.7 55.3,492.7 60.3,491.4 64.3,489.0 68.0,485.4 79.0,482.4 81.3,480.7 87.0,478.0 88.7,476.4 89.3,473.0Z" fill="#7080ff" fill-opacity="0.3" fill-rule="evenodd"/>
<path d="M87.7,471.7 85.3,470.0 73.3,470.4 60.7,473.0 56.7,474.7 53.0,475.0 48.0,477.7 39.0,480.4 33.7,481.0 29.0,483.7 26.3,487.0 26.0,488.7 24.0,492.4 25.0,520.7 26.7,528.4 36.0,528.4 37.3,523.4 37.3,516.7 38.3,509.0 38.3,500.7 37.7,496.4 39.0,495.0 49.3,491.4 56.3,491.4 59.7,490.4 64.0,487.7 67.0,484.4 77.7,481.7 87.3,476.4 88.0,475.0Z" fill="#2436f2" fill-opacity="0.78" fill-rule="evenodd"/>
<path d="M86.3,472.0 85.3,471.4 75.0,471.4 60.7,474.4 57.7,475.7 52.7,476.4 47.7,479.4 38.3,482.0 34.0,482.4 30.0,484.7 28.3,486.7 27.7,489.0 25.3,493.0 26.3,512.7 27.3,519.4 29.0,523.7 30.3,524.7 32.3,524.7 34.7,521.7 37.0,506.4 37.0,501.4 36.0,496.0 38.0,494.0 39.7,493.0 50.0,489.7 52.3,490.4 55.0,490.4 59.0,489.4 62.0,487.7 65.7,483.4 77.0,480.7 85.7,476.0 87.0,474.0Z" fill="#1e50ff" fill-rule="evenodd"/>
<path d="M85.7,473.4 84.3,472.4 74.7,472.4 73.0,473.0 70.7,473.0 65.3,474.7 61.0,475.4 58.0,476.7 54.3,476.7 51.0,478.0 48.3,480.4 39.0,483.0 35.3,483.0 31.7,484.7 29.7,486.7 28.7,490.0 26.7,492.7 27.0,507.4 28.0,513.7 29.3,518.0 30.7,519.4 32.0,519.4 33.3,517.7 34.7,513.7 36.0,504.7 36.0,501.7 34.7,495.7 37.0,493.4 47.3,489.0 50.3,488.7 52.0,489.4 56.3,489.4 59.3,488.4 63.3,485.0 64.3,482.7 71.3,481.4 76.7,479.7 85.0,475.0Z" fill="#10a8ff" fill-rule="evenodd"/>
<path d="M82.3,474.0 79.7,473.4 71.3,473.7 66.7,475.4 61.0,476.4 59.0,477.4 54.7,477.4 50.7,479.0 48.3,481.4 45.3,482.7 39.3,484.0 35.3,484.0 32.3,485.4 30.7,487.0 30.0,488.4 30.0,490.0 27.7,493.4 27.7,503.7 28.7,510.0 30.0,513.7 31.0,514.7 32.0,514.4 33.7,511.4 35.0,504.7 35.0,501.7 33.7,495.0 36.3,492.7 40.0,490.7 48.0,487.7 50.0,487.7 52.3,488.7 56.0,488.7 58.3,488.0 62.3,485.0 63.7,482.0 68.3,480.7 72.3,480.4 76.0,479.0 80.7,476.4 82.3,474.7Z" fill="#20e8b0" fill-rule="evenodd"/>
<path d="M78.7,475.0 76.3,474.4 71.7,474.4 69.0,475.0 66.7,476.4 61.3,477.4 59.3,478.4 57.0,477.7 54.3,478.0 51.3,479.4 49.0,481.7 48.7,482.7 46.0,484.0 40.0,485.0 36.7,484.7 33.3,485.7 31.3,487.7 31.0,490.7 29.0,494.7 28.7,504.4 30.3,509.4 31.7,510.0 33.7,506.0 34.0,501.7 32.0,494.7 35.0,492.4 40.3,489.4 47.3,486.4 49.3,486.4 52.3,488.0 56.3,488.0 58.3,487.4 61.7,484.7 62.7,481.0 73.0,479.4 77.3,477.0 78.7,475.7Z" fill="#48f040" fill-rule="evenodd"/>
<path d="M37.7,487.4 36.7,486.7 34.0,487.4 33.3,488.4 33.7,490.0 36.3,490.0 37.7,488.7ZM60.7,480.4 58.7,479.0 57.0,478.7 53.3,479.4 50.3,481.7 50.0,485.0 52.7,487.0 56.7,487.0 58.3,486.4 60.3,484.7 61.0,483.4ZM73.3,476.7 72.7,476.0 71.0,476.0 69.3,476.7 68.7,477.7 69.3,478.4 71.0,478.4 72.7,477.7Z" fill="#b0f020" fill-rule="evenodd"/>
<path d="M60.0,481.4 57.7,479.7 54.7,479.7 53.0,480.4 51.3,482.0 51.0,484.4 52.0,485.7 53.3,486.4 56.0,486.4 58.3,485.4 59.7,484.0Z" fill="#f8e000" fill-rule="evenodd"/>
<path d="M59.0,481.7 57.3,480.4 54.0,480.7 52.0,482.4 52.0,484.4 54.0,485.7 57.0,485.4 58.7,484.0Z" fill="#ff9000" fill-rule="evenodd"/>
<path d="M53.0,482.4 52.7,483.4 54.3,485.0 57.3,484.4 58.3,482.7 58.0,481.7 57.0,481.0 55.0,481.0Z" fill="#f82010" fill-rule="evenodd"/>
</g></g></g>
<path d="M46.0,480.2 L47.3,487.6 M59.0,476.8 L63.0,483.5 M79.2,472.8 L81.9,476.8 M25.4,493 L36.1,496.3" fill="none" stroke="#222" stroke-width="0.75"/>
<path d="M46.0,480.2 L59.0,476.8 L79.2,472.8 M47.3,487.6 L63.0,483.5 L81.9,476.8" fill="none" stroke="#222" stroke-width="0.75"/>
<path d="M46.0,480.2 C38.0,482 28.0,485 25.4,493 L25.8,520 M47.3,487.6 C42.0,489 37.0,491 36.1,496.3 L37.0,519" fill="none" stroke="#222" stroke-width="0.75"/>
<g>
<path d="M125.4 495.2h1M152.6 481.6h1M125.4 489.3h1M116.2 501.3h1M134.4 486.5h1M107.7 491.1h1M119.2 496.9h1M153.7 473.9h1M159.9 479.9h1M131.1 493.4h1M111.1 509.1h1M155.6 474.4h1M139.9 484.7h1M123.9 493.8h1M108.3 507.3h1M161.6 475.6h1M149.4 484.8h1M114.3 509.7h1M110.8 510.9h1M125.0 487.5h1M108.2 503.2h1M123.4 491.4h1M137.3 491.7h1M171.7 474.8h1M109.4 487.6h1M148.7 490.4h1M116.9 511.3h1M162.6 480.6h1M157.5 478.0h1M148.3 480.4h1M133.1 490.7h1M160.1 476.7h1M141.9 484.8h1M124.1 499.2h1M168.5 478.2h1M144.0 480.2h1M134.4 480.8h1M141.9 490.4h1M115.5 512.1h1M147.9 481.3h1M138.9 490.7h1M125.6 490.1h1M140.8 475.6h1M128.5 499.2h1M134.5 488.6h1M143.6 481.0h1M137.8 491.5h1M129.0 490.5h1M160.9 474.9h1M127.2 505.6h1M128.6 490.1h1M115.5 524.9h1M163.0 477.0h1M122.9 496.3h1M153.1 478.1h1M112.2 507.4h1M139.2 487.9h1M113.1 516.1h1M128.1 504.2h1M163.5 478.2h1M139.2 489.0h1M115.7 512.1h1M134.1 481.7h1M109.2 510.0h1M130.4 485.0h1M158.9 475.6h1M135.4 483.9h1M151.3 481.4h1M156.3 473.0h1M122.8 488.1h1M155.9 481.0h1M142.5 490.3h1M120.3 491.4h1M128.4 488.3h1M137.7 487.3h1M134.2 489.6h1M159.2 479.0h1M165.9 475.0h1M119.5 492.3h1M163.8 477.3h1M150.1 476.6h1M148.7 480.7h1M115.6 523.9h1M117.4 488.9h1M127.3 493.7h1M118.1 512.0h1M151.5 478.7h1M119.7 502.9h1M137.3 483.2h1M153.7 475.7h1M103.2 509.0h1M109.5 503.0h1M151.4 484.3h1M141.0 487.0h1M117.1 514.3h1M108.9 506.6h1M165.3 472.4h1M141.6 481.6h1M163.3 486.0h1M122.2 490.7h1M105.5 501.4h1M133.0 491.5h1M113.7 517.6h1M141.0 482.1h1M152.0 483.9h1M152.7 478.3h1M116.2 507.3h1M114.4 512.4h1M165.7 477.8h1M151.1 478.4h1M116.3 510.2h1M117.0 512.2h1M109.5 487.9h1M157.4 481.5h1M139.6 481.7h1" stroke="#3040ff" stroke-width="0.9"/><path d="M117.4 496.0h1M162.9 477.9h1M146.9 480.7h1M161.4 472.8h1M118.9 504.7h1M136.3 491.2h1M118.7 516.8h1M168.5 480.1h1M143.9 485.5h1M112.5 501.7h1M141.2 476.3h1M107.1 518.3h1M132.1 494.9h1M149.7 485.5h1M120.0 495.7h1M106.7 509.9h1M146.0 486.1h1M115.7 495.5h1M154.1 482.7h1M107.8 506.9h1M122.1 489.1h1M145.0 478.7h1M137.0 486.1h1M115.8 500.8h1M112.5 524.7h1M152.2 479.7h1M164.0 481.5h1M133.7 488.1h1M118.9 522.1h1M133.7 492.5h1M119.8 516.4h1M134.3 491.0h1M137.0 485.9h1M117.3 509.3h1M161.9 483.2h1M151.7 475.8h1M148.9 478.2h1M156.5 482.4h1M125.5 487.9h1M152.4 487.6h1M121.6 487.3h1M166.3 478.5h1M122.7 499.3h1M139.5 487.6h1M139.8 480.9h1M141.0 481.4h1M158.8 474.5h1M116.4 518.9h1M106.6 523.8h1M161.0 480.2h1M160.1 479.5h1M129.6 498.2h1M121.7 498.9h1M122.8 489.7h1M125.6 487.3h1M121.7 523.4h1M155.9 477.5h1M153.8 483.6h1M112.7 512.2h1M117.7 503.4h1M150.5 490.4h1M117.7 494.4h1M165.2 465.3h1M113.6 521.3h1M129.9 493.0h1M148.5 481.8h1M114.7 510.5h1M164.3 477.3h1M117.3 518.0h1M122.0 490.3h1M130.8 489.9h1M117.3 522.7h1M153.3 480.3h1M148.0 485.8h1M129.4 488.4h1M169.6 478.6h1M155.4 479.9h1M106.0 515.1h1M145.1 482.8h1M163.8 476.5h1M104.3 510.0h1M111.8 496.6h1M129.4 487.9h1M157.8 479.1h1M153.2 479.4h1M137.2 490.1h1M131.5 493.6h1M157.2 489.5h1M115.7 489.4h1M151.4 482.8h1M164.7 476.9h1M162.7 477.1h1M136.5 488.8h1M122.5 507.5h1M169.6 481.8h1M140.5 482.2h1M153.2 480.4h1M108.8 516.3h1M115.4 512.6h1M155.4 480.3h1M141.9 483.7h1M125.4 491.6h1M117.4 520.1h1" stroke="#5a68ff" stroke-width="0.9"/><path d="M131.3 494.8h1M121.0 515.5h1M117.3 514.5h1M118.9 526.7h1M157.3 481.0h1M154.4 480.2h1M163.9 472.9h1M128.6 489.3h1M131.4 487.8h1M155.7 474.6h1M141.6 484.3h1M116.3 498.2h1M130.7 486.5h1M102.5 513.6h1M120.9 515.9h1M129.0 490.6h1M131.3 488.9h1M163.7 473.2h1M142.2 483.2h1M126.7 492.3h1M157.4 487.3h1M146.3 481.7h1M133.8 489.8h1M129.0 492.8h1M117.4 501.7h1M121.8 492.8h1M149.9 482.1h1M135.7 485.3h1M110.4 495.0h1M132.9 489.0h1M153.7 480.4h1M161.3 476.1h1M126.3 484.4h1M134.8 487.4h1M148.3 477.0h1M136.4 487.2h1M151.6 477.9h1M139.0 480.4h1M126.6 494.9h1M127.9 498.8h1M125.4 487.9h1M147.9 476.1h1M135.3 482.7h1M139.7 487.9h1M126.5 498.0h1M129.2 492.5h1M161.5 475.1h1M142.2 482.0h1M108.9 515.3h1M158.5 481.7h1M144.1 480.9h1M150.5 482.0h1M151.4 482.9h1M114.9 502.3h1M115.1 501.3h1M157.8 471.1h1M112.7 507.2h1M135.3 480.4h1M133.8 491.4h1M109.2 510.8h1M115.4 513.8h1M117.8 497.1h1M169.8 479.3h1M153.9 474.0h1M149.7 487.1h1M130.3 483.9h1M161.2 475.7h1M110.0 510.9h1M118.0 501.6h1M165.3 473.4h1M113.7 527.1h1M143.7 479.1h1M142.8 487.2h1M152.4 481.8h1M112.7 510.4h1M112.7 493.4h1M129.0 491.0h1M134.9 487.0h1M110.7 521.7h1M155.1 476.2h1M104.6 518.4h1M162.7 479.1h1M127.8 486.3h1M146.0 484.2h1M133.6 501.6h1M146.0 485.6h1M152.5 481.8h1M146.7 479.7h1M120.0 494.5h1M114.6 522.4h1M120.3 509.2h1M141.3 488.7h1M136.7 495.7h1M106.5 519.2h1M138.4 486.2h1M130.2 486.4h1M147.1 483.4h1M116.3 508.3h1M128.4 492.1h1M107.5 521.8h1M119.9 496.2h1" stroke="#8890ff" stroke-width="0.9"/><path d="M124.2 490.7h1M122.9 496.2h1M117.8 502.9h1M106.6 520.2h1M155.0 479.5h1M152.4 482.3h1M116.0 499.1h1M133.6 486.9h1M125.6 485.4h1M129.5 489.7h1M122.5 487.5h1M133.7 490.2h1M119.6 492.0h1M133.8 488.3h1M117.3 497.8h1M117.6 497.0h1M136.8 486.2h1M132.2 491.0h1M149.9 481.2h1M154.8 485.4h1M133.4 490.6h1M133.8 487.5h1M134.5 492.0h1M158.4 474.3h1M113.9 505.7h1M157.9 477.5h1M156.0 485.2h1M136.2 492.6h1M136.5 486.1h1M111.4 515.8h1M151.8 487.0h1M163.4 473.2h1M125.4 485.6h1M122.5 494.1h1M130.0 486.9h1M141.4 484.8h1M136.8 488.2h1M119.4 491.4h1M131.2 495.9h1M148.1 480.5h1M163.3 480.8h1M149.5 484.2h1M114.2 513.8h1M154.0 480.9h1M137.4 485.3h1M129.1 494.1h1M132.3 493.2h1M143.9 488.1h1M134.4 494.0h1M113.3 505.9h1M131.2 487.0h1M124.2 486.8h1M121.6 493.3h1M161.2 473.9h1M120.3 508.2h1M134.0 488.1h1M143.6 489.1h1M131.7 482.3h1M118.4 496.0h1M122.2 502.7h1M163.8 478.9h1M122.0 499.5h1M127.3 494.2h1M118.6 496.1h1M112.4 516.4h1M132.7 487.0h1M139.0 484.1h1M118.9 497.8h1M116.9 514.7h1M144.0 483.8h1M139.7 487.0h1M106.1 510.5h1M159.6 480.4h1M139.3 488.1h1M128.8 503.8h1M128.9 486.7h1M120.4 496.5h1M172.9 470.3h1M163.5 474.9h1M115.1 487.2h1M109.3 513.7h1M133.6 484.5h1M137.0 494.6h1M108.3 513.8h1M115.0 507.9h1M137.6 483.4h1M136.6 486.7h1M120.5 488.2h1M145.2 483.5h1M117.7 512.3h1M124.1 489.2h1M121.4 494.0h1M116.7 509.1h1M113.7 492.2h1M131.8 490.5h1M141.2 489.4h1M162.2 469.0h1M117.6 497.2h1M108.3 510.7h1M113.9 495.4h1M149.5 479.7h1M109.0 517.9h1M140.6 484.1h1M136.7 489.5h1M142.5 485.5h1M119.2 502.2h1M125.7 506.7h1M160.1 478.6h1" stroke="#aaa8f8" stroke-width="0.9"/><path d="M156.4 481.4h1M116.1 509.4h1M125.7 486.7h1M148.8 489.0h1M120.4 488.9h1M115.9 507.8h1M135.3 487.8h1M161.3 472.7h1M137.5 486.2h1M120.0 493.4h1M115.3 484.3h1M114.0 508.8h1M114.7 508.9h1M162.8 475.8h1M110.2 525.7h1M127.6 491.3h1M167.8 482.1h1M159.5 482.1h1M166.1 471.7h1M110.2 509.2h1M117.3 494.0h1M150.1 483.0h1M117.7 497.6h1M137.2 483.4h1M155.5 479.1h1M118.1 492.8h1M118.5 484.9h1M112.1 502.4h1M121.3 499.2h1M147.6 481.7h1M159.3 479.1h1M150.8 482.5h1M106.8 521.8h1M143.2 481.2h1M129.9 489.1h1M157.2 482.5h1M145.5 483.8h1M116.0 502.9h1M124.8 500.2h1M133.4 488.0h1M115.6 508.9h1M116.3 502.9h1M112.5 498.0h1M124.3 487.4h1M112.6 526.5h1M134.0 487.0h1M142.4 489.0h1M148.2 485.6h1M138.5 483.2h1M122.4 493.7h1M122.9 516.4h1M164.8 473.0h1M119.4 502.4h1M130.0 489.5h1M129.5 489.2h1M125.3 490.0h1M140.0 489.2h1M112.9 512.4h1M113.3 517.8h1M134.3 487.0h1M158.3 479.3h1M102.7 525.3h1M148.0 477.8h1M141.4 484.6h1M142.3 482.8h1M156.5 475.7h1M162.4 477.3h1M114.6 522.0h1M158.1 475.1h1M123.1 490.5h1M130.4 496.9h1M140.8 487.3h1M144.4 484.3h1M158.3 482.7h1M125.1 502.9h1M153.4 482.0h1M146.5 489.6h1M135.4 487.9h1M105.6 517.6h1M119.1 495.1h1M123.9 489.0h1M112.3 510.1h1M144.4 492.9h1M147.9 487.5h1M164.8 481.2h1M120.1 501.1h1M115.0 501.9h1M133.1 487.7h1M126.4 485.1h1M133.0 483.9h1M152.6 484.5h1M118.9 502.2h1M104.6 505.4h1M154.6 475.7h1M135.4 487.1h1M125.9 487.1h1M129.9 500.9h1M149.6 485.0h1M117.7 511.0h1M107.1 512.1h1M132.4 487.3h1M157.5 474.2h1M124.7 498.2h1M133.1 492.3h1M123.5 487.9h1M128.8 490.0h1M161.1 472.9h1M123.7 492.3h1M172.5 482.6h1M127.9 490.8h1M148.8 486.4h1M155.2 476.8h1M137.1 482.4h1M113.9 522.5h1M114.8 492.2h1" stroke="#c0b0f0" stroke-width="0.9"/><path d="M152.0 478.8h1M123.0 489.2h1M138.3 481.2h1M137.6 489.3h1M111.1 514.2h1M139.7 481.9h1M134.8 480.2h1M116.9 499.7h1M167.6 474.2h1M135.3 490.3h1M116.3 496.7h1M138.5 487.9h1M169.1 474.1h1M113.3 494.4h1M154.8 477.2h1M116.3 522.2h1M112.9 506.9h1M116.4 495.4h1M113.9 491.4h1M142.7 481.2h1M156.4 477.2h1M138.4 486.3h1M124.8 497.4h1M129.4 489.1h1M147.3 480.3h1M128.4 490.2h1M156.5 480.8h1M141.8 484.3h1M154.1 486.7h1M162.9 475.6h1M151.5 474.4h1M121.9 492.9h1M138.1 484.7h1M120.3 498.1h1M111.5 500.9h1M149.2 486.2h1M143.8 474.7h1M132.5 488.9h1M137.3 488.8h1M120.1 495.0h1M132.3 491.9h1M121.4 488.6h1M145.9 488.2h1M139.5 488.8h1M106.7 505.9h1M162.0 480.0h1M163.6 483.3h1M136.8 480.0h1M130.1 486.9h1M138.9 485.9h1M128.0 490.7h1M110.9 504.0h1M129.5 491.0h1M109.8 510.7h1M133.9 494.5h1M120.2 507.7h1M137.8 491.5h1M147.3 481.6h1M141.8 481.3h1M116.7 508.0h1M132.7 494.5h1M128.0 490.1h1M139.6 482.6h1M137.4 487.5h1M142.6 477.8h1M110.3 512.6h1M112.5 525.4h1M112.4 513.3h1M141.8 482.2h1M141.2 485.8h1M137.5 486.2h1M168.0 476.5h1M113.1 524.1h1M126.4 488.6h1M123.8 494.5h1M156.9 480.8h1M135.5 493.3h1M121.6 514.7h1M135.8 489.6h1M154.3 474.1h1M137.2 481.5h1M116.9 512.9h1M154.1 476.1h1M114.4 514.6h1M110.4 513.9h1M126.4 499.8h1M134.2 489.7h1M121.6 489.2h1M132.7 484.5h1M109.2 519.4h1M119.5 498.1h1M133.8 486.1h1M120.8 488.5h1M141.4 480.2h1M123.1 506.0h1M158.4 477.6h1M146.5 487.6h1M133.7 485.8h1M112.4 526.6h1M157.8 479.4h1M134.8 491.7h1M138.6 487.9h1M127.3 488.5h1M154.2 479.2h1M110.9 519.2h1M112.8 520.3h1M111.9 515.1h1M113.0 525.0h1" stroke="#2838e8" stroke-width="0.9"/>
<g><g filter="url(#fb)">
<path d="M168.2,470.7 167.2,469.7 164.2,468.7 153.9,469.0 132.2,474.0 128.2,476.0 119.9,478.7 114.2,479.0 108.6,481.7 104.6,486.0 103.2,489.4 103.2,491.4 102.6,493.0 103.6,502.0 102.9,519.7 103.2,528.4 119.2,528.4 119.6,520.4 118.6,499.4 118.9,497.0 122.6,495.0 128.6,493.0 135.2,492.7 140.2,491.4 144.2,489.0 147.9,485.4 158.9,482.4 161.2,480.7 166.9,478.0 168.6,476.4 169.2,473.0Z" fill="#7080ff" fill-opacity="0.3" fill-rule="evenodd"/>
<path d="M167.6,471.7 165.2,470.0 153.2,470.4 140.6,473.0 136.6,474.7 132.9,475.0 127.9,477.7 120.2,480.0 114.2,480.4 111.6,481.4 108.6,483.4 105.2,488.0 104.2,492.4 104.2,496.7 104.9,500.4 104.9,520.7 106.6,528.4 115.9,528.4 117.2,523.4 117.2,496.4 122.2,493.7 127.9,491.7 136.2,491.4 139.6,490.4 143.9,487.7 146.9,484.4 157.6,481.7 166.9,476.7 167.9,475.0Z" fill="#2436f2" fill-opacity="0.78" fill-rule="evenodd"/>
<path d="M166.2,472.0 165.2,471.4 154.9,471.4 140.6,474.4 137.6,475.7 133.6,476.0 130.9,477.0 127.6,479.4 120.9,481.4 115.6,481.4 110.2,483.7 107.9,486.0 106.9,488.0 106.6,491.4 105.6,493.7 106.6,501.4 106.9,516.7 107.6,520.7 108.9,523.7 110.2,524.7 112.2,524.7 114.6,521.7 115.2,519.0 115.9,509.7 115.9,500.4 115.2,496.4 116.2,495.4 118.9,494.4 121.6,492.4 129.9,489.7 132.2,490.4 134.9,490.4 138.9,489.4 141.9,487.7 145.6,483.4 156.9,480.7 165.6,476.0 166.9,474.0Z" fill="#1e50ff" fill-rule="evenodd"/>
<path d="M165.6,473.4 164.2,472.4 154.6,472.4 152.9,473.0 150.6,473.0 145.2,474.7 140.9,475.4 137.9,476.7 134.2,476.7 130.9,478.0 128.2,480.4 124.6,481.7 120.2,482.7 115.2,482.4 110.9,484.4 108.9,486.4 107.9,488.4 107.9,491.7 106.9,494.0 109.2,518.0 110.6,519.4 111.9,519.4 112.9,518.4 113.6,516.4 114.6,506.7 114.6,500.7 113.9,495.7 114.9,494.7 118.2,493.7 121.2,491.4 127.2,489.0 130.2,488.7 131.9,489.4 136.2,489.4 139.2,488.4 143.2,485.0 144.2,482.7 151.2,481.4 156.6,479.7 164.9,475.0Z" fill="#10a8ff" fill-rule="evenodd"/>
<path d="M162.2,474.0 159.6,473.4 154.2,473.4 149.6,474.0 146.6,475.4 140.9,476.4 138.9,477.4 133.2,477.7 130.6,479.0 128.2,481.4 125.2,482.7 120.9,483.7 115.9,483.0 112.2,484.4 110.2,486.0 108.9,488.4 109.2,492.4 108.6,493.4 109.6,505.4 111.2,510.7 111.9,510.0 112.9,506.0 113.2,502.0 112.6,495.0 113.2,494.4 116.9,493.4 118.9,492.4 120.9,490.4 126.6,488.0 129.9,487.7 132.2,488.7 135.9,488.7 138.2,488.0 142.2,485.0 143.6,482.0 148.2,480.7 152.2,480.4 155.9,479.0 160.6,476.4 162.2,474.7Z" fill="#20e8b0" fill-rule="evenodd"/>
<path d="M158.6,475.0 156.2,474.4 151.6,474.4 148.9,475.0 146.6,476.4 141.2,477.4 139.2,478.4 136.9,477.7 134.2,478.0 131.2,479.4 128.9,481.7 128.6,482.7 125.9,484.0 119.6,484.7 118.6,484.0 113.9,484.4 110.2,487.4 109.6,490.0 110.2,491.7 111.6,493.0 115.9,493.0 118.6,491.7 120.6,489.4 127.2,486.4 129.2,486.4 132.2,488.0 136.2,488.0 139.6,486.7 141.6,484.7 142.6,481.0 152.9,479.4 157.2,477.0 158.6,475.7Z" fill="#48f040" fill-rule="evenodd"/>
<path d="M119.2,486.4 116.9,485.0 113.2,486.0 111.2,488.7 111.6,490.7 112.9,491.7 116.9,491.4 118.9,489.7 119.6,488.4ZM140.6,480.4 138.6,479.0 136.9,478.7 133.2,479.4 130.2,481.7 129.9,485.0 132.6,487.0 136.6,487.0 138.2,486.4 140.2,484.7 140.9,483.4ZM153.2,476.7 152.6,476.0 150.9,476.0 149.2,476.7 148.6,477.7 149.2,478.4 150.9,478.4 152.6,477.7Z" fill="#b0f020" fill-rule="evenodd"/>
<path d="M117.2,486.7 115.2,486.4 113.9,487.0 112.9,488.4 112.9,489.7 114.2,490.7 116.9,490.0 117.9,488.7 117.9,487.4ZM139.9,481.4 137.6,479.7 134.6,479.7 132.9,480.4 131.2,482.0 130.9,484.4 131.9,485.7 133.2,486.4 135.9,486.4 138.2,485.4 139.6,484.0Z" fill="#f8e000" fill-rule="evenodd"/>
<path d="M138.9,481.7 137.2,480.4 133.9,480.7 131.9,482.4 131.9,484.4 133.9,485.7 136.9,485.4 138.6,484.0Z" fill="#ff9000" fill-rule="evenodd"/>
<path d="M132.9,482.4 132.6,483.4 134.2,485.0 137.2,484.4 138.2,482.7 137.9,481.7 136.9,481.0 134.9,481.0Z" fill="#f82010" fill-rule="evenodd"/>
</g></g></g>
<path d="M125.9,480.2 L127.2,487.6 M138.9,476.8 L142.9,483.5 M159.10000000000002,472.8 L161.8,476.8 M105.30000000000001,493 L116.0,496.3" fill="none" stroke="#222" stroke-width="0.75"/>
<path d="M125.9,480.2 L138.9,476.8 L159.10000000000002,472.8 M127.2,487.6 L142.9,483.5 L161.8,476.8" fill="none" stroke="#222" stroke-width="0.75"/>
<path d="M125.9,480.2 C117.9,482 107.9,485 105.30000000000001,493 L105.7,520 M127.2,487.6 C121.9,489 116.9,491 116.0,496.3 L116.9,519" fill="none" stroke="#222" stroke-width="0.75"/>
<g>
<path d="M200.3 492.7h1M229.0 484.8h1M219.9 485.9h1M210.7 487.0h1M234.9 478.7h1M226.2 482.1h1M211.7 490.1h1M188.8 505.5h1M223.4 496.7h1M215.7 488.0h1M232.3 474.2h1M193.2 503.5h1M193.9 510.2h1M225.5 486.4h1M211.0 489.1h1M232.6 469.7h1M194.4 519.7h1M219.1 487.9h1M209.2 490.1h1M236.5 477.6h1M197.0 505.0h1M226.0 487.2h1M224.2 484.5h1M238.0 477.3h1M206.6 495.4h1M199.5 490.4h1M219.0 482.4h1M196.7 496.4h1M237.2 480.5h1M206.3 485.4h1M222.6 486.8h1M228.5 483.3h1M190.5 517.1h1M211.7 483.4h1M235.8 473.0h1M225.8 479.6h1M200.0 492.1h1M219.2 485.3h1M210.1 488.6h1M197.2 510.8h1M193.0 496.3h1M201.7 493.3h1M186.5 513.3h1M198.3 494.3h1M195.7 507.3h1M206.6 488.5h1M226.9 490.0h1M241.3 478.3h1M214.8 490.6h1M186.2 507.0h1M222.0 485.8h1M236.9 477.6h1M226.4 482.1h1M239.0 476.8h1M187.5 509.6h1M208.6 489.3h1M211.4 486.8h1M192.6 513.5h1M239.4 475.3h1M183.9 519.0h1M231.2 483.2h1M231.4 483.4h1M221.1 484.9h1M234.5 478.8h1M227.2 483.5h1M212.3 485.6h1M232.7 481.7h1M196.5 518.6h1M244.1 469.3h1M211.7 490.6h1M217.0 487.8h1M196.8 490.4h1M242.0 476.1h1M240.2 475.7h1M212.2 490.6h1M197.3 503.4h1M203.4 517.2h1M236.4 477.8h1M244.5 475.6h1M194.0 526.8h1M186.0 507.9h1M232.6 479.6h1M238.3 472.5h1M222.9 485.9h1M225.7 489.5h1M238.0 474.7h1M214.3 489.4h1M219.5 484.0h1M241.3 474.3h1M234.8 489.3h1M232.9 479.8h1M210.1 497.3h1M235.7 481.0h1M191.4 522.4h1M184.6 519.9h1M227.1 481.4h1M200.7 489.2h1M240.1 475.9h1M231.1 481.7h1M226.4 482.8h1M213.2 484.3h1M225.0 484.1h1M196.0 508.5h1M201.3 497.2h1M184.4 524.3h1M225.5 484.8h1M207.7 492.2h1M191.3 504.9h1M187.1 519.2h1M243.8 469.9h1M224.7 486.2h1M211.8 492.1h1M222.3 484.7h1M217.0 487.5h1M218.2 483.7h1M230.8 477.8h1M229.9 485.5h1M197.1 495.1h1M210.6 489.5h1" stroke="#3040ff" stroke-width="0.9"/><path d="M189.7 515.8h1M223.8 485.4h1M230.3 479.9h1M239.8 476.0h1M186.2 515.1h1M189.1 510.3h1M197.7 495.8h1M212.7 490.2h1M201.0 499.2h1M190.9 508.4h1M207.9 489.3h1M209.2 481.8h1M190.0 506.1h1M197.5 487.2h1M213.2 490.2h1M242.1 480.8h1M235.5 477.1h1M237.4 479.5h1M213.6 489.1h1M243.0 480.2h1M186.7 509.0h1M235.6 485.6h1M231.5 478.5h1M192.8 503.3h1M246.4 475.7h1M200.0 492.9h1M193.2 514.1h1M202.4 495.1h1M242.2 474.1h1M208.9 489.3h1M198.6 499.1h1M196.2 504.7h1M207.7 486.9h1M186.3 510.7h1M223.0 477.0h1M237.5 481.3h1M203.3 488.2h1M218.3 487.5h1M195.7 508.4h1M235.1 471.3h1M213.9 485.4h1M212.6 486.7h1M220.9 486.7h1M214.1 490.6h1M211.3 490.4h1M197.7 495.3h1M210.8 487.7h1M205.1 492.0h1M194.6 490.2h1M200.1 496.8h1M234.0 478.9h1M192.5 501.2h1M217.4 484.5h1M193.8 509.7h1M221.0 488.2h1M219.5 486.8h1M207.4 493.4h1M195.8 499.1h1M194.0 512.4h1M200.3 501.5h1M199.4 511.4h1M190.4 492.2h1M220.7 487.1h1M190.8 516.5h1M228.6 479.4h1M231.9 477.7h1M235.5 477.7h1M217.3 482.4h1M181.8 524.5h1M209.5 482.5h1M207.1 487.1h1M191.9 509.9h1M229.2 480.8h1M235.2 482.4h1M216.6 481.3h1M222.7 479.3h1M187.5 503.2h1M207.3 496.5h1M198.3 491.4h1M237.0 482.0h1M217.3 486.1h1M217.4 490.5h1M235.8 476.9h1M220.0 487.4h1M196.3 494.1h1M194.2 499.7h1M202.0 481.8h1M194.8 515.9h1M220.3 483.9h1M195.3 522.5h1M206.2 494.0h1M188.4 522.0h1M195.1 524.4h1M229.3 484.3h1M220.7 483.9h1M229.4 473.7h1M220.5 487.8h1M193.9 490.5h1M209.8 490.9h1M190.9 510.7h1M208.1 500.1h1M237.7 478.5h1M253.8 474.4h1M205.6 498.1h1M213.4 484.2h1M221.8 483.9h1M209.7 491.2h1M205.3 493.7h1M195.3 507.4h1M231.8 470.1h1M209.6 483.8h1M213.5 493.3h1M191.0 492.3h1M202.5 484.2h1" stroke="#5a68ff" stroke-width="0.9"/><path d="M205.5 488.5h1M229.9 490.9h1M191.2 500.7h1M208.3 489.2h1M235.7 476.6h1M216.0 492.7h1M206.9 488.6h1M220.1 484.8h1M217.6 488.0h1M219.4 484.0h1M213.5 487.6h1M189.0 513.3h1M231.0 485.8h1M223.0 483.3h1M248.9 474.8h1M242.7 476.4h1M185.9 517.5h1M198.6 522.7h1M197.3 524.5h1M235.1 481.4h1M237.6 474.1h1M190.6 489.6h1M227.1 485.1h1M202.8 522.2h1M241.6 478.9h1M238.0 478.6h1M236.7 488.5h1M198.2 492.0h1M210.7 485.5h1M233.7 483.5h1M197.9 504.9h1M214.5 487.0h1M248.9 478.0h1M194.6 524.8h1M216.0 489.5h1M192.3 509.9h1M228.6 483.6h1M226.7 479.8h1M224.0 487.1h1M187.9 492.2h1M216.2 491.1h1M186.7 516.0h1M205.7 490.8h1M218.8 489.7h1M229.2 480.3h1M202.7 517.3h1M189.8 511.9h1M215.5 491.5h1M238.8 482.4h1M194.4 506.8h1M217.5 481.8h1M226.4 485.4h1M195.3 493.5h1M190.6 488.4h1M220.8 484.6h1M240.6 475.2h1M194.2 524.2h1M219.6 485.9h1M222.0 482.9h1M214.8 482.8h1M240.0 475.8h1M227.9 484.4h1M230.2 480.4h1M205.1 486.9h1M193.2 502.9h1M192.4 502.0h1M221.2 488.2h1M239.1 472.3h1M244.0 479.0h1M210.3 486.7h1M217.3 481.3h1M203.8 489.9h1M224.3 482.5h1M198.3 522.7h1M206.3 488.2h1M214.8 488.2h1M224.3 488.9h1M188.9 510.2h1M237.1 479.4h1M215.0 488.1h1M238.0 481.0h1M239.3 478.6h1M211.2 488.6h1M196.8 504.7h1M185.0 506.2h1M194.9 512.0h1M203.7 486.1h1M213.6 492.5h1M195.7 510.8h1M214.2 486.9h1M205.8 492.6h1M225.8 479.0h1M198.8 503.9h1M243.9 474.2h1M191.8 519.7h1M240.0 476.6h1M206.9 484.8h1M231.4 478.9h1M218.7 484.6h1M212.3 489.0h1M195.2 501.6h1M185.5 523.5h1M203.1 492.8h1M229.4 484.5h1M216.7 488.0h1M246.0 476.6h1M192.4 501.9h1M223.5 485.3h1" stroke="#8890ff" stroke-width="0.9"/><path d="M200.7 479.8h1M216.2 484.1h1M238.1 480.6h1M206.6 489.6h1M225.0 484.2h1M223.4 482.7h1M235.9 484.6h1M210.7 486.4h1M223.4 482.4h1M205.6 497.3h1M194.3 514.1h1M191.3 505.4h1M205.6 501.7h1M226.7 485.2h1M232.2 480.0h1M197.4 520.8h1M187.6 515.1h1M206.8 481.7h1M230.7 479.1h1M242.7 482.0h1M194.7 525.3h1M186.5 509.2h1M187.3 501.0h1M219.0 480.0h1M190.6 520.8h1M192.8 517.2h1M194.8 516.7h1M236.3 475.8h1M198.0 486.2h1M232.7 478.6h1M208.7 492.3h1M191.0 502.6h1M204.4 487.0h1M240.8 475.4h1M218.2 490.4h1M195.2 508.7h1M194.3 505.5h1M226.7 487.4h1M193.9 496.9h1M211.8 499.0h1M214.6 488.6h1M220.6 480.9h1M225.4 485.4h1M188.8 484.8h1M205.4 491.9h1M203.2 489.2h1M205.8 501.7h1M197.7 510.2h1M219.9 489.0h1M194.9 509.3h1M211.8 487.0h1M224.1 481.4h1M226.6 481.7h1M197.6 522.5h1M190.2 511.8h1M219.3 485.9h1M220.1 495.7h1M212.3 486.9h1M206.2 484.9h1M228.6 475.1h1M205.3 495.1h1M198.6 517.7h1M234.6 482.3h1M203.2 492.1h1M215.5 488.0h1M237.7 480.0h1M200.1 492.2h1M225.7 483.5h1M218.3 491.0h1M188.1 516.9h1M229.3 482.8h1M195.8 510.9h1M189.3 495.8h1M186.6 517.5h1M236.6 483.9h1M241.1 473.9h1M224.7 482.7h1M220.6 476.6h1M227.4 482.4h1M240.3 479.7h1M188.3 515.3h1M210.9 496.5h1M221.4 488.4h1M222.5 482.9h1M215.8 478.8h1M223.1 490.8h1M238.0 481.0h1M193.8 503.7h1M207.1 521.1h1M191.7 514.9h1M227.8 482.0h1M204.2 485.8h1M191.2 492.1h1M240.1 482.0h1M220.4 482.5h1M203.9 500.8h1M229.7 480.3h1M212.2 481.9h1M197.1 491.8h1M202.1 507.4h1M190.1 514.3h1M226.4 476.8h1M210.2 492.6h1M206.7 489.5h1M194.1 506.1h1M203.2 496.1h1M211.8 492.8h1M236.7 475.6h1M201.0 498.8h1M234.7 479.4h1M242.5 477.1h1" stroke="#aaa8f8" stroke-width="0.9"/><path d="M189.2 520.9h1M236.1 475.6h1M187.2 502.6h1M212.1 489.0h1M205.8 486.6h1M217.1 486.1h1M215.0 484.1h1M240.4 472.4h1M231.0 479.5h1M214.9 484.4h1M193.1 509.4h1M246.5 473.2h1M246.3 476.8h1M210.9 494.9h1M216.3 488.2h1M186.8 517.0h1M240.3 481.6h1M224.7 479.0h1M219.3 477.3h1M188.2 506.3h1M233.0 482.1h1M192.2 512.2h1M196.5 522.7h1M240.9 480.7h1M227.1 482.6h1M197.7 497.4h1M234.4 476.5h1M216.9 491.4h1M196.8 515.5h1M212.9 484.6h1M196.9 491.0h1M232.8 473.3h1M202.3 510.6h1M220.8 481.2h1M216.4 489.6h1M189.0 516.9h1M194.3 505.2h1M187.4 508.8h1M210.3 491.5h1M203.6 489.0h1M237.6 482.4h1M201.6 522.5h1M235.8 480.9h1M230.2 486.2h1M205.9 497.8h1M205.3 508.7h1M223.7 482.2h1M218.8 489.3h1M232.3 476.9h1M242.5 474.5h1M222.1 482.5h1M194.4 502.4h1M219.0 489.7h1M222.7 486.0h1M208.3 496.1h1M246.0 477.9h1M238.7 478.2h1M197.2 507.2h1M189.4 501.5h1M232.8 474.5h1M223.5 489.6h1M197.1 493.1h1M236.5 481.8h1M224.2 483.4h1M190.5 495.8h1M232.2 475.8h1M212.5 490.0h1M226.4 488.9h1M199.5 521.6h1M232.4 484.0h1M222.8 486.0h1M222.7 482.8h1M220.9 482.7h1M198.8 495.0h1M220.0 488.6h1M201.8 497.0h1M198.8 489.9h1M222.0 481.0h1M206.2 483.8h1M189.5 499.6h1M206.4 480.1h1M198.0 498.3h1M191.8 514.4h1M242.5 476.0h1M201.0 494.5h1M206.3 490.9h1M247.1 477.1h1M234.0 485.5h1M199.8 496.6h1M183.6 509.6h1M229.0 486.6h1M238.4 477.2h1M224.9 479.3h1M186.8 514.1h1M219.7 490.7h1M221.1 489.3h1M219.6 480.9h1M199.7 492.4h1M226.7 485.2h1M236.1 476.5h1M202.9 493.4h1M228.1 481.1h1M223.9 485.3h1M228.7 488.1h1M195.1 495.4h1M211.3 489.7h1M225.7 483.3h1M229.9 482.5h1M234.1 481.6h1M234.3 479.1h1M239.6 472.2h1M206.7 486.6h1M200.9 494.5h1M245.3 480.4h1" stroke="#c0b0f0" stroke-width="0.9"/><path d="M232.4 479.1h1M193.6 509.4h1M241.1 475.2h1M216.8 486.8h1M223.3 489.4h1M221.3 483.0h1M197.2 514.7h1M190.8 514.6h1M190.1 512.9h1M242.7 481.2h1M235.5 469.3h1M228.4 486.2h1M182.2 503.1h1M210.1 499.5h1M201.0 492.7h1M195.7 519.5h1M238.4 477.5h1M197.7 496.3h1M196.4 486.3h1M205.6 484.6h1M233.2 483.4h1M219.1 489.0h1M189.9 521.7h1M200.1 483.6h1M211.3 494.5h1M209.7 485.8h1M209.1 488.7h1M230.6 474.9h1M210.7 484.0h1M206.3 486.7h1M202.6 495.4h1M236.7 474.3h1M213.3 488.3h1M186.6 520.3h1M209.1 490.0h1M205.0 505.3h1M219.1 487.3h1M242.5 472.3h1M213.0 488.0h1M220.5 486.5h1M198.7 518.6h1M194.6 490.5h1M217.6 490.6h1M242.5 471.7h1M219.0 479.5h1M241.3 481.3h1M250.2 478.0h1M230.0 483.4h1M220.1 489.0h1M228.1 488.5h1M209.2 488.6h1M240.4 474.3h1M195.8 494.0h1M200.1 512.2h1M217.9 490.4h1M201.3 491.2h1M222.4 483.6h1M196.2 493.0h1M235.1 473.2h1M231.7 479.8h1M230.4 482.2h1M246.2 472.9h1M234.8 479.8h1M208.4 486.2h1M213.6 492.5h1M190.0 516.0h1M232.7 480.5h1M240.5 482.7h1M207.5 487.4h1M243.4 474.2h1M233.9 482.3h1M189.0 497.9h1M206.7 489.1h1M224.3 482.0h1M230.3 485.0h1M189.5 501.1h1M209.0 490.4h1M192.6 506.1h1M200.1 493.1h1M238.1 478.8h1M227.8 487.3h1M194.4 509.1h1M188.2 496.8h1M185.5 521.0h1" stroke="#2838e8" stroke-width="0.9"/>
<g><g filter="url(#fb)">
<path d="M247.2,470.7 246.2,469.7 243.2,468.7 232.9,469.0 218.6,472.0 199.9,478.4 196.2,478.0 192.9,478.7 186.9,481.7 183.2,485.7 181.6,490.4 181.9,493.4 182.6,494.4 183.2,501.0 182.9,513.7 181.9,523.4 182.2,528.4 198.2,528.4 198.2,519.0 196.9,500.0 197.2,497.7 202.6,494.7 207.6,493.0 216.2,492.0 219.2,491.0 222.2,489.4 225.9,485.7 237.9,482.4 240.2,480.7 245.9,478.0 247.6,476.4 248.2,473.0Z" fill="#7080ff" fill-opacity="0.3" fill-rule="evenodd"/>
<path d="M246.6,471.7 244.2,470.0 232.2,470.4 219.6,473.0 200.2,479.7 195.6,479.4 192.6,480.0 187.2,483.0 184.6,486.0 183.2,489.4 183.2,492.0 184.2,494.0 184.9,501.0 184.2,521.4 185.6,528.4 194.9,528.4 196.2,519.7 195.2,500.4 195.6,497.0 199.6,495.4 202.9,493.0 206.9,491.7 217.6,490.4 222.2,487.7 224.6,484.7 236.6,481.7 245.9,476.7 246.9,475.0Z" fill="#2436f2" fill-opacity="0.78" fill-rule="evenodd"/>
<path d="M245.2,472.0 244.2,471.4 233.9,471.4 219.6,474.4 214.9,476.4 211.9,476.7 207.6,479.0 201.2,481.0 193.6,481.0 190.2,482.4 187.9,484.0 185.2,487.7 184.9,492.0 186.2,494.4 186.9,501.0 186.6,518.4 187.6,522.0 188.6,523.7 190.6,524.4 192.2,523.0 193.9,518.0 193.6,500.7 192.9,497.0 193.2,496.4 197.9,495.0 201.6,492.0 208.9,489.7 215.6,489.7 220.6,487.4 223.6,483.7 235.9,480.7 244.6,476.0 245.9,474.0Z" fill="#1e50ff" fill-rule="evenodd"/>
<path d="M244.6,473.4 243.2,472.4 233.6,472.4 231.9,473.0 229.6,473.0 224.2,474.7 219.9,475.4 216.2,477.0 212.9,477.4 203.6,481.7 200.6,482.4 198.6,481.7 194.2,481.7 189.2,484.0 187.6,485.7 185.9,489.0 185.9,491.4 186.9,493.4 188.6,494.7 188.9,496.7 189.2,517.4 189.9,518.0 191.2,517.4 191.2,501.7 190.6,498.0 190.9,495.4 194.2,495.4 196.6,494.7 199.9,492.7 201.2,491.0 206.2,489.0 209.6,488.4 213.9,489.0 216.9,488.4 219.9,486.7 222.6,483.0 235.6,479.7 243.9,475.0Z" fill="#10a8ff" fill-rule="evenodd"/>
<path d="M241.2,474.0 238.6,473.4 230.2,473.7 225.6,475.4 219.9,476.4 216.9,477.7 211.2,478.7 208.2,481.0 202.9,483.0 199.9,483.4 197.9,482.4 193.2,482.7 191.6,483.4 188.2,486.0 186.9,488.7 186.9,491.4 187.6,492.7 189.9,494.4 193.9,494.7 198.2,493.0 201.6,489.7 205.6,488.0 208.9,487.4 210.9,488.0 215.6,488.0 218.6,486.7 220.9,484.4 221.2,482.7 221.9,482.0 227.2,480.7 231.2,480.4 234.9,479.0 239.6,476.4 241.2,474.7Z" fill="#20e8b0" fill-rule="evenodd"/>
<path d="M237.6,475.0 235.2,474.4 230.6,474.4 227.9,475.0 225.6,476.4 220.2,477.4 217.2,478.7 213.2,478.7 210.9,479.7 208.2,482.4 203.2,484.4 200.2,484.7 197.6,483.0 194.2,483.0 190.6,484.7 188.6,486.7 187.6,489.0 187.6,490.7 189.6,493.4 191.6,494.0 194.2,494.0 198.6,492.0 201.6,488.4 206.2,486.4 209.6,486.4 211.6,487.4 215.2,487.4 217.2,486.7 219.9,484.4 220.6,482.0 221.6,481.0 231.9,479.4 236.2,477.0 237.6,475.7Z" fill="#48f040" fill-rule="evenodd"/>
<path d="M199.6,485.7 196.9,484.0 194.6,484.0 191.9,485.0 189.2,487.7 189.2,491.4 190.2,492.4 192.2,493.0 196.9,492.0 198.6,490.7 199.9,488.4ZM217.6,480.0 213.6,479.7 211.6,480.7 209.9,482.7 210.2,485.0 212.6,486.4 214.9,486.4 217.2,485.4 218.9,483.4 218.9,481.7ZM232.2,476.7 231.6,476.0 229.9,476.0 228.2,476.7 227.6,477.7 228.2,478.4 229.9,478.4 231.6,477.7Z" fill="#b0f020" fill-rule="evenodd"/>
<path d="M198.2,485.7 196.9,485.0 193.9,485.0 192.2,485.7 189.9,488.7 190.2,490.7 191.9,492.0 194.9,492.0 196.9,491.0 198.9,488.4ZM217.6,482.0 215.9,480.7 213.9,480.7 211.6,482.4 211.2,484.0 212.2,485.0 214.6,485.4 217.2,483.7Z" fill="#f8e000" fill-rule="evenodd"/>
<path d="M197.6,486.4 196.6,485.7 193.9,485.7 192.6,486.4 190.9,488.4 190.9,490.0 192.6,491.4 194.6,491.4 196.2,490.7 197.9,488.7ZM212.9,482.7 213.2,484.0 214.9,484.0 215.9,483.4 215.6,482.0 213.6,482.0Z" fill="#ff9000" fill-rule="evenodd"/>
<path d="M196.6,486.7 194.2,486.4 191.9,488.0 191.9,489.7 193.2,490.7 195.9,490.0 196.9,488.7Z" fill="#f82010" fill-rule="evenodd"/>
</g></g></g>
<path d="M204.9,480.2 L206.2,487.6 M217.9,476.8 L221.9,483.5 M238.10000000000002,472.8 L240.8,476.8 M184.3,493 L195.0,496.3" fill="none" stroke="#222" stroke-width="0.75"/>
<path d="M204.9,480.2 L217.9,476.8 L238.10000000000002,472.8 M206.2,487.6 L221.9,483.5 L240.8,476.8" fill="none" stroke="#222" stroke-width="0.75"/>
<path d="M204.9,480.2 C196.9,482 186.9,485 184.3,493 L184.70000000000002,520 M206.2,487.6 C200.9,489 195.9,491 195.0,496.3 L195.9,519" fill="none" stroke="#222" stroke-width="0.75"/>
<text x="31.4" y="470.6" font-size="5.4" text-anchor="middle" fill="#222" font-weight="normal" >IV</text>
<text x="31.4" y="476" font-size="5.4" text-anchor="middle" fill="#222" font-weight="normal" >19.5</text>
<text x="49.8" y="467" font-size="5.4" text-anchor="middle" fill="#222" font-weight="normal" >III</text>
<text x="50.1" y="472.2" font-size="5.4" text-anchor="middle" fill="#222" font-weight="normal" >28.4</text>
<text x="66.1" y="465.4" font-size="5.4" text-anchor="middle" fill="#222" font-weight="normal" >II</text>
<text x="66.5" y="470.1" font-size="5.4" text-anchor="middle" fill="#222" font-weight="normal" >17.3</text>
<text x="44.0" y="507.5" font-size="5.4" text-anchor="middle" fill="#222" font-weight="normal" >V</text>
<text x="44.0" y="512.7" font-size="5.4" text-anchor="middle" fill="#222" font-weight="normal" >17.4</text>
<text x="111.30000000000001" y="470.6" font-size="5.4" text-anchor="middle" fill="#222" font-weight="normal" >IV</text>
<text x="111.30000000000001" y="476" font-size="5.4" text-anchor="middle" fill="#222" font-weight="normal" >25.7</text>
<text x="129.7" y="467" font-size="5.4" text-anchor="middle" fill="#222" font-weight="normal" >III</text>
<text x="130.0" y="472.2" font-size="5.4" text-anchor="middle" fill="#222" font-weight="normal" >28.8</text>
<text x="146.0" y="465.4" font-size="5.4" text-anchor="middle" fill="#222" font-weight="normal" >II</text>
<text x="146.4" y="470.1" font-size="5.4" text-anchor="middle" fill="#222" font-weight="normal" >18.2</text>
<text x="123.9" y="507.5" font-size="5.4" text-anchor="middle" fill="#222" font-weight="normal" >V</text>
<text x="123.9" y="512.7" font-size="5.4" text-anchor="middle" fill="#222" font-weight="normal" >10.2</text>
<text x="190.3" y="470.6" font-size="5.4" text-anchor="middle" fill="#222" font-weight="normal" >IV</text>
<text x="190.3" y="476" font-size="5.4" text-anchor="middle" fill="#222" font-weight="normal" >33.6</text>
<text x="208.7" y="467" font-size="5.4" text-anchor="middle" fill="#222" font-weight="normal" >III</text>
<text x="209.0" y="472.2" font-size="5.4" text-anchor="middle" fill="#222" font-weight="normal" >25.0</text>
<text x="225.0" y="465.4" font-size="5.4" text-anchor="middle" fill="#222" font-weight="normal" >II</text>
<text x="225.4" y="470.1" font-size="5.4" text-anchor="middle" fill="#222" font-weight="normal" >19.7</text>
<text x="202.9" y="507.5" font-size="5.4" text-anchor="middle" fill="#222" font-weight="normal" >V</text>
<text x="202.9" y="512.7" font-size="5.4" text-anchor="middle" fill="#222" font-weight="normal" >5.89</text>
<rect x="21.6" y="353.7" width="75.6" height="76.90000000000003" fill="none" stroke="#555" stroke-width="1.3"/>
<text x="59.400000000000006" y="447.5" font-size="10" text-anchor="middle" fill="#111" font-weight="normal" stroke="#111" stroke-width="0.25" >Ter119</text>
<rect x="101" y="354" width="76.19999999999999" height="76.60000000000002" fill="none" stroke="#555" stroke-width="1.3"/>
<text x="139.1" y="447.5" font-size="10" text-anchor="middle" fill="#111" font-weight="normal" stroke="#111" stroke-width="0.25" >Ter119</text>
<rect x="180.4" y="354" width="76.6" height="76.60000000000002" fill="none" stroke="#555" stroke-width="1.3"/>
<text x="218.7" y="447.5" font-size="10" text-anchor="middle" fill="#111" font-weight="normal" stroke="#111" stroke-width="0.25" >Ter119</text>
<rect x="21.5" y="452.8" width="76.2" height="75.69999999999999" fill="none" stroke="#555" stroke-width="1.3"/>
<text x="59.6" y="542" font-size="10" text-anchor="middle" fill="#111" font-weight="normal" stroke="#111" stroke-width="0.25" >FSC</text>
<rect x="101.4" y="453.2" width="76.0" height="75.30000000000001" fill="none" stroke="#555" stroke-width="1.3"/>
<text x="139.4" y="542" font-size="10" text-anchor="middle" fill="#111" font-weight="normal" stroke="#111" stroke-width="0.25" >FSC</text>
<rect x="180.4" y="453.2" width="75.99999999999997" height="75.69999999999999" fill="none" stroke="#555" stroke-width="1.3"/>
<text x="218.39999999999998" y="542" font-size="10" text-anchor="middle" fill="#111" font-weight="normal" stroke="#111" stroke-width="0.25" >FSC</text>
<text transform="translate(15.5,393.5) rotate(-90) scale(1.0,1)" font-size="10" text-anchor="middle" fill="#111" stroke="#111" stroke-width="0.25">CD44</text>
<text transform="translate(16,491.5) rotate(-90) scale(1.0,1)" font-size="10" text-anchor="middle" fill="#111" stroke="#111" stroke-width="0.25">CD44</text>
<text x="271.8" y="340.6" font-size="12.5" text-anchor="start" fill="#000" font-weight="bold" >E</text>
<line x1="306.3" y1="351.5" x2="306.3" y2="484.7" stroke="#111" stroke-width="1.2"/>
<line x1="305.7" y1="484.2" x2="503.4" y2="484.2" stroke="#111" stroke-width="1.2"/>
<line x1="302.3" y1="484.2" x2="306.3" y2="484.2" stroke="#111" stroke-width="1"/>
<text x="299.5" y="487.8" font-size="10" text-anchor="end" fill="#111" font-weight="normal" stroke="#111" stroke-width="0.25" >0</text>
<line x1="302.3" y1="451.7" x2="306.3" y2="451.7" stroke="#111" stroke-width="1"/>
<text x="299.5" y="455.3" font-size="10" text-anchor="end" fill="#111" font-weight="normal" stroke="#111" stroke-width="0.25" >10</text>
<line x1="302.3" y1="419.2" x2="306.3" y2="419.2" stroke="#111" stroke-width="1"/>
<text x="299.5" y="422.8" font-size="10" text-anchor="end" fill="#111" font-weight="normal" stroke="#111" stroke-width="0.25" >20</text>
<line x1="302.3" y1="386.7" x2="306.3" y2="386.7" stroke="#111" stroke-width="1"/>
<text x="299.5" y="390.3" font-size="10" text-anchor="end" fill="#111" font-weight="normal" stroke="#111" stroke-width="0.25" >30</text>
<line x1="302.3" y1="354.2" x2="306.3" y2="354.2" stroke="#111" stroke-width="1"/>
<text x="299.5" y="357.8" font-size="10" text-anchor="end" fill="#111" font-weight="normal" stroke="#111" stroke-width="0.25" >40</text>
<text transform="translate(281,418) rotate(-90) scale(0.85,1)" font-size="9" text-anchor="middle" fill="#111" stroke="#111" stroke-width="0.42">Ter119<tspan dy="-3" font-size="6">+</tspan><tspan dy="3"> cells (%)</tspan></text>
<rect x="349.5" y="438.05" width="8.3" height="46.14999999999998" fill="#38b451" />
<rect x="359.2" y="423.09999999999997" width="8.3" height="61.10000000000002" fill="#145388" />
<rect x="368.2" y="417.575" width="8.3" height="66.625" fill="#c6122f" />
<rect x="390.8" y="411.72499999999997" width="8.3" height="72.47500000000002" fill="#38b451" />
<rect x="400.3" y="393.84999999999997" width="8.3" height="90.35000000000002" fill="#145388" />
<rect x="409.5" y="393.84999999999997" width="8.3" height="90.35000000000002" fill="#c6122f" />
<rect x="431.8" y="404.25" width="8.3" height="79.94999999999999" fill="#38b451" />
<rect x="441.3" y="399.375" width="8.3" height="84.82499999999999" fill="#145388" />
<rect x="450.8" y="388.325" width="8.3" height="95.875" fill="#c6122f" />
<rect x="473.1" y="430.9" width="8.3" height="53.30000000000001" fill="#38b451" />
<rect x="482.3" y="450.72499999999997" width="8.3" height="33.47500000000002" fill="#145388" />
<rect x="492.0" y="463.075" width="8.3" height="21.125" fill="#c6122f" />
<line x1="353.65" y1="428.625" x2="353.65" y2="448.45" stroke="#222" stroke-width="0.9"/>
<line x1="351.65" y1="428.625" x2="355.65" y2="428.625" stroke="#222" stroke-width="0.9"/>
<circle cx="353.7" cy="428.625" r="2.4" fill="#fff" stroke="#222" stroke-width="0.9"/>
<circle cx="353.7" cy="435.45" r="2.4" fill="#fff" stroke="#222" stroke-width="0.9"/>
<circle cx="353.7" cy="448.45" r="2.4" fill="#fff" stroke="#222" stroke-width="0.9"/>
<circle cx="361.5" cy="418.55" r="2.4" fill="#fff" stroke="#222" stroke-width="0.9"/>
<circle cx="364.9" cy="421.8" r="2.4" fill="#fff" stroke="#222" stroke-width="0.9"/>
<circle cx="361.5" cy="425.375" r="2.4" fill="#fff" stroke="#222" stroke-width="0.9"/>
<line x1="372.34999999999997" y1="410.75" x2="372.34999999999997" y2="420.5" stroke="#222" stroke-width="0.9"/>
<line x1="370.34999999999997" y1="410.75" x2="374.34999999999997" y2="410.75" stroke="#222" stroke-width="0.9"/>
<circle cx="372.3" cy="410.75" r="2.4" fill="#fff" stroke="#222" stroke-width="0.9"/>
<circle cx="370.5" cy="420.5" r="2.4" fill="#fff" stroke="#222" stroke-width="0.9"/>
<circle cx="374.59999999999997" cy="420.5" r="2.4" fill="#fff" stroke="#222" stroke-width="0.9"/>
<line x1="394.95" y1="392.22499999999997" x2="394.95" y2="427.97499999999997" stroke="#222" stroke-width="0.9"/>
<line x1="392.95" y1="392.22499999999997" x2="396.95" y2="392.22499999999997" stroke="#222" stroke-width="0.9"/>
<circle cx="394.6" cy="392.22499999999997" r="2.4" fill="#fff" stroke="#222" stroke-width="0.9"/>
<circle cx="393.0" cy="420.825" r="2.4" fill="#fff" stroke="#222" stroke-width="0.9"/>
<circle cx="396.6" cy="420.825" r="2.4" fill="#fff" stroke="#222" stroke-width="0.9"/>
<circle cx="402.3" cy="388.0" r="2.4" fill="#fff" stroke="#222" stroke-width="0.9"/>
<circle cx="406.2" cy="390.59999999999997" r="2.4" fill="#fff" stroke="#222" stroke-width="0.9"/>
<circle cx="404.3" cy="402.3" r="2.4" fill="#fff" stroke="#222" stroke-width="0.9"/>
<line x1="413.65" y1="380.84999999999997" x2="413.65" y2="402.95" stroke="#222" stroke-width="0.9"/>
<line x1="411.65" y1="380.84999999999997" x2="415.65" y2="380.84999999999997" stroke="#222" stroke-width="0.9"/>
<circle cx="413.8" cy="380.84999999999997" r="2.4" fill="#fff" stroke="#222" stroke-width="0.9"/>
<circle cx="413.8" cy="397.425" r="2.4" fill="#fff" stroke="#222" stroke-width="0.9"/>
<circle cx="413.8" cy="402.3" r="2.4" fill="#fff" stroke="#222" stroke-width="0.9"/>
<line x1="435.95" y1="388.325" x2="435.95" y2="421.47499999999997" stroke="#222" stroke-width="0.9"/>
<line x1="433.95" y1="388.325" x2="437.95" y2="388.325" stroke="#222" stroke-width="0.9"/>
<circle cx="434.0" cy="394.5" r="2.4" fill="#fff" stroke="#222" stroke-width="0.9"/>
<circle cx="437.5" cy="394.5" r="2.4" fill="#fff" stroke="#222" stroke-width="0.9"/>
<circle cx="436.1" cy="421.47499999999997" r="2.4" fill="#fff" stroke="#222" stroke-width="0.9"/>
<line x1="445.45" y1="388.97499999999997" x2="445.45" y2="407.825" stroke="#222" stroke-width="0.9"/>
<line x1="443.45" y1="388.97499999999997" x2="447.45" y2="388.97499999999997" stroke="#222" stroke-width="0.9"/>
<circle cx="444.90000000000003" cy="388.97499999999997" r="2.4" fill="#fff" stroke="#222" stroke-width="0.9"/>
<circle cx="445.3" cy="401.97499999999997" r="2.4" fill="#fff" stroke="#222" stroke-width="0.9"/>
<circle cx="445.3" cy="407.825" r="2.4" fill="#fff" stroke="#222" stroke-width="0.9"/>
<line x1="454.95" y1="370.45" x2="454.95" y2="409.45" stroke="#222" stroke-width="0.9"/>
<line x1="452.95" y1="370.45" x2="456.95" y2="370.45" stroke="#222" stroke-width="0.9"/>
<circle cx="452.7" cy="375.65" r="2.4" fill="#fff" stroke="#222" stroke-width="0.9"/>
<circle cx="456.5" cy="380.525" r="2.4" fill="#fff" stroke="#222" stroke-width="0.9"/>
<circle cx="454.8" cy="409.45" r="2.4" fill="#fff" stroke="#222" stroke-width="0.9"/>
<circle cx="474.70000000000005" cy="427.325" r="2.4" fill="#fff" stroke="#222" stroke-width="0.9"/>
<circle cx="478.70000000000005" cy="429.59999999999997" r="2.4" fill="#fff" stroke="#222" stroke-width="0.9"/>
<circle cx="475.6" cy="434.47499999999997" r="2.4" fill="#fff" stroke="#222" stroke-width="0.9"/>
<circle cx="485.8" cy="450.075" r="2.4" fill="#fff" stroke="#222" stroke-width="0.9"/>
<circle cx="488.90000000000003" cy="451.375" r="2.4" fill="#fff" stroke="#222" stroke-width="0.9"/>
<circle cx="484.6" cy="454.625" r="2.4" fill="#fff" stroke="#222" stroke-width="0.9"/>
<circle cx="494.2" cy="460.47499999999997" r="2.4" fill="#fff" stroke="#222" stroke-width="0.9"/>
<circle cx="497.2" cy="463.075" r="2.4" fill="#fff" stroke="#222" stroke-width="0.9"/>
<circle cx="494.2" cy="465.675" r="2.4" fill="#fff" stroke="#222" stroke-width="0.9"/>
<circle cx="310.8" cy="483.0" r="2.4" fill="#fff" stroke="#222" stroke-width="0.9"/>
<circle cx="314.4" cy="482.6" r="2.4" fill="#fff" stroke="#222" stroke-width="0.9"/>
<circle cx="312.4" cy="479.8" r="2.4" fill="#fff" stroke="#222" stroke-width="0.9"/>
<circle cx="320.4" cy="482.4" r="2.4" fill="#fff" stroke="#222" stroke-width="0.9"/>
<circle cx="322.8" cy="482.2" r="2.4" fill="#fff" stroke="#222" stroke-width="0.9"/>
<circle cx="321.5" cy="479.4" r="2.4" fill="#fff" stroke="#222" stroke-width="0.9"/>
<circle cx="329.9" cy="481.8" r="2.4" fill="#fff" stroke="#222" stroke-width="0.9"/>
<circle cx="333.3" cy="482.1" r="2.4" fill="#fff" stroke="#222" stroke-width="0.9"/>
<circle cx="331.3" cy="479.1" r="2.4" fill="#fff" stroke="#222" stroke-width="0.9"/>
<line x1="321.5" y1="484.2" x2="321.5" y2="487.5" stroke="#111" stroke-width="1.1"/>
<line x1="363.3" y1="484.2" x2="363.3" y2="487.5" stroke="#111" stroke-width="1.1"/>
<line x1="404.4" y1="484.2" x2="404.4" y2="487.5" stroke="#111" stroke-width="1.1"/>
<line x1="445.4" y1="484.2" x2="445.4" y2="487.5" stroke="#111" stroke-width="1.1"/>
<line x1="486.2" y1="484.2" x2="486.2" y2="487.5" stroke="#111" stroke-width="1.1"/>
<text x="322.7" y="500.3" font-size="9.5" text-anchor="middle" fill="#111" font-weight="normal" stroke="#111" stroke-width="0.25" >Pop I</text>
<text x="363.5" y="500.3" font-size="9.5" text-anchor="middle" fill="#111" font-weight="normal" stroke="#111" stroke-width="0.25" >Pop II</text>
<text x="404.3" y="500.3" font-size="9.5" text-anchor="middle" fill="#111" font-weight="normal" stroke="#111" stroke-width="0.25" >Pop III</text>
<text x="445.2" y="500.3" font-size="9.5" text-anchor="middle" fill="#111" font-weight="normal" stroke="#111" stroke-width="0.25" >Pop IV</text>
<text x="486.3" y="500.3" font-size="9.5" text-anchor="middle" fill="#111" font-weight="normal" stroke="#111" stroke-width="0.25" >Pop V</text>
<path d="M351.5,408.5 V405.7 H364.3 V408.5" fill="none" stroke="#333" stroke-width="0.9"/>
<circle cx="358.2" cy="400.0" r="1.2" fill="#222"/>
<path d="M361.5,395.0 V391.5 H374.6 V395.0" fill="none" stroke="#4a7fb8" stroke-width="0.9"/>
<text x="368.4" y="389.2" font-size="9.5" text-anchor="middle" fill="#4a7fb8" font-weight="normal" stroke="#4a7fb8" stroke-width="0.25" >ns</text>
<path d="M475.6,420.09999999999997 V416.7 H488.5 V420.09999999999997" fill="none" stroke="#333" stroke-width="0.9"/>
<circle cx="482.1" cy="411.5" r="1.2" fill="#222"/>
<path d="M475.6,405.3 V402 H496.7 V405.3" fill="none" stroke="#333" stroke-width="0.9"/>
<circle cx="483.3" cy="397.1" r="1.2" fill="#222"/>
<circle cx="486.8" cy="397.1" r="1.2" fill="#222"/>
<circle cx="490.3" cy="397.1" r="1.2" fill="#222"/>
<path d="M484.2,389.1 V386.3 H498 V389.1" fill="none" stroke="#4a7fb8" stroke-width="0.9"/>
<text x="492.2" y="383.6" font-size="9.5" text-anchor="middle" fill="#4a7fb8" font-weight="normal" stroke="#4a7fb8" stroke-width="0.25" >ns</text>
<rect x="341" y="519.6" width="6.8" height="6.6" fill="#38b451" />
<text x="351.6" y="526.2" font-size="9.3" text-anchor="start" fill="#111" font-weight="normal" stroke="#111" stroke-width="0.25" >HbAA</text>
<rect x="384.2" y="519.6" width="6.8" height="6.6" fill="#145388" />
<text x="394.8" y="526.2" font-size="9.3" text-anchor="start" fill="#111" font-weight="normal" stroke="#111" stroke-width="0.25" >HbSC</text>
<rect x="428" y="519.6" width="6.8" height="6.6" fill="#c6122f" />
<text x="438.6" y="526.2" font-size="9.3" text-anchor="start" fill="#111" font-weight="normal" stroke="#111" stroke-width="0.25" >HbSS</text>
<rect x="0.5" y="0.5" width="519" height="549" fill="none" stroke="#333" stroke-width="1"/>
</svg></body></html>
